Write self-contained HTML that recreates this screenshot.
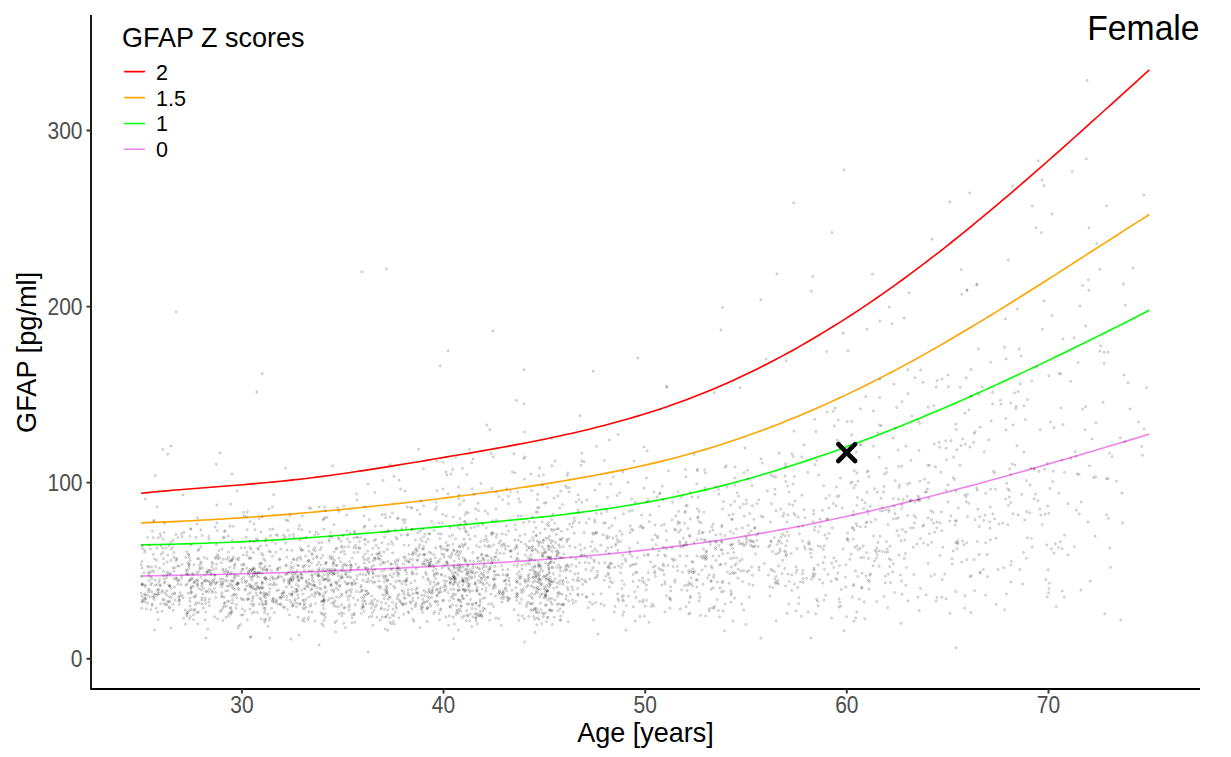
<!DOCTYPE html>
<html><head><meta charset="utf-8"><style>html,body{margin:0;padding:0;background:#fff;width:1231px;height:757px;overflow:hidden}svg{display:block}</style></head>
<body><svg width="1231" height="757" viewBox="0 0 1231 757">
<rect width="1231" height="757" fill="#fff"/>
<g fill="none" stroke-width="1.6" stroke-linejoin="round" stroke-linecap="butt">
<path d="M141.08,493.28 L147.42,492.63 L153.76,492.01 L160.10,491.41 L166.44,490.83 L172.78,490.27 L179.12,489.73 L185.46,489.21 L191.80,488.69 L198.15,488.19 L204.49,487.69 L210.83,487.19 L217.17,486.70 L223.51,486.20 L229.85,485.71 L236.19,485.20 L242.53,484.69 L248.88,484.16 L255.22,483.62 L261.56,483.06 L267.90,482.48 L274.24,481.88 L280.58,481.26 L286.92,480.60 L293.26,479.92 L299.60,479.21 L305.95,478.46 L312.29,477.69 L318.63,476.89 L324.97,476.06 L331.31,475.21 L337.65,474.33 L343.99,473.43 L350.33,472.51 L356.68,471.58 L363.02,470.62 L369.36,469.65 L375.70,468.66 L382.04,467.66 L388.38,466.64 L394.72,465.61 L401.06,464.58 L407.41,463.53 L413.75,462.48 L420.09,461.42 L426.43,460.36 L432.77,459.29 L439.11,458.22 L445.45,457.15 L451.79,456.08 L458.13,455.01 L464.48,453.93 L470.82,452.84 L477.16,451.75 L483.50,450.64 L489.84,449.53 L496.18,448.40 L502.52,447.25 L508.86,446.09 L515.21,444.91 L521.55,443.71 L527.89,442.49 L534.23,441.24 L540.57,439.97 L546.91,438.67 L553.25,437.34 L559.59,435.98 L565.94,434.59 L572.28,433.16 L578.62,431.70 L584.96,430.20 L591.30,428.66 L597.64,427.08 L603.98,425.46 L610.32,423.79 L616.66,422.08 L623.01,420.31 L629.35,418.50 L635.69,416.64 L642.03,414.72 L648.37,412.75 L654.71,410.73 L661.05,408.64 L667.39,406.50 L673.74,404.29 L680.08,402.02 L686.42,399.68 L692.76,397.28 L699.10,394.81 L705.44,392.27 L711.78,389.66 L718.12,386.97 L724.46,384.22 L730.81,381.40 L737.15,378.51 L743.49,375.55 L749.83,372.52 L756.17,369.43 L762.51,366.26 L768.85,363.03 L775.19,359.73 L781.54,356.37 L787.88,352.93 L794.22,349.43 L800.56,345.87 L806.90,342.24 L813.24,338.54 L819.58,334.77 L825.92,330.94 L832.27,327.05 L838.61,323.09 L844.95,319.07 L851.29,314.98 L857.63,310.83 L863.97,306.62 L870.31,302.34 L876.65,298.00 L882.99,293.60 L889.34,289.13 L895.68,284.61 L902.02,280.02 L908.36,275.37 L914.70,270.66 L921.04,265.89 L927.38,261.07 L933.72,256.19 L940.07,251.26 L946.41,246.28 L952.75,241.25 L959.09,236.17 L965.43,231.05 L971.77,225.88 L978.11,220.67 L984.45,215.41 L990.80,210.12 L997.14,204.79 L1003.48,199.42 L1009.82,194.02 L1016.16,188.59 L1022.50,183.13 L1028.84,177.63 L1035.18,172.11 L1041.52,166.56 L1047.87,160.99 L1054.21,155.40 L1060.55,149.78 L1066.89,144.14 L1073.23,138.49 L1079.57,132.82 L1085.91,127.14 L1092.25,121.44 L1098.60,115.73 L1104.94,110.01 L1111.28,104.29 L1117.62,98.56 L1123.96,92.82 L1130.30,87.08 L1136.64,81.34 L1142.98,75.60 L1149.33,69.86" stroke="#FF0000"/>
<path d="M141.08,522.85 L147.42,522.63 L153.76,522.40 L160.10,522.16 L166.44,521.90 L172.78,521.62 L179.12,521.33 L185.46,521.03 L191.80,520.72 L198.15,520.38 L204.49,520.04 L210.83,519.68 L217.17,519.31 L223.51,518.93 L229.85,518.53 L236.19,518.12 L242.53,517.69 L248.88,517.26 L255.22,516.81 L261.56,516.34 L267.90,515.87 L274.24,515.38 L280.58,514.88 L286.92,514.37 L293.26,513.84 L299.60,513.31 L305.95,512.76 L312.29,512.20 L318.63,511.63 L324.97,511.04 L331.31,510.45 L337.65,509.84 L343.99,509.22 L350.33,508.59 L356.68,507.95 L363.02,507.30 L369.36,506.64 L375.70,505.97 L382.04,505.29 L388.38,504.59 L394.72,503.89 L401.06,503.18 L407.41,502.45 L413.75,501.72 L420.09,500.97 L426.43,500.22 L432.77,499.46 L439.11,498.68 L445.45,497.90 L451.79,497.11 L458.13,496.31 L464.48,495.49 L470.82,494.67 L477.16,493.83 L483.50,492.98 L489.84,492.12 L496.18,491.24 L502.52,490.35 L508.86,489.44 L515.21,488.52 L521.55,487.58 L527.89,486.62 L534.23,485.65 L540.57,484.66 L546.91,483.65 L553.25,482.62 L559.59,481.57 L565.94,480.50 L572.28,479.41 L578.62,478.30 L584.96,477.16 L591.30,476.01 L597.64,474.83 L603.98,473.62 L610.32,472.39 L616.66,471.14 L623.01,469.85 L629.35,468.53 L635.69,467.18 L642.03,465.79 L648.37,464.36 L654.71,462.88 L661.05,461.37 L667.39,459.81 L673.74,458.19 L680.08,456.53 L686.42,454.82 L692.76,453.05 L699.10,451.23 L705.44,449.36 L711.78,447.44 L718.12,445.46 L724.46,443.43 L730.81,441.35 L737.15,439.22 L743.49,437.04 L749.83,434.81 L756.17,432.53 L762.51,430.19 L768.85,427.81 L775.19,425.38 L781.54,422.89 L787.88,420.36 L794.22,417.78 L800.56,415.15 L806.90,412.47 L813.24,409.74 L819.58,406.97 L825.92,404.14 L832.27,401.27 L838.61,398.35 L844.95,395.38 L851.29,392.37 L857.63,389.31 L863.97,386.20 L870.31,383.05 L876.65,379.85 L882.99,376.60 L889.34,373.31 L895.68,369.97 L902.02,366.59 L908.36,363.16 L914.70,359.69 L921.04,356.17 L927.38,352.62 L933.72,349.03 L940.07,345.40 L946.41,341.73 L952.75,338.04 L959.09,334.30 L965.43,330.54 L971.77,326.75 L978.11,322.93 L984.45,319.08 L990.80,315.21 L997.14,311.31 L1003.48,307.39 L1009.82,303.45 L1016.16,299.49 L1022.50,295.51 L1028.84,291.52 L1035.18,287.51 L1041.52,283.49 L1047.87,279.46 L1054.21,275.41 L1060.55,271.36 L1066.89,267.30 L1073.23,263.24 L1079.57,259.17 L1085.91,255.09 L1092.25,251.02 L1098.60,246.95 L1104.94,242.88 L1111.28,238.81 L1117.62,234.74 L1123.96,230.68 L1130.30,226.63 L1136.64,222.59 L1142.98,218.56 L1149.33,214.54" stroke="#FFA500"/>
<path d="M141.08,544.89 L147.42,544.78 L153.76,544.66 L160.10,544.52 L166.44,544.38 L172.78,544.22 L179.12,544.05 L185.46,543.87 L191.80,543.67 L198.15,543.47 L204.49,543.25 L210.83,543.01 L217.17,542.77 L223.51,542.51 L229.85,542.24 L236.19,541.95 L242.53,541.66 L248.88,541.34 L255.22,541.02 L261.56,540.68 L267.90,540.33 L274.24,539.96 L280.58,539.58 L286.92,539.19 L293.26,538.78 L299.60,538.36 L305.95,537.92 L312.29,537.48 L318.63,537.02 L324.97,536.55 L331.31,536.06 L337.65,535.57 L343.99,535.07 L350.33,534.56 L356.68,534.04 L363.02,533.52 L369.36,532.98 L375.70,532.44 L382.04,531.90 L388.38,531.35 L394.72,530.80 L401.06,530.24 L407.41,529.68 L413.75,529.11 L420.09,528.55 L426.43,527.98 L432.77,527.41 L439.11,526.84 L445.45,526.28 L451.79,525.71 L458.13,525.14 L464.48,524.57 L470.82,524.00 L477.16,523.42 L483.50,522.84 L489.84,522.25 L496.18,521.65 L502.52,521.04 L508.86,520.42 L515.21,519.79 L521.55,519.15 L527.89,518.49 L534.23,517.82 L540.57,517.13 L546.91,516.43 L553.25,515.71 L559.59,514.96 L565.94,514.20 L572.28,513.41 L578.62,512.61 L584.96,511.77 L591.30,510.92 L597.64,510.03 L603.98,509.12 L610.32,508.18 L616.66,507.21 L623.01,506.21 L629.35,505.17 L635.69,504.11 L642.03,503.01 L648.37,501.87 L654.71,500.69 L661.05,499.48 L667.39,498.23 L673.74,496.94 L680.08,495.60 L686.42,494.23 L692.76,492.81 L699.10,491.35 L705.44,489.85 L711.78,488.31 L718.12,486.73 L724.46,485.11 L730.81,483.45 L737.15,481.75 L743.49,480.01 L749.83,478.23 L756.17,476.42 L762.51,474.57 L768.85,472.68 L775.19,470.76 L781.54,468.80 L787.88,466.81 L794.22,464.78 L800.56,462.72 L806.90,460.62 L813.24,458.49 L819.58,456.33 L825.92,454.14 L832.27,451.91 L838.61,449.65 L844.95,447.36 L851.29,445.04 L857.63,442.70 L863.97,440.32 L870.31,437.91 L876.65,435.47 L882.99,433.01 L889.34,430.52 L895.68,428.00 L902.02,425.45 L908.36,422.88 L914.70,420.28 L921.04,417.66 L927.38,415.01 L933.72,412.34 L940.07,409.64 L946.41,406.93 L952.75,404.18 L959.09,401.42 L965.43,398.63 L971.77,395.82 L978.11,392.99 L984.45,390.14 L990.80,387.27 L997.14,384.38 L1003.48,381.47 L1009.82,378.55 L1016.16,375.60 L1022.50,372.64 L1028.84,369.65 L1035.18,366.66 L1041.52,363.64 L1047.87,360.61 L1054.21,357.56 L1060.55,354.50 L1066.89,351.43 L1073.23,348.34 L1079.57,345.23 L1085.91,342.12 L1092.25,338.99 L1098.60,335.85 L1104.94,332.69 L1111.28,329.53 L1117.62,326.36 L1123.96,323.17 L1130.30,319.97 L1136.64,316.77 L1142.98,313.56 L1149.33,310.33" stroke="#00FF00"/>
<path d="M141.08,575.97 L147.42,575.87 L153.76,575.76 L160.10,575.65 L166.44,575.53 L172.78,575.41 L179.12,575.29 L185.46,575.16 L191.80,575.03 L198.15,574.89 L204.49,574.75 L210.83,574.60 L217.17,574.45 L223.51,574.30 L229.85,574.13 L236.19,573.97 L242.53,573.80 L248.88,573.63 L255.22,573.45 L261.56,573.26 L267.90,573.07 L274.24,572.88 L280.58,572.68 L286.92,572.48 L293.26,572.27 L299.60,572.06 L305.95,571.84 L312.29,571.62 L318.63,571.39 L324.97,571.15 L331.31,570.92 L337.65,570.67 L343.99,570.42 L350.33,570.17 L356.68,569.91 L363.02,569.65 L369.36,569.38 L375.70,569.10 L382.04,568.82 L388.38,568.53 L394.72,568.24 L401.06,567.95 L407.41,567.64 L413.75,567.34 L420.09,567.02 L426.43,566.70 L432.77,566.38 L439.11,566.05 L445.45,565.71 L451.79,565.37 L458.13,565.02 L464.48,564.67 L470.82,564.30 L477.16,563.93 L483.50,563.56 L489.84,563.17 L496.18,562.78 L502.52,562.37 L508.86,561.96 L515.21,561.53 L521.55,561.10 L527.89,560.66 L534.23,560.20 L540.57,559.74 L546.91,559.26 L553.25,558.77 L559.59,558.26 L565.94,557.75 L572.28,557.22 L578.62,556.67 L584.96,556.11 L591.30,555.54 L597.64,554.95 L603.98,554.35 L610.32,553.73 L616.66,553.10 L623.01,552.45 L629.35,551.78 L635.69,551.09 L642.03,550.39 L648.37,549.67 L654.71,548.92 L661.05,548.17 L667.39,547.39 L673.74,546.59 L680.08,545.77 L686.42,544.93 L692.76,544.07 L699.10,543.19 L705.44,542.29 L711.78,541.36 L718.12,540.42 L724.46,539.45 L730.81,538.45 L737.15,537.43 L743.49,536.39 L749.83,535.33 L756.17,534.24 L762.51,533.13 L768.85,531.99 L775.19,530.83 L781.54,529.65 L787.88,528.45 L794.22,527.22 L800.56,525.98 L806.90,524.71 L813.24,523.42 L819.58,522.11 L825.92,520.78 L832.27,519.44 L838.61,518.07 L844.95,516.68 L851.29,515.27 L857.63,513.85 L863.97,512.41 L870.31,510.95 L876.65,509.47 L882.99,507.97 L889.34,506.46 L895.68,504.93 L902.02,503.39 L908.36,501.83 L914.70,500.25 L921.04,498.66 L927.38,497.05 L933.72,495.43 L940.07,493.80 L946.41,492.15 L952.75,490.49 L959.09,488.82 L965.43,487.13 L971.77,485.43 L978.11,483.72 L984.45,481.99 L990.80,480.26 L997.14,478.51 L1003.48,476.75 L1009.82,474.99 L1016.16,473.21 L1022.50,471.42 L1028.84,469.62 L1035.18,467.82 L1041.52,466.00 L1047.87,464.18 L1054.21,462.35 L1060.55,460.51 L1066.89,458.66 L1073.23,456.81 L1079.57,454.95 L1085.91,453.08 L1092.25,451.21 L1098.60,449.33 L1104.94,447.45 L1111.28,445.56 L1117.62,443.66 L1123.96,441.76 L1130.30,439.86 L1136.64,437.95 L1142.98,436.04 L1149.33,434.13" stroke="#EE82EE"/>
</g>
<g fill="#000" fill-opacity="0.06" stroke="#000" stroke-opacity="0.22" stroke-width="0.8"><circle cx="309.2" cy="566.2" r="1.05"/><circle cx="375.4" cy="559.6" r="1.05"/><circle cx="771.0" cy="475.1" r="1.05"/><circle cx="622.8" cy="471.9" r="1.05"/><circle cx="430.5" cy="558.9" r="1.05"/><circle cx="387.3" cy="549.4" r="1.05"/><circle cx="549.6" cy="558.1" r="1.05"/><circle cx="279.2" cy="575.7" r="1.05"/><circle cx="618.5" cy="565.7" r="1.05"/><circle cx="977.3" cy="490.1" r="1.05"/><circle cx="324.7" cy="592.7" r="1.05"/><circle cx="990.3" cy="507.0" r="1.05"/><circle cx="611.9" cy="525.6" r="1.05"/><circle cx="211.9" cy="566.9" r="1.05"/><circle cx="460.5" cy="524.4" r="1.05"/><circle cx="889.9" cy="546.3" r="1.05"/><circle cx="648.4" cy="572.5" r="1.05"/><circle cx="382.6" cy="561.8" r="1.05"/><circle cx="692.7" cy="585.8" r="1.05"/><circle cx="303.9" cy="600.6" r="1.05"/><circle cx="201.3" cy="563.4" r="1.05"/><circle cx="259.3" cy="588.1" r="1.05"/><circle cx="392.7" cy="544.4" r="1.05"/><circle cx="470.3" cy="569.6" r="1.05"/><circle cx="338.2" cy="589.8" r="1.05"/><circle cx="794.4" cy="584.1" r="1.05"/><circle cx="284.0" cy="538.7" r="1.05"/><circle cx="236.8" cy="583.6" r="1.05"/><circle cx="208.8" cy="602.1" r="1.05"/><circle cx="549.7" cy="610.1" r="1.05"/><circle cx="845.7" cy="587.1" r="1.05"/><circle cx="551.0" cy="581.8" r="1.05"/><circle cx="960.2" cy="387.3" r="1.05"/><circle cx="681.6" cy="589.8" r="1.05"/><circle cx="853.5" cy="511.6" r="1.05"/><circle cx="955.8" cy="491.1" r="1.05"/><circle cx="524.6" cy="642.0" r="1.05"/><circle cx="970.0" cy="576.6" r="1.05"/><circle cx="487.4" cy="541.6" r="1.05"/><circle cx="343.6" cy="623.3" r="1.05"/><circle cx="464.6" cy="528.9" r="1.05"/><circle cx="609.3" cy="565.1" r="1.05"/><circle cx="385.9" cy="616.9" r="1.05"/><circle cx="331.3" cy="583.9" r="1.05"/><circle cx="392.5" cy="513.1" r="1.05"/><circle cx="332.6" cy="574.5" r="1.05"/><circle cx="404.1" cy="597.6" r="1.05"/><circle cx="144.6" cy="549.9" r="1.05"/><circle cx="567.3" cy="475.4" r="1.05"/><circle cx="350.0" cy="532.9" r="1.05"/><circle cx="191.3" cy="609.4" r="1.05"/><circle cx="558.8" cy="544.8" r="1.05"/><circle cx="271.5" cy="608.4" r="1.05"/><circle cx="366.3" cy="594.9" r="1.05"/><circle cx="460.1" cy="518.5" r="1.05"/><circle cx="252.1" cy="613.2" r="1.05"/><circle cx="474.7" cy="613.9" r="1.05"/><circle cx="475.7" cy="608.8" r="1.05"/><circle cx="329.9" cy="556.4" r="1.05"/><circle cx="361.2" cy="585.5" r="1.05"/><circle cx="347.5" cy="584.3" r="1.05"/><circle cx="333.8" cy="603.1" r="1.05"/><circle cx="479.4" cy="547.1" r="1.05"/><circle cx="297.9" cy="575.7" r="1.05"/><circle cx="487.9" cy="577.1" r="1.05"/><circle cx="323.2" cy="600.7" r="1.05"/><circle cx="824.0" cy="600.1" r="1.05"/><circle cx="274.3" cy="582.9" r="1.05"/><circle cx="855.7" cy="618.0" r="1.05"/><circle cx="272.9" cy="598.1" r="1.05"/><circle cx="713.1" cy="524.1" r="1.05"/><circle cx="555.6" cy="542.6" r="1.05"/><circle cx="295.8" cy="592.3" r="1.05"/><circle cx="724.5" cy="630.7" r="1.05"/><circle cx="325.5" cy="564.1" r="1.05"/><circle cx="204.2" cy="557.5" r="1.05"/><circle cx="559.5" cy="568.2" r="1.05"/><circle cx="518.2" cy="515.9" r="1.05"/><circle cx="573.0" cy="523.2" r="1.05"/><circle cx="270.0" cy="617.8" r="1.05"/><circle cx="324.7" cy="587.0" r="1.05"/><circle cx="633.1" cy="581.6" r="1.05"/><circle cx="200.8" cy="529.9" r="1.05"/><circle cx="873.6" cy="446.2" r="1.05"/><circle cx="454.6" cy="572.4" r="1.05"/><circle cx="559.8" cy="547.2" r="1.05"/><circle cx="372.7" cy="548.3" r="1.05"/><circle cx="273.4" cy="599.1" r="1.05"/><circle cx="148.1" cy="589.4" r="1.05"/><circle cx="296.4" cy="584.4" r="1.05"/><circle cx="866.5" cy="552.5" r="1.05"/><circle cx="1040.7" cy="515.1" r="1.05"/><circle cx="460.4" cy="567.9" r="1.05"/><circle cx="421.4" cy="609.6" r="1.05"/><circle cx="345.2" cy="607.5" r="1.05"/><circle cx="1025.3" cy="419.5" r="1.05"/><circle cx="184.0" cy="532.4" r="1.05"/><circle cx="443.1" cy="488.9" r="1.05"/><circle cx="265.8" cy="619.2" r="1.05"/><circle cx="318.7" cy="570.1" r="1.05"/><circle cx="749.3" cy="584.2" r="1.05"/><circle cx="291.8" cy="595.3" r="1.05"/><circle cx="528.3" cy="579.5" r="1.05"/><circle cx="412.7" cy="564.9" r="1.05"/><circle cx="496.3" cy="553.1" r="1.05"/><circle cx="387.8" cy="630.3" r="1.05"/><circle cx="350.2" cy="595.7" r="1.05"/><circle cx="349.6" cy="541.9" r="1.05"/><circle cx="204.1" cy="581.2" r="1.05"/><circle cx="478.8" cy="615.7" r="1.05"/><circle cx="885.4" cy="576.2" r="1.05"/><circle cx="987.2" cy="554.6" r="1.05"/><circle cx="161.2" cy="554.3" r="1.05"/><circle cx="230.9" cy="607.8" r="1.05"/><circle cx="709.8" cy="531.8" r="1.05"/><circle cx="904.7" cy="540.3" r="1.05"/><circle cx="265.2" cy="566.4" r="1.05"/><circle cx="386.3" cy="586.0" r="1.05"/><circle cx="420.9" cy="606.4" r="1.05"/><circle cx="397.7" cy="596.2" r="1.05"/><circle cx="503.0" cy="593.5" r="1.05"/><circle cx="147.5" cy="537.4" r="1.05"/><circle cx="451.5" cy="597.5" r="1.05"/><circle cx="877.3" cy="492.1" r="1.05"/><circle cx="205.6" cy="603.4" r="1.05"/><circle cx="480.2" cy="594.7" r="1.05"/><circle cx="478.5" cy="568.3" r="1.05"/><circle cx="752.5" cy="575.3" r="1.05"/><circle cx="660.1" cy="492.8" r="1.05"/><circle cx="343.6" cy="607.8" r="1.05"/><circle cx="615.4" cy="545.5" r="1.05"/><circle cx="398.2" cy="518.1" r="1.05"/><circle cx="734.7" cy="598.1" r="1.05"/><circle cx="622.2" cy="580.7" r="1.05"/><circle cx="1052.2" cy="315.5" r="1.05"/><circle cx="862.0" cy="573.3" r="1.05"/><circle cx="175.0" cy="567.6" r="1.05"/><circle cx="355.9" cy="583.1" r="1.05"/><circle cx="856.0" cy="523.4" r="1.05"/><circle cx="550.7" cy="601.9" r="1.05"/><circle cx="395.8" cy="581.6" r="1.05"/><circle cx="182.0" cy="595.4" r="1.05"/><circle cx="142.0" cy="567.9" r="1.05"/><circle cx="209.6" cy="582.1" r="1.05"/><circle cx="1106.5" cy="478.7" r="1.05"/><circle cx="744.4" cy="516.1" r="1.05"/><circle cx="864.1" cy="601.7" r="1.05"/><circle cx="476.2" cy="603.1" r="1.05"/><circle cx="265.9" cy="604.4" r="1.05"/><circle cx="516.0" cy="597.2" r="1.05"/><circle cx="453.2" cy="617.1" r="1.05"/><circle cx="261.6" cy="569.1" r="1.05"/><circle cx="263.7" cy="595.1" r="1.05"/><circle cx="332.0" cy="537.3" r="1.05"/><circle cx="979.6" cy="516.7" r="1.05"/><circle cx="1079.4" cy="513.8" r="1.05"/><circle cx="655.9" cy="544.6" r="1.05"/><circle cx="679.6" cy="541.7" r="1.05"/><circle cx="691.0" cy="571.2" r="1.05"/><circle cx="503.8" cy="553.5" r="1.05"/><circle cx="272.3" cy="541.5" r="1.05"/><circle cx="877.3" cy="554.7" r="1.05"/><circle cx="881.2" cy="425.7" r="1.05"/><circle cx="663.0" cy="570.4" r="1.05"/><circle cx="962.7" cy="438.9" r="1.05"/><circle cx="1058.7" cy="493.3" r="1.05"/><circle cx="493.5" cy="587.0" r="1.05"/><circle cx="721.7" cy="542.2" r="1.05"/><circle cx="558.7" cy="603.9" r="1.05"/><circle cx="226.0" cy="617.4" r="1.05"/><circle cx="374.9" cy="581.8" r="1.05"/><circle cx="191.0" cy="591.3" r="1.05"/><circle cx="890.5" cy="582.5" r="1.05"/><circle cx="157.2" cy="506.8" r="1.05"/><circle cx="518.4" cy="559.4" r="1.05"/><circle cx="272.4" cy="600.4" r="1.05"/><circle cx="249.7" cy="569.6" r="1.05"/><circle cx="263.7" cy="568.3" r="1.05"/><circle cx="876.3" cy="551.8" r="1.05"/><circle cx="487.0" cy="583.1" r="1.05"/><circle cx="393.3" cy="621.5" r="1.05"/><circle cx="1141.8" cy="446.5" r="1.05"/><circle cx="524.5" cy="479.1" r="1.05"/><circle cx="365.5" cy="539.6" r="1.05"/><circle cx="415.4" cy="540.2" r="1.05"/><circle cx="646.4" cy="585.1" r="1.05"/><circle cx="229.9" cy="607.9" r="1.05"/><circle cx="722.5" cy="509.2" r="1.05"/><circle cx="886.0" cy="509.6" r="1.05"/><circle cx="475.1" cy="582.4" r="1.05"/><circle cx="458.5" cy="586.3" r="1.05"/><circle cx="246.9" cy="555.3" r="1.05"/><circle cx="451.6" cy="555.3" r="1.05"/><circle cx="730.1" cy="574.1" r="1.05"/><circle cx="446.5" cy="581.1" r="1.05"/><circle cx="560.7" cy="616.2" r="1.05"/><circle cx="173.3" cy="610.4" r="1.05"/><circle cx="303.6" cy="565.9" r="1.05"/><circle cx="291.8" cy="594.3" r="1.05"/><circle cx="1061.9" cy="548.7" r="1.05"/><circle cx="173.9" cy="578.7" r="1.05"/><circle cx="300.3" cy="539.7" r="1.05"/><circle cx="164.1" cy="604.1" r="1.05"/><circle cx="578.7" cy="581.0" r="1.05"/><circle cx="595.0" cy="577.9" r="1.05"/><circle cx="167.8" cy="555.1" r="1.05"/><circle cx="457.5" cy="568.6" r="1.05"/><circle cx="267.8" cy="614.0" r="1.05"/><circle cx="453.6" cy="549.8" r="1.05"/><circle cx="417.0" cy="559.8" r="1.05"/><circle cx="304.6" cy="587.8" r="1.05"/><circle cx="828.2" cy="574.3" r="1.05"/><circle cx="642.5" cy="581.0" r="1.05"/><circle cx="472.8" cy="616.9" r="1.05"/><circle cx="436.8" cy="589.0" r="1.05"/><circle cx="221.6" cy="595.5" r="1.05"/><circle cx="551.7" cy="598.7" r="1.05"/><circle cx="494.0" cy="585.2" r="1.05"/><circle cx="918.0" cy="597.0" r="1.05"/><circle cx="1031.6" cy="380.8" r="1.05"/><circle cx="786.5" cy="554.5" r="1.05"/><circle cx="862.0" cy="587.5" r="1.05"/><circle cx="488.0" cy="547.0" r="1.05"/><circle cx="417.7" cy="560.5" r="1.05"/><circle cx="477.2" cy="590.8" r="1.05"/><circle cx="514.0" cy="609.6" r="1.05"/><circle cx="796.9" cy="548.6" r="1.05"/><circle cx="252.7" cy="571.4" r="1.05"/><circle cx="550.6" cy="547.5" r="1.05"/><circle cx="918.9" cy="450.5" r="1.05"/><circle cx="305.6" cy="556.2" r="1.05"/><circle cx="354.1" cy="614.6" r="1.05"/><circle cx="829.0" cy="533.5" r="1.05"/><circle cx="593.5" cy="619.8" r="1.05"/><circle cx="1023.9" cy="405.8" r="1.05"/><circle cx="581.7" cy="554.9" r="1.05"/><circle cx="991.2" cy="420.8" r="1.05"/><circle cx="808.8" cy="541.7" r="1.05"/><circle cx="620.8" cy="567.5" r="1.05"/><circle cx="281.6" cy="596.6" r="1.05"/><circle cx="299.0" cy="635.3" r="1.05"/><circle cx="856.9" cy="545.8" r="1.05"/><circle cx="635.0" cy="502.3" r="1.05"/><circle cx="457.7" cy="584.0" r="1.05"/><circle cx="467.7" cy="566.2" r="1.05"/><circle cx="148.7" cy="574.4" r="1.05"/><circle cx="802.9" cy="570.6" r="1.05"/><circle cx="371.5" cy="581.0" r="1.05"/><circle cx="390.5" cy="569.6" r="1.05"/><circle cx="193.9" cy="596.8" r="1.05"/><circle cx="564.1" cy="554.0" r="1.05"/><circle cx="747.6" cy="479.2" r="1.05"/><circle cx="499.1" cy="543.2" r="1.05"/><circle cx="476.5" cy="567.2" r="1.05"/><circle cx="739.6" cy="561.0" r="1.05"/><circle cx="212.5" cy="564.1" r="1.05"/><circle cx="521.0" cy="589.8" r="1.05"/><circle cx="711.0" cy="581.4" r="1.05"/><circle cx="412.1" cy="529.7" r="1.05"/><circle cx="875.1" cy="550.3" r="1.05"/><circle cx="466.7" cy="610.6" r="1.05"/><circle cx="226.7" cy="559.2" r="1.05"/><circle cx="1050.5" cy="422.1" r="1.05"/><circle cx="466.3" cy="531.8" r="1.05"/><circle cx="715.8" cy="560.5" r="1.05"/><circle cx="198.8" cy="549.3" r="1.05"/><circle cx="785.6" cy="552.3" r="1.05"/><circle cx="253.4" cy="605.8" r="1.05"/><circle cx="233.4" cy="588.4" r="1.05"/><circle cx="345.6" cy="573.7" r="1.05"/><circle cx="452.6" cy="604.7" r="1.05"/><circle cx="480.9" cy="580.9" r="1.05"/><circle cx="454.4" cy="568.5" r="1.05"/><circle cx="166.5" cy="594.9" r="1.05"/><circle cx="549.0" cy="568.5" r="1.05"/><circle cx="702.5" cy="558.4" r="1.05"/><circle cx="1055.3" cy="543.9" r="1.05"/><circle cx="529.6" cy="560.3" r="1.05"/><circle cx="960.0" cy="465.2" r="1.05"/><circle cx="996.2" cy="604.4" r="1.05"/><circle cx="298.2" cy="598.0" r="1.05"/><circle cx="190.0" cy="560.5" r="1.05"/><circle cx="266.5" cy="569.9" r="1.05"/><circle cx="705.6" cy="616.0" r="1.05"/><circle cx="334.1" cy="573.9" r="1.05"/><circle cx="224.0" cy="537.0" r="1.05"/><circle cx="980.1" cy="427.1" r="1.05"/><circle cx="631.6" cy="529.2" r="1.05"/><circle cx="1008.5" cy="505.3" r="1.05"/><circle cx="384.9" cy="576.2" r="1.05"/><circle cx="283.3" cy="607.2" r="1.05"/><circle cx="242.2" cy="582.3" r="1.05"/><circle cx="262.4" cy="582.7" r="1.05"/><circle cx="777.3" cy="582.9" r="1.05"/><circle cx="297.6" cy="565.3" r="1.05"/><circle cx="856.8" cy="612.2" r="1.05"/><circle cx="182.8" cy="494.9" r="1.05"/><circle cx="423.3" cy="554.7" r="1.05"/><circle cx="438.4" cy="583.3" r="1.05"/><circle cx="1048.9" cy="513.3" r="1.05"/><circle cx="906.4" cy="567.5" r="1.05"/><circle cx="425.6" cy="572.4" r="1.05"/><circle cx="452.6" cy="573.6" r="1.05"/><circle cx="669.8" cy="608.1" r="1.05"/><circle cx="579.4" cy="522.4" r="1.05"/><circle cx="901.1" cy="540.9" r="1.05"/><circle cx="636.0" cy="597.5" r="1.05"/><circle cx="502.3" cy="533.8" r="1.05"/><circle cx="910.9" cy="460.5" r="1.05"/><circle cx="386.0" cy="592.5" r="1.05"/><circle cx="413.0" cy="593.8" r="1.05"/><circle cx="401.1" cy="535.2" r="1.05"/><circle cx="483.6" cy="584.7" r="1.05"/><circle cx="166.6" cy="578.0" r="1.05"/><circle cx="465.0" cy="514.6" r="1.05"/><circle cx="375.3" cy="606.8" r="1.05"/><circle cx="321.0" cy="612.9" r="1.05"/><circle cx="324.1" cy="599.8" r="1.05"/><circle cx="771.2" cy="569.4" r="1.05"/><circle cx="426.4" cy="574.4" r="1.05"/><circle cx="1060.7" cy="374.0" r="1.05"/><circle cx="445.8" cy="586.5" r="1.05"/><circle cx="367.0" cy="570.8" r="1.05"/><circle cx="808.3" cy="611.9" r="1.05"/><circle cx="298.7" cy="580.7" r="1.05"/><circle cx="344.7" cy="554.3" r="1.05"/><circle cx="357.5" cy="537.4" r="1.05"/><circle cx="236.7" cy="597.8" r="1.05"/><circle cx="713.1" cy="556.0" r="1.05"/><circle cx="455.9" cy="457.5" r="1.05"/><circle cx="234.1" cy="577.2" r="1.05"/><circle cx="517.7" cy="596.5" r="1.05"/><circle cx="482.9" cy="611.1" r="1.05"/><circle cx="494.8" cy="584.4" r="1.05"/><circle cx="666.6" cy="540.4" r="1.05"/><circle cx="190.1" cy="606.0" r="1.05"/><circle cx="485.3" cy="511.0" r="1.05"/><circle cx="179.1" cy="599.1" r="1.05"/><circle cx="1048.6" cy="592.9" r="1.05"/><circle cx="603.1" cy="534.7" r="1.05"/><circle cx="266.2" cy="579.2" r="1.05"/><circle cx="940.0" cy="522.8" r="1.05"/><circle cx="270.5" cy="535.6" r="1.05"/><circle cx="403.5" cy="591.5" r="1.05"/><circle cx="176.0" cy="561.1" r="1.05"/><circle cx="415.8" cy="589.4" r="1.05"/><circle cx="231.1" cy="580.7" r="1.05"/><circle cx="745.6" cy="544.5" r="1.05"/><circle cx="453.8" cy="550.7" r="1.05"/><circle cx="777.3" cy="544.6" r="1.05"/><circle cx="269.7" cy="566.1" r="1.05"/><circle cx="913.4" cy="527.8" r="1.05"/><circle cx="684.6" cy="523.4" r="1.05"/><circle cx="176.6" cy="580.1" r="1.05"/><circle cx="477.3" cy="587.3" r="1.05"/><circle cx="189.4" cy="564.9" r="1.05"/><circle cx="678.7" cy="532.3" r="1.05"/><circle cx="409.9" cy="601.8" r="1.05"/><circle cx="742.1" cy="559.4" r="1.05"/><circle cx="884.2" cy="596.6" r="1.05"/><circle cx="271.5" cy="576.5" r="1.05"/><circle cx="787.5" cy="486.1" r="1.05"/><circle cx="424.0" cy="564.0" r="1.05"/><circle cx="596.4" cy="513.2" r="1.05"/><circle cx="1043.8" cy="300.8" r="1.05"/><circle cx="630.3" cy="525.8" r="1.05"/><circle cx="304.6" cy="618.2" r="1.05"/><circle cx="141.2" cy="593.1" r="1.05"/><circle cx="223.4" cy="570.9" r="1.05"/><circle cx="359.1" cy="567.0" r="1.05"/><circle cx="191.9" cy="578.0" r="1.05"/><circle cx="190.0" cy="601.4" r="1.05"/><circle cx="985.6" cy="595.2" r="1.05"/><circle cx="253.2" cy="569.0" r="1.05"/><circle cx="388.2" cy="530.4" r="1.05"/><circle cx="1024.7" cy="520.0" r="1.05"/><circle cx="515.8" cy="547.0" r="1.05"/><circle cx="642.6" cy="577.9" r="1.05"/><circle cx="353.9" cy="580.6" r="1.05"/><circle cx="610.5" cy="581.5" r="1.05"/><circle cx="261.6" cy="553.4" r="1.05"/><circle cx="397.2" cy="598.7" r="1.05"/><circle cx="919.9" cy="500.6" r="1.05"/><circle cx="687.4" cy="505.5" r="1.05"/><circle cx="469.0" cy="572.0" r="1.05"/><circle cx="467.1" cy="604.1" r="1.05"/><circle cx="703.0" cy="532.4" r="1.05"/><circle cx="435.5" cy="578.6" r="1.05"/><circle cx="456.4" cy="605.6" r="1.05"/><circle cx="536.6" cy="573.5" r="1.05"/><circle cx="532.7" cy="577.3" r="1.05"/><circle cx="468.2" cy="548.4" r="1.05"/><circle cx="552.4" cy="582.0" r="1.05"/><circle cx="251.9" cy="577.3" r="1.05"/><circle cx="698.8" cy="521.6" r="1.05"/><circle cx="261.3" cy="618.9" r="1.05"/><circle cx="785.2" cy="475.8" r="1.05"/><circle cx="538.8" cy="566.7" r="1.05"/><circle cx="966.8" cy="559.6" r="1.05"/><circle cx="448.6" cy="568.1" r="1.05"/><circle cx="601.3" cy="513.6" r="1.05"/><circle cx="195.3" cy="597.0" r="1.05"/><circle cx="365.6" cy="590.9" r="1.05"/><circle cx="261.0" cy="532.0" r="1.05"/><circle cx="613.4" cy="477.0" r="1.05"/><circle cx="230.6" cy="504.2" r="1.05"/><circle cx="489.9" cy="569.0" r="1.05"/><circle cx="328.0" cy="600.5" r="1.05"/><circle cx="265.2" cy="601.5" r="1.05"/><circle cx="791.3" cy="553.5" r="1.05"/><circle cx="321.4" cy="601.6" r="1.05"/><circle cx="200.0" cy="568.8" r="1.05"/><circle cx="431.5" cy="521.3" r="1.05"/><circle cx="296.9" cy="603.3" r="1.05"/><circle cx="668.5" cy="470.8" r="1.05"/><circle cx="559.9" cy="593.6" r="1.05"/><circle cx="990.4" cy="539.8" r="1.05"/><circle cx="841.1" cy="589.5" r="1.05"/><circle cx="367.6" cy="551.0" r="1.05"/><circle cx="854.1" cy="530.3" r="1.05"/><circle cx="328.2" cy="576.9" r="1.05"/><circle cx="843.9" cy="630.6" r="1.05"/><circle cx="248.3" cy="594.2" r="1.05"/><circle cx="954.6" cy="479.5" r="1.05"/><circle cx="535.0" cy="632.4" r="1.05"/><circle cx="466.9" cy="474.5" r="1.05"/><circle cx="439.1" cy="562.0" r="1.05"/><circle cx="420.4" cy="530.8" r="1.05"/><circle cx="257.3" cy="587.3" r="1.05"/><circle cx="569.7" cy="524.2" r="1.05"/><circle cx="404.4" cy="522.6" r="1.05"/><circle cx="232.5" cy="603.2" r="1.05"/><circle cx="471.6" cy="462.7" r="1.05"/><circle cx="544.1" cy="597.9" r="1.05"/><circle cx="686.7" cy="544.8" r="1.05"/><circle cx="597.5" cy="575.2" r="1.05"/><circle cx="453.5" cy="576.3" r="1.05"/><circle cx="689.8" cy="613.3" r="1.05"/><circle cx="663.6" cy="565.8" r="1.05"/><circle cx="423.5" cy="603.3" r="1.05"/><circle cx="454.3" cy="576.9" r="1.05"/><circle cx="403.4" cy="564.1" r="1.05"/><circle cx="746.3" cy="539.3" r="1.05"/><circle cx="246.8" cy="581.3" r="1.05"/><circle cx="794.1" cy="431.2" r="1.05"/><circle cx="545.3" cy="551.4" r="1.05"/><circle cx="415.7" cy="550.1" r="1.05"/><circle cx="978.4" cy="348.8" r="1.05"/><circle cx="1007.8" cy="488.8" r="1.05"/><circle cx="1030.9" cy="468.1" r="1.05"/><circle cx="215.6" cy="558.3" r="1.05"/><circle cx="484.3" cy="576.9" r="1.05"/><circle cx="942.0" cy="379.1" r="1.05"/><circle cx="147.4" cy="595.0" r="1.05"/><circle cx="363.0" cy="580.3" r="1.05"/><circle cx="467.8" cy="573.8" r="1.05"/><circle cx="346.8" cy="583.7" r="1.05"/><circle cx="538.3" cy="565.4" r="1.05"/><circle cx="517.7" cy="581.7" r="1.05"/><circle cx="831.5" cy="618.1" r="1.05"/><circle cx="318.3" cy="534.2" r="1.05"/><circle cx="719.9" cy="564.8" r="1.05"/><circle cx="486.4" cy="538.9" r="1.05"/><circle cx="1023.5" cy="552.6" r="1.05"/><circle cx="850.5" cy="483.0" r="1.05"/><circle cx="156.1" cy="608.3" r="1.05"/><circle cx="436.7" cy="507.3" r="1.05"/><circle cx="329.8" cy="580.0" r="1.05"/><circle cx="482.7" cy="582.9" r="1.05"/><circle cx="1120.7" cy="619.8" r="1.05"/><circle cx="541.6" cy="623.6" r="1.05"/><circle cx="192.0" cy="592.5" r="1.05"/><circle cx="709.2" cy="575.0" r="1.05"/><circle cx="289.6" cy="593.8" r="1.05"/><circle cx="469.2" cy="586.3" r="1.05"/><circle cx="574.5" cy="520.8" r="1.05"/><circle cx="929.4" cy="533.7" r="1.05"/><circle cx="393.6" cy="586.2" r="1.05"/><circle cx="609.3" cy="586.9" r="1.05"/><circle cx="167.0" cy="605.1" r="1.05"/><circle cx="187.1" cy="571.2" r="1.05"/><circle cx="453.0" cy="585.0" r="1.05"/><circle cx="546.0" cy="579.4" r="1.05"/><circle cx="350.7" cy="567.8" r="1.05"/><circle cx="703.4" cy="548.9" r="1.05"/><circle cx="378.5" cy="548.0" r="1.05"/><circle cx="341.0" cy="552.3" r="1.05"/><circle cx="646.5" cy="600.4" r="1.05"/><circle cx="661.9" cy="584.9" r="1.05"/><circle cx="1048.8" cy="375.7" r="1.05"/><circle cx="239.2" cy="589.7" r="1.05"/><circle cx="212.2" cy="562.3" r="1.05"/><circle cx="815.2" cy="574.0" r="1.05"/><circle cx="345.5" cy="627.6" r="1.05"/><circle cx="919.2" cy="610.6" r="1.05"/><circle cx="538.3" cy="588.9" r="1.05"/><circle cx="551.1" cy="580.6" r="1.05"/><circle cx="536.0" cy="536.0" r="1.05"/><circle cx="867.2" cy="472.1" r="1.05"/><circle cx="1108.0" cy="352.3" r="1.05"/><circle cx="422.7" cy="612.4" r="1.05"/><circle cx="265.3" cy="577.5" r="1.05"/><circle cx="915.6" cy="517.4" r="1.05"/><circle cx="446.8" cy="475.0" r="1.05"/><circle cx="464.8" cy="591.0" r="1.05"/><circle cx="472.1" cy="608.6" r="1.05"/><circle cx="525.4" cy="564.4" r="1.05"/><circle cx="185.8" cy="585.4" r="1.05"/><circle cx="152.1" cy="578.5" r="1.05"/><circle cx="733.4" cy="533.6" r="1.05"/><circle cx="571.0" cy="557.3" r="1.05"/><circle cx="432.7" cy="589.9" r="1.05"/><circle cx="596.7" cy="576.8" r="1.05"/><circle cx="356.5" cy="591.6" r="1.05"/><circle cx="431.1" cy="553.3" r="1.05"/><circle cx="324.1" cy="600.6" r="1.05"/><circle cx="243.2" cy="615.0" r="1.05"/><circle cx="546.8" cy="524.5" r="1.05"/><circle cx="697.3" cy="539.7" r="1.05"/><circle cx="554.0" cy="498.1" r="1.05"/><circle cx="330.0" cy="536.3" r="1.05"/><circle cx="580.9" cy="550.2" r="1.05"/><circle cx="444.7" cy="590.9" r="1.05"/><circle cx="462.4" cy="468.4" r="1.05"/><circle cx="150.5" cy="576.9" r="1.05"/><circle cx="906.0" cy="446.3" r="1.05"/><circle cx="356.8" cy="537.2" r="1.05"/><circle cx="408.8" cy="545.4" r="1.05"/><circle cx="485.0" cy="545.8" r="1.05"/><circle cx="435.4" cy="573.7" r="1.05"/><circle cx="707.5" cy="577.8" r="1.05"/><circle cx="595.5" cy="602.7" r="1.05"/><circle cx="378.5" cy="558.7" r="1.05"/><circle cx="573.0" cy="579.8" r="1.05"/><circle cx="631.5" cy="498.8" r="1.05"/><circle cx="459.7" cy="570.9" r="1.05"/><circle cx="334.0" cy="524.6" r="1.05"/><circle cx="856.8" cy="505.3" r="1.05"/><circle cx="145.1" cy="595.2" r="1.05"/><circle cx="674.9" cy="559.6" r="1.05"/><circle cx="785.7" cy="481.5" r="1.05"/><circle cx="297.1" cy="589.0" r="1.05"/><circle cx="537.6" cy="587.0" r="1.05"/><circle cx="1064.5" cy="472.4" r="1.05"/><circle cx="364.2" cy="559.3" r="1.05"/><circle cx="557.8" cy="496.1" r="1.05"/><circle cx="446.4" cy="549.7" r="1.05"/><circle cx="460.1" cy="528.9" r="1.05"/><circle cx="715.7" cy="549.3" r="1.05"/><circle cx="523.9" cy="458.6" r="1.05"/><circle cx="701.9" cy="570.1" r="1.05"/><circle cx="532.4" cy="550.9" r="1.05"/><circle cx="368.9" cy="574.0" r="1.05"/><circle cx="549.0" cy="546.2" r="1.05"/><circle cx="702.9" cy="556.4" r="1.05"/><circle cx="188.3" cy="593.3" r="1.05"/><circle cx="263.4" cy="604.5" r="1.05"/><circle cx="402.0" cy="583.8" r="1.05"/><circle cx="325.5" cy="571.7" r="1.05"/><circle cx="536.0" cy="511.9" r="1.05"/><circle cx="177.2" cy="559.2" r="1.05"/><circle cx="936.9" cy="522.1" r="1.05"/><circle cx="694.6" cy="571.4" r="1.05"/><circle cx="449.9" cy="606.4" r="1.05"/><circle cx="253.4" cy="552.6" r="1.05"/><circle cx="187.3" cy="574.0" r="1.05"/><circle cx="699.2" cy="511.4" r="1.05"/><circle cx="536.0" cy="527.7" r="1.05"/><circle cx="447.2" cy="545.7" r="1.05"/><circle cx="373.3" cy="573.8" r="1.05"/><circle cx="181.0" cy="584.6" r="1.05"/><circle cx="722.7" cy="581.4" r="1.05"/><circle cx="297.0" cy="590.6" r="1.05"/><circle cx="339.1" cy="558.2" r="1.05"/><circle cx="535.9" cy="575.9" r="1.05"/><circle cx="355.9" cy="564.3" r="1.05"/><circle cx="870.4" cy="506.4" r="1.05"/><circle cx="269.2" cy="584.5" r="1.05"/><circle cx="300.8" cy="574.2" r="1.05"/><circle cx="700.7" cy="556.5" r="1.05"/><circle cx="467.7" cy="616.1" r="1.05"/><circle cx="964.9" cy="413.3" r="1.05"/><circle cx="902.0" cy="594.3" r="1.05"/><circle cx="533.2" cy="582.3" r="1.05"/><circle cx="262.2" cy="588.0" r="1.05"/><circle cx="368.8" cy="558.3" r="1.05"/><circle cx="607.7" cy="567.0" r="1.05"/><circle cx="361.0" cy="587.4" r="1.05"/><circle cx="500.4" cy="593.2" r="1.05"/><circle cx="231.4" cy="572.4" r="1.05"/><circle cx="533.4" cy="577.4" r="1.05"/><circle cx="977.3" cy="541.5" r="1.05"/><circle cx="562.5" cy="603.8" r="1.05"/><circle cx="353.5" cy="597.9" r="1.05"/><circle cx="226.6" cy="576.3" r="1.05"/><circle cx="549.5" cy="609.9" r="1.05"/><circle cx="528.0" cy="563.2" r="1.05"/><circle cx="718.9" cy="545.5" r="1.05"/><circle cx="142.3" cy="545.8" r="1.05"/><circle cx="253.4" cy="596.4" r="1.05"/><circle cx="557.7" cy="596.1" r="1.05"/><circle cx="539.6" cy="571.7" r="1.05"/><circle cx="654.5" cy="573.2" r="1.05"/><circle cx="900.8" cy="623.4" r="1.05"/><circle cx="734.6" cy="478.0" r="1.05"/><circle cx="555.4" cy="558.9" r="1.05"/><circle cx="1109.6" cy="453.3" r="1.05"/><circle cx="390.3" cy="597.5" r="1.05"/><circle cx="319.2" cy="568.5" r="1.05"/><circle cx="339.8" cy="586.2" r="1.05"/><circle cx="567.0" cy="487.7" r="1.05"/><circle cx="229.4" cy="561.2" r="1.05"/><circle cx="442.6" cy="514.4" r="1.05"/><circle cx="395.9" cy="606.5" r="1.05"/><circle cx="229.2" cy="601.4" r="1.05"/><circle cx="811.6" cy="557.0" r="1.05"/><circle cx="818.0" cy="564.8" r="1.05"/><circle cx="327.0" cy="517.5" r="1.05"/><circle cx="206.9" cy="572.3" r="1.05"/><circle cx="566.1" cy="599.0" r="1.05"/><circle cx="291.9" cy="586.9" r="1.05"/><circle cx="543.4" cy="474.7" r="1.05"/><circle cx="430.2" cy="583.7" r="1.05"/><circle cx="853.7" cy="487.9" r="1.05"/><circle cx="371.7" cy="616.2" r="1.05"/><circle cx="505.6" cy="587.8" r="1.05"/><circle cx="201.7" cy="586.2" r="1.05"/><circle cx="410.8" cy="583.1" r="1.05"/><circle cx="914.2" cy="515.5" r="1.05"/><circle cx="248.5" cy="571.5" r="1.05"/><circle cx="715.9" cy="486.7" r="1.05"/><circle cx="464.0" cy="615.9" r="1.05"/><circle cx="535.0" cy="567.2" r="1.05"/><circle cx="901.7" cy="466.1" r="1.05"/><circle cx="911.7" cy="500.4" r="1.05"/><circle cx="457.9" cy="527.3" r="1.05"/><circle cx="1107.9" cy="478.6" r="1.05"/><circle cx="351.5" cy="589.5" r="1.05"/><circle cx="305.9" cy="599.3" r="1.05"/><circle cx="558.4" cy="528.7" r="1.05"/><circle cx="546.2" cy="604.8" r="1.05"/><circle cx="506.2" cy="584.3" r="1.05"/><circle cx="368.3" cy="578.9" r="1.05"/><circle cx="456.8" cy="551.6" r="1.05"/><circle cx="524.8" cy="579.5" r="1.05"/><circle cx="160.6" cy="603.7" r="1.05"/><circle cx="189.0" cy="566.4" r="1.05"/><circle cx="169.5" cy="607.5" r="1.05"/><circle cx="824.6" cy="569.3" r="1.05"/><circle cx="560.7" cy="620.3" r="1.05"/><circle cx="372.9" cy="572.9" r="1.05"/><circle cx="539.6" cy="565.1" r="1.05"/><circle cx="876.7" cy="601.6" r="1.05"/><circle cx="214.6" cy="588.6" r="1.05"/><circle cx="286.2" cy="564.9" r="1.05"/><circle cx="385.1" cy="595.4" r="1.05"/><circle cx="467.2" cy="615.3" r="1.05"/><circle cx="406.0" cy="580.3" r="1.05"/><circle cx="837.2" cy="496.6" r="1.05"/><circle cx="524.2" cy="618.6" r="1.05"/><circle cx="197.5" cy="558.8" r="1.05"/><circle cx="335.6" cy="582.1" r="1.05"/><circle cx="496.3" cy="537.3" r="1.05"/><circle cx="723.4" cy="591.4" r="1.05"/><circle cx="567.4" cy="529.4" r="1.05"/><circle cx="1120.4" cy="437.8" r="1.05"/><circle cx="379.7" cy="552.3" r="1.05"/><circle cx="560.7" cy="566.9" r="1.05"/><circle cx="1010.7" cy="403.1" r="1.05"/><circle cx="462.8" cy="580.1" r="1.05"/><circle cx="260.2" cy="592.7" r="1.05"/><circle cx="311.0" cy="604.5" r="1.05"/><circle cx="439.0" cy="613.5" r="1.05"/><circle cx="233.2" cy="581.3" r="1.05"/><circle cx="475.1" cy="584.4" r="1.05"/><circle cx="1034.1" cy="498.8" r="1.05"/><circle cx="878.1" cy="542.4" r="1.05"/><circle cx="548.7" cy="557.5" r="1.05"/><circle cx="968.8" cy="503.3" r="1.05"/><circle cx="567.3" cy="587.5" r="1.05"/><circle cx="200.6" cy="561.9" r="1.05"/><circle cx="596.6" cy="446.3" r="1.05"/><circle cx="545.4" cy="596.0" r="1.05"/><circle cx="585.9" cy="581.8" r="1.05"/><circle cx="333.0" cy="563.1" r="1.05"/><circle cx="691.3" cy="583.5" r="1.05"/><circle cx="515.8" cy="529.7" r="1.05"/><circle cx="1027.3" cy="537.8" r="1.05"/><circle cx="236.0" cy="608.2" r="1.05"/><circle cx="509.8" cy="598.4" r="1.05"/><circle cx="843.2" cy="457.9" r="1.05"/><circle cx="264.7" cy="622.0" r="1.05"/><circle cx="739.4" cy="543.7" r="1.05"/><circle cx="964.6" cy="608.2" r="1.05"/><circle cx="697.6" cy="518.1" r="1.05"/><circle cx="595.1" cy="549.1" r="1.05"/><circle cx="301.1" cy="559.3" r="1.05"/><circle cx="201.9" cy="583.6" r="1.05"/><circle cx="411.7" cy="529.2" r="1.05"/><circle cx="182.2" cy="564.3" r="1.05"/><circle cx="471.2" cy="527.9" r="1.05"/><circle cx="696.3" cy="580.2" r="1.05"/><circle cx="492.4" cy="520.9" r="1.05"/><circle cx="314.1" cy="585.4" r="1.05"/><circle cx="569.4" cy="487.7" r="1.05"/><circle cx="698.2" cy="497.3" r="1.05"/><circle cx="328.7" cy="573.5" r="1.05"/><circle cx="384.0" cy="551.9" r="1.05"/><circle cx="293.7" cy="559.0" r="1.05"/><circle cx="465.2" cy="560.0" r="1.05"/><circle cx="448.2" cy="592.6" r="1.05"/><circle cx="203.4" cy="607.9" r="1.05"/><circle cx="333.8" cy="605.7" r="1.05"/><circle cx="1095.6" cy="476.7" r="1.05"/><circle cx="192.2" cy="579.2" r="1.05"/><circle cx="359.4" cy="548.0" r="1.05"/><circle cx="422.6" cy="529.1" r="1.05"/><circle cx="813.6" cy="510.4" r="1.05"/><circle cx="224.9" cy="572.3" r="1.05"/><circle cx="953.3" cy="550.9" r="1.05"/><circle cx="677.9" cy="491.6" r="1.05"/><circle cx="907.8" cy="369.6" r="1.05"/><circle cx="799.4" cy="533.9" r="1.05"/><circle cx="545.1" cy="529.0" r="1.05"/><circle cx="180.1" cy="592.6" r="1.05"/><circle cx="915.1" cy="502.2" r="1.05"/><circle cx="543.3" cy="556.8" r="1.05"/><circle cx="266.4" cy="545.5" r="1.05"/><circle cx="998.1" cy="569.5" r="1.05"/><circle cx="262.2" cy="573.1" r="1.05"/><circle cx="285.7" cy="543.2" r="1.05"/><circle cx="552.8" cy="545.9" r="1.05"/><circle cx="697.4" cy="508.8" r="1.05"/><circle cx="238.6" cy="625.9" r="1.05"/><circle cx="432.7" cy="593.0" r="1.05"/><circle cx="463.3" cy="580.4" r="1.05"/><circle cx="467.0" cy="589.7" r="1.05"/><circle cx="477.2" cy="623.8" r="1.05"/><circle cx="464.6" cy="521.6" r="1.05"/><circle cx="153.8" cy="571.8" r="1.05"/><circle cx="965.0" cy="595.6" r="1.05"/><circle cx="540.9" cy="579.8" r="1.05"/><circle cx="658.8" cy="551.0" r="1.05"/><circle cx="606.6" cy="511.4" r="1.05"/><circle cx="1005.7" cy="418.5" r="1.05"/><circle cx="529.3" cy="595.5" r="1.05"/><circle cx="402.0" cy="590.5" r="1.05"/><circle cx="715.9" cy="534.9" r="1.05"/><circle cx="275.6" cy="543.6" r="1.05"/><circle cx="547.9" cy="579.1" r="1.05"/><circle cx="698.6" cy="574.3" r="1.05"/><circle cx="537.3" cy="541.1" r="1.05"/><circle cx="827.5" cy="518.9" r="1.05"/><circle cx="247.1" cy="529.6" r="1.05"/><circle cx="792.8" cy="505.2" r="1.05"/><circle cx="978.7" cy="394.6" r="1.05"/><circle cx="838.9" cy="607.1" r="1.05"/><circle cx="422.7" cy="606.8" r="1.05"/><circle cx="254.2" cy="611.9" r="1.05"/><circle cx="548.8" cy="587.1" r="1.05"/><circle cx="333.3" cy="565.3" r="1.05"/><circle cx="653.1" cy="567.0" r="1.05"/><circle cx="374.6" cy="557.8" r="1.05"/><circle cx="674.9" cy="582.3" r="1.05"/><circle cx="429.9" cy="534.1" r="1.05"/><circle cx="475.3" cy="536.2" r="1.05"/><circle cx="926.2" cy="594.8" r="1.05"/><circle cx="435.6" cy="601.2" r="1.05"/><circle cx="179.9" cy="595.8" r="1.05"/><circle cx="1016.3" cy="406.3" r="1.05"/><circle cx="263.1" cy="554.9" r="1.05"/><circle cx="357.0" cy="500.0" r="1.05"/><circle cx="730.9" cy="602.2" r="1.05"/><circle cx="141.3" cy="576.5" r="1.05"/><circle cx="722.2" cy="550.1" r="1.05"/><circle cx="485.3" cy="579.9" r="1.05"/><circle cx="614.6" cy="567.2" r="1.05"/><circle cx="389.9" cy="622.4" r="1.05"/><circle cx="365.4" cy="567.7" r="1.05"/><circle cx="1002.6" cy="523.0" r="1.05"/><circle cx="901.5" cy="581.0" r="1.05"/><circle cx="578.0" cy="494.9" r="1.05"/><circle cx="399.1" cy="594.4" r="1.05"/><circle cx="214.9" cy="575.4" r="1.05"/><circle cx="190.0" cy="598.2" r="1.05"/><circle cx="343.6" cy="613.5" r="1.05"/><circle cx="693.9" cy="572.7" r="1.05"/><circle cx="332.2" cy="569.0" r="1.05"/><circle cx="332.1" cy="602.9" r="1.05"/><circle cx="511.3" cy="551.1" r="1.05"/><circle cx="1063.0" cy="339.0" r="1.05"/><circle cx="1012.9" cy="513.7" r="1.05"/><circle cx="537.6" cy="592.6" r="1.05"/><circle cx="586.3" cy="522.7" r="1.05"/><circle cx="387.9" cy="609.9" r="1.05"/><circle cx="251.2" cy="604.1" r="1.05"/><circle cx="567.8" cy="473.0" r="1.05"/><circle cx="254.6" cy="568.8" r="1.05"/><circle cx="895.2" cy="480.7" r="1.05"/><circle cx="250.2" cy="587.2" r="1.05"/><circle cx="636.0" cy="563.8" r="1.05"/><circle cx="287.1" cy="549.9" r="1.05"/><circle cx="597.4" cy="571.5" r="1.05"/><circle cx="825.7" cy="498.4" r="1.05"/><circle cx="160.0" cy="533.8" r="1.05"/><circle cx="397.6" cy="518.9" r="1.05"/><circle cx="237.6" cy="584.7" r="1.05"/><circle cx="340.6" cy="561.6" r="1.05"/><circle cx="1036.5" cy="366.7" r="1.05"/><circle cx="410.7" cy="507.5" r="1.05"/><circle cx="639.9" cy="527.1" r="1.05"/><circle cx="341.4" cy="577.4" r="1.05"/><circle cx="324.1" cy="602.2" r="1.05"/><circle cx="431.7" cy="597.5" r="1.05"/><circle cx="557.8" cy="610.7" r="1.05"/><circle cx="545.9" cy="597.2" r="1.05"/><circle cx="437.0" cy="595.1" r="1.05"/><circle cx="275.8" cy="552.3" r="1.05"/><circle cx="816.6" cy="599.3" r="1.05"/><circle cx="531.9" cy="547.4" r="1.05"/><circle cx="547.6" cy="617.6" r="1.05"/><circle cx="297.5" cy="591.2" r="1.05"/><circle cx="994.4" cy="472.8" r="1.05"/><circle cx="768.7" cy="546.9" r="1.05"/><circle cx="709.8" cy="541.5" r="1.05"/><circle cx="292.7" cy="571.9" r="1.05"/><circle cx="593.5" cy="534.4" r="1.05"/><circle cx="321.2" cy="588.9" r="1.05"/><circle cx="512.5" cy="471.8" r="1.05"/><circle cx="896.7" cy="407.5" r="1.05"/><circle cx="515.9" cy="560.1" r="1.05"/><circle cx="189.9" cy="536.2" r="1.05"/><circle cx="705.8" cy="551.6" r="1.05"/><circle cx="1045.2" cy="514.1" r="1.05"/><circle cx="750.6" cy="545.3" r="1.05"/><circle cx="608.7" cy="537.0" r="1.05"/><circle cx="197.0" cy="612.4" r="1.05"/><circle cx="352.1" cy="583.5" r="1.05"/><circle cx="177.7" cy="565.7" r="1.05"/><circle cx="443.0" cy="600.5" r="1.05"/><circle cx="575.2" cy="547.5" r="1.05"/><circle cx="800.6" cy="581.9" r="1.05"/><circle cx="422.2" cy="564.2" r="1.05"/><circle cx="416.6" cy="574.0" r="1.05"/><circle cx="286.2" cy="566.0" r="1.05"/><circle cx="178.7" cy="597.0" r="1.05"/><circle cx="640.0" cy="616.5" r="1.05"/><circle cx="458.4" cy="630.1" r="1.05"/><circle cx="652.5" cy="604.0" r="1.05"/><circle cx="437.1" cy="595.8" r="1.05"/><circle cx="839.1" cy="598.8" r="1.05"/><circle cx="478.1" cy="503.2" r="1.05"/><circle cx="519.8" cy="535.6" r="1.05"/><circle cx="794.4" cy="476.5" r="1.05"/><circle cx="362.6" cy="603.7" r="1.05"/><circle cx="690.2" cy="492.2" r="1.05"/><circle cx="341.8" cy="595.6" r="1.05"/><circle cx="726.3" cy="465.7" r="1.05"/><circle cx="556.6" cy="567.4" r="1.05"/><circle cx="1004.7" cy="609.7" r="1.05"/><circle cx="474.4" cy="573.3" r="1.05"/><circle cx="684.6" cy="585.4" r="1.05"/><circle cx="670.6" cy="600.1" r="1.05"/><circle cx="521.2" cy="577.3" r="1.05"/><circle cx="311.8" cy="585.0" r="1.05"/><circle cx="776.3" cy="576.6" r="1.05"/><circle cx="286.8" cy="596.4" r="1.05"/><circle cx="494.2" cy="571.1" r="1.05"/><circle cx="584.7" cy="548.2" r="1.05"/><circle cx="206.6" cy="591.1" r="1.05"/><circle cx="536.2" cy="576.1" r="1.05"/><circle cx="225.5" cy="580.1" r="1.05"/><circle cx="928.1" cy="563.5" r="1.05"/><circle cx="306.9" cy="584.5" r="1.05"/><circle cx="539.4" cy="565.5" r="1.05"/><circle cx="971.1" cy="396.1" r="1.05"/><circle cx="462.0" cy="544.5" r="1.05"/><circle cx="149.1" cy="567.0" r="1.05"/><circle cx="423.5" cy="536.8" r="1.05"/><circle cx="547.6" cy="591.2" r="1.05"/><circle cx="521.2" cy="515.9" r="1.05"/><circle cx="1018.1" cy="514.7" r="1.05"/><circle cx="210.8" cy="584.6" r="1.05"/><circle cx="225.8" cy="590.8" r="1.05"/><circle cx="422.6" cy="549.0" r="1.05"/><circle cx="458.0" cy="590.9" r="1.05"/><circle cx="795.1" cy="501.0" r="1.05"/><circle cx="269.9" cy="588.6" r="1.05"/><circle cx="157.8" cy="594.2" r="1.05"/><circle cx="652.3" cy="539.7" r="1.05"/><circle cx="462.3" cy="596.6" r="1.05"/><circle cx="171.1" cy="542.2" r="1.05"/><circle cx="956.8" cy="548.7" r="1.05"/><circle cx="174.5" cy="593.6" r="1.05"/><circle cx="476.3" cy="519.2" r="1.05"/><circle cx="408.2" cy="611.8" r="1.05"/><circle cx="1001.0" cy="404.3" r="1.05"/><circle cx="451.2" cy="571.1" r="1.05"/><circle cx="296.8" cy="576.9" r="1.05"/><circle cx="853.4" cy="515.2" r="1.05"/><circle cx="507.2" cy="597.2" r="1.05"/><circle cx="259.0" cy="518.5" r="1.05"/><circle cx="241.6" cy="564.9" r="1.05"/><circle cx="550.5" cy="540.4" r="1.05"/><circle cx="185.8" cy="557.4" r="1.05"/><circle cx="397.3" cy="539.2" r="1.05"/><circle cx="629.5" cy="548.1" r="1.05"/><circle cx="670.6" cy="590.9" r="1.05"/><circle cx="600.9" cy="603.9" r="1.05"/><circle cx="244.8" cy="611.0" r="1.05"/><circle cx="155.1" cy="594.0" r="1.05"/><circle cx="589.1" cy="518.7" r="1.05"/><circle cx="421.9" cy="608.4" r="1.05"/><circle cx="528.0" cy="581.3" r="1.05"/><circle cx="235.3" cy="564.1" r="1.05"/><circle cx="245.4" cy="590.2" r="1.05"/><circle cx="263.0" cy="588.1" r="1.05"/><circle cx="666.4" cy="595.7" r="1.05"/><circle cx="293.3" cy="576.0" r="1.05"/><circle cx="297.8" cy="595.1" r="1.05"/><circle cx="795.9" cy="572.7" r="1.05"/><circle cx="417.3" cy="587.8" r="1.05"/><circle cx="786.8" cy="522.0" r="1.05"/><circle cx="492.2" cy="532.9" r="1.05"/><circle cx="540.4" cy="603.3" r="1.05"/><circle cx="405.5" cy="560.4" r="1.05"/><circle cx="472.5" cy="603.8" r="1.05"/><circle cx="439.5" cy="619.8" r="1.05"/><circle cx="523.4" cy="591.4" r="1.05"/><circle cx="898.3" cy="517.7" r="1.05"/><circle cx="560.7" cy="570.8" r="1.05"/><circle cx="542.3" cy="555.8" r="1.05"/><circle cx="568.2" cy="621.7" r="1.05"/><circle cx="153.3" cy="537.6" r="1.05"/><circle cx="311.6" cy="553.4" r="1.05"/><circle cx="446.9" cy="550.8" r="1.05"/><circle cx="1049.5" cy="583.3" r="1.05"/><circle cx="702.1" cy="533.0" r="1.05"/><circle cx="927.6" cy="544.9" r="1.05"/><circle cx="531.2" cy="585.8" r="1.05"/><circle cx="865.6" cy="526.8" r="1.05"/><circle cx="470.3" cy="614.2" r="1.05"/><circle cx="919.7" cy="423.4" r="1.05"/><circle cx="1099.8" cy="351.2" r="1.05"/><circle cx="609.2" cy="528.1" r="1.05"/><circle cx="478.4" cy="510.6" r="1.05"/><circle cx="664.9" cy="612.0" r="1.05"/><circle cx="994.6" cy="518.9" r="1.05"/><circle cx="469.6" cy="583.8" r="1.05"/><circle cx="639.6" cy="601.5" r="1.05"/><circle cx="176.0" cy="558.5" r="1.05"/><circle cx="366.0" cy="603.8" r="1.05"/><circle cx="732.3" cy="519.4" r="1.05"/><circle cx="357.1" cy="575.7" r="1.05"/><circle cx="551.0" cy="562.4" r="1.05"/><circle cx="489.7" cy="568.3" r="1.05"/><circle cx="1128.1" cy="382.7" r="1.05"/><circle cx="868.6" cy="558.4" r="1.05"/><circle cx="205.9" cy="591.7" r="1.05"/><circle cx="732.5" cy="548.5" r="1.05"/><circle cx="223.4" cy="581.9" r="1.05"/><circle cx="709.3" cy="610.9" r="1.05"/><circle cx="940.7" cy="472.3" r="1.05"/><circle cx="363.2" cy="556.8" r="1.05"/><circle cx="530.4" cy="559.1" r="1.05"/><circle cx="254.0" cy="523.9" r="1.05"/><circle cx="413.9" cy="621.2" r="1.05"/><circle cx="485.9" cy="536.0" r="1.05"/><circle cx="456.3" cy="614.2" r="1.05"/><circle cx="280.8" cy="604.6" r="1.05"/><circle cx="1064.4" cy="597.0" r="1.05"/><circle cx="154.6" cy="558.9" r="1.05"/><circle cx="271.5" cy="584.5" r="1.05"/><circle cx="362.3" cy="590.1" r="1.05"/><circle cx="325.0" cy="579.0" r="1.05"/><circle cx="185.5" cy="624.3" r="1.05"/><circle cx="439.0" cy="592.7" r="1.05"/><circle cx="318.4" cy="574.9" r="1.05"/><circle cx="387.4" cy="593.9" r="1.05"/><circle cx="220.5" cy="584.9" r="1.05"/><circle cx="859.3" cy="599.1" r="1.05"/><circle cx="756.8" cy="540.3" r="1.05"/><circle cx="151.8" cy="591.9" r="1.05"/><circle cx="164.4" cy="579.0" r="1.05"/><circle cx="610.7" cy="484.3" r="1.05"/><circle cx="341.2" cy="578.3" r="1.05"/><circle cx="404.1" cy="594.1" r="1.05"/><circle cx="480.8" cy="561.2" r="1.05"/><circle cx="983.3" cy="569.6" r="1.05"/><circle cx="230.0" cy="526.3" r="1.05"/><circle cx="406.9" cy="578.2" r="1.05"/><circle cx="727.7" cy="553.2" r="1.05"/><circle cx="545.6" cy="552.6" r="1.05"/><circle cx="411.8" cy="608.9" r="1.05"/><circle cx="498.9" cy="575.0" r="1.05"/><circle cx="167.1" cy="590.7" r="1.05"/><circle cx="399.1" cy="480.2" r="1.05"/><circle cx="644.1" cy="488.1" r="1.05"/><circle cx="153.7" cy="521.5" r="1.05"/><circle cx="482.3" cy="574.2" r="1.05"/><circle cx="269.6" cy="579.5" r="1.05"/><circle cx="280.7" cy="549.1" r="1.05"/><circle cx="364.1" cy="597.6" r="1.05"/><circle cx="300.2" cy="603.7" r="1.05"/><circle cx="224.4" cy="531.4" r="1.05"/><circle cx="351.4" cy="566.4" r="1.05"/><circle cx="730.3" cy="531.4" r="1.05"/><circle cx="543.3" cy="616.8" r="1.05"/><circle cx="740.9" cy="571.0" r="1.05"/><circle cx="823.2" cy="562.6" r="1.05"/><circle cx="670.6" cy="586.8" r="1.05"/><circle cx="292.3" cy="573.9" r="1.05"/><circle cx="424.0" cy="602.0" r="1.05"/><circle cx="361.7" cy="608.4" r="1.05"/><circle cx="559.0" cy="553.0" r="1.05"/><circle cx="568.7" cy="600.7" r="1.05"/><circle cx="316.9" cy="564.8" r="1.05"/><circle cx="341.4" cy="570.4" r="1.05"/><circle cx="597.9" cy="633.9" r="1.05"/><circle cx="838.3" cy="419.7" r="1.05"/><circle cx="149.1" cy="580.5" r="1.05"/><circle cx="928.4" cy="407.0" r="1.05"/><circle cx="339.0" cy="511.4" r="1.05"/><circle cx="381.0" cy="609.0" r="1.05"/><circle cx="581.2" cy="465.4" r="1.05"/><circle cx="934.2" cy="444.1" r="1.05"/><circle cx="189.7" cy="580.2" r="1.05"/><circle cx="471.7" cy="626.5" r="1.05"/><circle cx="488.3" cy="560.5" r="1.05"/><circle cx="550.9" cy="543.0" r="1.05"/><circle cx="669.6" cy="597.8" r="1.05"/><circle cx="566.8" cy="541.7" r="1.05"/><circle cx="151.5" cy="566.7" r="1.05"/><circle cx="893.8" cy="384.3" r="1.05"/><circle cx="322.3" cy="601.3" r="1.05"/><circle cx="454.3" cy="624.2" r="1.05"/><circle cx="831.6" cy="563.1" r="1.05"/><circle cx="400.2" cy="601.7" r="1.05"/><circle cx="458.5" cy="564.4" r="1.05"/><circle cx="553.3" cy="573.6" r="1.05"/><circle cx="400.3" cy="569.7" r="1.05"/><circle cx="346.9" cy="530.8" r="1.05"/><circle cx="506.8" cy="488.8" r="1.05"/><circle cx="273.3" cy="579.3" r="1.05"/><circle cx="433.7" cy="613.6" r="1.05"/><circle cx="298.6" cy="580.6" r="1.05"/><circle cx="232.4" cy="587.2" r="1.05"/><circle cx="1035.5" cy="494.2" r="1.05"/><circle cx="804.5" cy="546.6" r="1.05"/><circle cx="1009.3" cy="497.0" r="1.05"/><circle cx="448.6" cy="625.2" r="1.05"/><circle cx="333.8" cy="562.7" r="1.05"/><circle cx="909.8" cy="483.2" r="1.05"/><circle cx="330.0" cy="570.2" r="1.05"/><circle cx="454.8" cy="579.0" r="1.05"/><circle cx="561.5" cy="531.4" r="1.05"/><circle cx="297.9" cy="617.3" r="1.05"/><circle cx="481.1" cy="577.9" r="1.05"/><circle cx="763.0" cy="517.0" r="1.05"/><circle cx="550.2" cy="585.1" r="1.05"/><circle cx="387.8" cy="581.1" r="1.05"/><circle cx="246.8" cy="552.0" r="1.05"/><circle cx="462.8" cy="581.1" r="1.05"/><circle cx="470.5" cy="599.4" r="1.05"/><circle cx="346.2" cy="592.9" r="1.05"/><circle cx="429.0" cy="565.8" r="1.05"/><circle cx="422.0" cy="604.1" r="1.05"/><circle cx="222.2" cy="583.9" r="1.05"/><circle cx="917.1" cy="544.0" r="1.05"/><circle cx="769.8" cy="545.4" r="1.05"/><circle cx="552.8" cy="541.0" r="1.05"/><circle cx="330.4" cy="558.3" r="1.05"/><circle cx="530.2" cy="570.3" r="1.05"/><circle cx="412.2" cy="571.5" r="1.05"/><circle cx="297.7" cy="558.1" r="1.05"/><circle cx="348.4" cy="599.5" r="1.05"/><circle cx="541.0" cy="566.4" r="1.05"/><circle cx="362.7" cy="607.0" r="1.05"/><circle cx="578.3" cy="512.6" r="1.05"/><circle cx="852.0" cy="527.5" r="1.05"/><circle cx="699.1" cy="600.7" r="1.05"/><circle cx="887.7" cy="552.0" r="1.05"/><circle cx="884.5" cy="473.9" r="1.05"/><circle cx="715.6" cy="542.2" r="1.05"/><circle cx="481.6" cy="615.4" r="1.05"/><circle cx="302.4" cy="516.1" r="1.05"/><circle cx="181.4" cy="578.6" r="1.05"/><circle cx="425.4" cy="564.8" r="1.05"/><circle cx="227.8" cy="590.6" r="1.05"/><circle cx="227.4" cy="601.2" r="1.05"/><circle cx="361.4" cy="613.4" r="1.05"/><circle cx="393.8" cy="573.6" r="1.05"/><circle cx="1049.9" cy="488.5" r="1.05"/><circle cx="245.1" cy="588.9" r="1.05"/><circle cx="562.3" cy="538.4" r="1.05"/><circle cx="163.5" cy="575.9" r="1.05"/><circle cx="831.2" cy="581.3" r="1.05"/><circle cx="221.8" cy="592.7" r="1.05"/><circle cx="428.8" cy="533.6" r="1.05"/><circle cx="485.1" cy="609.1" r="1.05"/><circle cx="477.0" cy="589.6" r="1.05"/><circle cx="770.5" cy="521.9" r="1.05"/><circle cx="289.4" cy="614.9" r="1.05"/><circle cx="1023.8" cy="452.3" r="1.05"/><circle cx="588.9" cy="563.1" r="1.05"/><circle cx="159.1" cy="593.6" r="1.05"/><circle cx="1009.3" cy="490.4" r="1.05"/><circle cx="857.1" cy="525.8" r="1.05"/><circle cx="291.0" cy="639.2" r="1.05"/><circle cx="1060.9" cy="408.1" r="1.05"/><circle cx="450.3" cy="583.1" r="1.05"/><circle cx="1052.8" cy="481.5" r="1.05"/><circle cx="502.5" cy="544.5" r="1.05"/><circle cx="441.5" cy="575.2" r="1.05"/><circle cx="415.4" cy="606.4" r="1.05"/><circle cx="703.9" cy="512.3" r="1.05"/><circle cx="736.5" cy="563.5" r="1.05"/><circle cx="798.4" cy="527.1" r="1.05"/><circle cx="738.0" cy="578.2" r="1.05"/><circle cx="249.8" cy="585.6" r="1.05"/><circle cx="179.3" cy="604.5" r="1.05"/><circle cx="364.0" cy="515.8" r="1.05"/><circle cx="385.7" cy="603.2" r="1.05"/><circle cx="428.1" cy="539.1" r="1.05"/><circle cx="537.3" cy="617.8" r="1.05"/><circle cx="343.6" cy="571.2" r="1.05"/><circle cx="1047.6" cy="505.9" r="1.05"/><circle cx="420.5" cy="538.7" r="1.05"/><circle cx="300.9" cy="573.5" r="1.05"/><circle cx="436.7" cy="461.0" r="1.05"/><circle cx="526.4" cy="586.7" r="1.05"/><circle cx="279.9" cy="559.3" r="1.05"/><circle cx="462.6" cy="598.9" r="1.05"/><circle cx="974.2" cy="559.5" r="1.05"/><circle cx="238.3" cy="583.1" r="1.05"/><circle cx="775.1" cy="489.3" r="1.05"/><circle cx="321.1" cy="558.3" r="1.05"/><circle cx="384.4" cy="581.9" r="1.05"/><circle cx="895.5" cy="428.0" r="1.05"/><circle cx="468.9" cy="603.8" r="1.05"/><circle cx="952.0" cy="558.8" r="1.05"/><circle cx="151.0" cy="584.8" r="1.05"/><circle cx="528.7" cy="616.4" r="1.05"/><circle cx="196.0" cy="537.4" r="1.05"/><circle cx="494.8" cy="575.4" r="1.05"/><circle cx="720.9" cy="564.3" r="1.05"/><circle cx="246.7" cy="568.1" r="1.05"/><circle cx="304.5" cy="609.2" r="1.05"/><circle cx="826.8" cy="538.4" r="1.05"/><circle cx="714.2" cy="608.2" r="1.05"/><circle cx="538.0" cy="573.6" r="1.05"/><circle cx="545.6" cy="563.0" r="1.05"/><circle cx="286.2" cy="520.1" r="1.05"/><circle cx="502.8" cy="569.8" r="1.05"/><circle cx="907.7" cy="393.6" r="1.05"/><circle cx="456.4" cy="572.9" r="1.05"/><circle cx="193.5" cy="614.8" r="1.05"/><circle cx="975.3" cy="431.7" r="1.05"/><circle cx="750.8" cy="541.5" r="1.05"/><circle cx="195.8" cy="595.0" r="1.05"/><circle cx="449.4" cy="536.5" r="1.05"/><circle cx="253.7" cy="603.9" r="1.05"/><circle cx="886.4" cy="541.6" r="1.05"/><circle cx="596.6" cy="532.4" r="1.05"/><circle cx="956.4" cy="429.6" r="1.05"/><circle cx="472.4" cy="590.7" r="1.05"/><circle cx="1091.9" cy="438.8" r="1.05"/><circle cx="197.2" cy="579.6" r="1.05"/><circle cx="313.3" cy="558.8" r="1.05"/><circle cx="784.7" cy="550.9" r="1.05"/><circle cx="546.4" cy="621.7" r="1.05"/><circle cx="941.9" cy="530.7" r="1.05"/><circle cx="417.4" cy="510.1" r="1.05"/><circle cx="142.6" cy="601.2" r="1.05"/><circle cx="471.7" cy="578.3" r="1.05"/><circle cx="243.2" cy="554.9" r="1.05"/><circle cx="257.6" cy="586.1" r="1.05"/><circle cx="299.7" cy="604.1" r="1.05"/><circle cx="290.7" cy="580.2" r="1.05"/><circle cx="451.0" cy="579.0" r="1.05"/><circle cx="534.9" cy="594.2" r="1.05"/><circle cx="808.4" cy="543.7" r="1.05"/><circle cx="161.9" cy="611.3" r="1.05"/><circle cx="186.7" cy="614.1" r="1.05"/><circle cx="396.0" cy="603.8" r="1.05"/><circle cx="450.6" cy="578.7" r="1.05"/><circle cx="213.7" cy="581.3" r="1.05"/><circle cx="735.4" cy="572.7" r="1.05"/><circle cx="329.4" cy="539.6" r="1.05"/><circle cx="1082.6" cy="409.1" r="1.05"/><circle cx="594.6" cy="561.7" r="1.05"/><circle cx="191.0" cy="545.1" r="1.05"/><circle cx="920.6" cy="369.9" r="1.05"/><circle cx="464.5" cy="545.0" r="1.05"/><circle cx="778.6" cy="565.9" r="1.05"/><circle cx="678.6" cy="511.4" r="1.05"/><circle cx="354.5" cy="532.5" r="1.05"/><circle cx="486.5" cy="555.1" r="1.05"/><circle cx="177.8" cy="584.4" r="1.05"/><circle cx="170.3" cy="574.1" r="1.05"/><circle cx="390.8" cy="564.0" r="1.05"/><circle cx="936.8" cy="597.4" r="1.05"/><circle cx="694.2" cy="454.5" r="1.05"/><circle cx="730.4" cy="544.9" r="1.05"/><circle cx="451.1" cy="474.1" r="1.05"/><circle cx="1006.7" cy="483.3" r="1.05"/><circle cx="535.9" cy="591.7" r="1.05"/><circle cx="552.6" cy="530.4" r="1.05"/><circle cx="901.6" cy="508.6" r="1.05"/><circle cx="314.5" cy="547.7" r="1.05"/><circle cx="305.1" cy="589.2" r="1.05"/><circle cx="525.6" cy="582.3" r="1.05"/><circle cx="523.3" cy="588.9" r="1.05"/><circle cx="572.1" cy="586.8" r="1.05"/><circle cx="216.0" cy="568.5" r="1.05"/><circle cx="349.0" cy="606.8" r="1.05"/><circle cx="331.7" cy="572.0" r="1.05"/><circle cx="483.0" cy="524.6" r="1.05"/><circle cx="545.5" cy="595.6" r="1.05"/><circle cx="455.8" cy="579.1" r="1.05"/><circle cx="891.2" cy="560.0" r="1.05"/><circle cx="445.0" cy="584.2" r="1.05"/><circle cx="517.8" cy="563.9" r="1.05"/><circle cx="231.1" cy="559.9" r="1.05"/><circle cx="491.6" cy="534.9" r="1.05"/><circle cx="996.0" cy="538.2" r="1.05"/><circle cx="898.7" cy="466.5" r="1.05"/><circle cx="150.1" cy="596.7" r="1.05"/><circle cx="1068.0" cy="554.9" r="1.05"/><circle cx="531.5" cy="596.9" r="1.05"/><circle cx="795.8" cy="610.9" r="1.05"/><circle cx="312.5" cy="577.9" r="1.05"/><circle cx="189.4" cy="618.9" r="1.05"/><circle cx="894.2" cy="506.0" r="1.05"/><circle cx="335.0" cy="600.8" r="1.05"/><circle cx="334.9" cy="622.7" r="1.05"/><circle cx="423.6" cy="562.3" r="1.05"/><circle cx="304.4" cy="603.6" r="1.05"/><circle cx="324.3" cy="579.9" r="1.05"/><circle cx="552.6" cy="567.8" r="1.05"/><circle cx="946.1" cy="490.4" r="1.05"/><circle cx="516.9" cy="558.1" r="1.05"/><circle cx="260.1" cy="573.0" r="1.05"/><circle cx="145.5" cy="585.1" r="1.05"/><circle cx="845.9" cy="564.7" r="1.05"/><circle cx="849.8" cy="559.4" r="1.05"/><circle cx="869.8" cy="575.2" r="1.05"/><circle cx="270.5" cy="551.9" r="1.05"/><circle cx="160.3" cy="585.9" r="1.05"/><circle cx="476.4" cy="545.5" r="1.05"/><circle cx="464.9" cy="560.0" r="1.05"/><circle cx="672.1" cy="558.7" r="1.05"/><circle cx="858.0" cy="481.3" r="1.05"/><circle cx="485.9" cy="588.2" r="1.05"/><circle cx="744.2" cy="472.6" r="1.05"/><circle cx="145.0" cy="586.4" r="1.05"/><circle cx="298.1" cy="576.7" r="1.05"/><circle cx="323.5" cy="608.5" r="1.05"/><circle cx="429.4" cy="552.0" r="1.05"/><circle cx="269.9" cy="529.5" r="1.05"/><circle cx="819.7" cy="579.6" r="1.05"/><circle cx="258.4" cy="549.3" r="1.05"/><circle cx="257.1" cy="595.4" r="1.05"/><circle cx="408.8" cy="612.8" r="1.05"/><circle cx="475.8" cy="603.3" r="1.05"/><circle cx="851.7" cy="421.4" r="1.05"/><circle cx="546.2" cy="575.4" r="1.05"/><circle cx="355.4" cy="604.7" r="1.05"/><circle cx="253.7" cy="567.8" r="1.05"/><circle cx="538.3" cy="552.3" r="1.05"/><circle cx="736.5" cy="557.9" r="1.05"/><circle cx="460.5" cy="551.6" r="1.05"/><circle cx="308.3" cy="586.5" r="1.05"/><circle cx="364.8" cy="526.1" r="1.05"/><circle cx="464.1" cy="539.1" r="1.05"/><circle cx="871.0" cy="522.3" r="1.05"/><circle cx="924.5" cy="479.1" r="1.05"/><circle cx="219.0" cy="550.5" r="1.05"/><circle cx="194.0" cy="582.7" r="1.05"/><circle cx="352.3" cy="557.7" r="1.05"/><circle cx="142.1" cy="584.1" r="1.05"/><circle cx="508.9" cy="578.3" r="1.05"/><circle cx="1006.5" cy="593.9" r="1.05"/><circle cx="731.4" cy="593.3" r="1.05"/><circle cx="371.8" cy="600.8" r="1.05"/><circle cx="155.2" cy="580.1" r="1.05"/><circle cx="696.8" cy="587.1" r="1.05"/><circle cx="860.4" cy="548.3" r="1.05"/><circle cx="853.5" cy="585.6" r="1.05"/><circle cx="692.9" cy="568.8" r="1.05"/><circle cx="528.1" cy="576.0" r="1.05"/><circle cx="423.5" cy="548.9" r="1.05"/><circle cx="384.5" cy="609.4" r="1.05"/><circle cx="761.0" cy="516.2" r="1.05"/><circle cx="550.4" cy="557.8" r="1.05"/><circle cx="936.8" cy="527.8" r="1.05"/><circle cx="731.1" cy="594.8" r="1.05"/><circle cx="315.4" cy="603.6" r="1.05"/><circle cx="229.0" cy="586.3" r="1.05"/><circle cx="147.4" cy="566.3" r="1.05"/><circle cx="197.9" cy="584.5" r="1.05"/><circle cx="409.8" cy="595.4" r="1.05"/><circle cx="948.2" cy="484.8" r="1.05"/><circle cx="381.4" cy="602.5" r="1.05"/><circle cx="163.4" cy="558.7" r="1.05"/><circle cx="464.7" cy="589.2" r="1.05"/><circle cx="515.1" cy="524.7" r="1.05"/><circle cx="578.2" cy="595.3" r="1.05"/><circle cx="214.6" cy="578.9" r="1.05"/><circle cx="505.5" cy="549.2" r="1.05"/><circle cx="354.6" cy="531.3" r="1.05"/><circle cx="322.1" cy="577.2" r="1.05"/><circle cx="160.9" cy="536.5" r="1.05"/><circle cx="479.9" cy="605.2" r="1.05"/><circle cx="174.5" cy="587.0" r="1.05"/><circle cx="205.4" cy="581.3" r="1.05"/><circle cx="548.9" cy="563.4" r="1.05"/><circle cx="566.8" cy="569.9" r="1.05"/><circle cx="934.6" cy="532.1" r="1.05"/><circle cx="486.4" cy="527.7" r="1.05"/><circle cx="804.2" cy="509.6" r="1.05"/><circle cx="273.6" cy="494.7" r="1.05"/><circle cx="520.5" cy="575.4" r="1.05"/><circle cx="951.1" cy="440.7" r="1.05"/><circle cx="188.7" cy="563.8" r="1.05"/><circle cx="760.7" cy="638.2" r="1.05"/><circle cx="259.9" cy="566.9" r="1.05"/><circle cx="172.7" cy="547.3" r="1.05"/><circle cx="517.7" cy="492.0" r="1.05"/><circle cx="870.5" cy="573.8" r="1.05"/><circle cx="387.6" cy="580.0" r="1.05"/><circle cx="309.8" cy="531.8" r="1.05"/><circle cx="372.3" cy="602.9" r="1.05"/><circle cx="309.1" cy="596.9" r="1.05"/><circle cx="504.5" cy="544.0" r="1.05"/><circle cx="219.5" cy="558.0" r="1.05"/><circle cx="272.9" cy="529.1" r="1.05"/><circle cx="747.5" cy="470.3" r="1.05"/><circle cx="304.4" cy="570.4" r="1.05"/><circle cx="617.7" cy="593.7" r="1.05"/><circle cx="463.0" cy="589.0" r="1.05"/><circle cx="222.7" cy="579.1" r="1.05"/><circle cx="410.1" cy="559.1" r="1.05"/><circle cx="302.0" cy="575.1" r="1.05"/><circle cx="738.5" cy="496.2" r="1.05"/><circle cx="905.4" cy="553.6" r="1.05"/><circle cx="636.8" cy="572.6" r="1.05"/><circle cx="488.6" cy="604.0" r="1.05"/><circle cx="284.0" cy="581.3" r="1.05"/><circle cx="200.8" cy="546.8" r="1.05"/><circle cx="298.5" cy="529.0" r="1.05"/><circle cx="481.9" cy="554.2" r="1.05"/><circle cx="704.7" cy="555.4" r="1.05"/><circle cx="212.0" cy="590.9" r="1.05"/><circle cx="977.8" cy="509.3" r="1.05"/><circle cx="490.0" cy="613.1" r="1.05"/><circle cx="782.6" cy="560.3" r="1.05"/><circle cx="650.1" cy="515.1" r="1.05"/><circle cx="207.8" cy="570.0" r="1.05"/><circle cx="807.8" cy="472.4" r="1.05"/><circle cx="391.4" cy="541.8" r="1.05"/><circle cx="524.9" cy="534.4" r="1.05"/><circle cx="562.9" cy="557.5" r="1.05"/><circle cx="396.9" cy="565.4" r="1.05"/><circle cx="328.9" cy="541.4" r="1.05"/><circle cx="444.1" cy="580.9" r="1.05"/><circle cx="690.2" cy="597.5" r="1.05"/><circle cx="594.6" cy="519.7" r="1.05"/><circle cx="483.8" cy="566.3" r="1.05"/><circle cx="793.3" cy="456.5" r="1.05"/><circle cx="283.7" cy="593.1" r="1.05"/><circle cx="894.6" cy="592.5" r="1.05"/><circle cx="434.2" cy="576.0" r="1.05"/><circle cx="156.8" cy="595.1" r="1.05"/><circle cx="516.7" cy="595.0" r="1.05"/><circle cx="473.9" cy="494.4" r="1.05"/><circle cx="342.7" cy="565.7" r="1.05"/><circle cx="516.7" cy="600.4" r="1.05"/><circle cx="651.3" cy="606.5" r="1.05"/><circle cx="966.3" cy="501.7" r="1.05"/><circle cx="167.2" cy="562.0" r="1.05"/><circle cx="542.4" cy="553.1" r="1.05"/><circle cx="1019.3" cy="348.9" r="1.05"/><circle cx="397.7" cy="561.2" r="1.05"/><circle cx="929.5" cy="465.2" r="1.05"/><circle cx="390.0" cy="617.6" r="1.05"/><circle cx="697.2" cy="470.6" r="1.05"/><circle cx="444.0" cy="586.5" r="1.05"/><circle cx="574.2" cy="517.9" r="1.05"/><circle cx="615.1" cy="606.4" r="1.05"/><circle cx="247.6" cy="599.2" r="1.05"/><circle cx="276.4" cy="534.7" r="1.05"/><circle cx="502.1" cy="602.1" r="1.05"/><circle cx="258.8" cy="572.5" r="1.05"/><circle cx="811.8" cy="549.6" r="1.05"/><circle cx="584.2" cy="461.7" r="1.05"/><circle cx="200.3" cy="567.5" r="1.05"/><circle cx="860.4" cy="408.8" r="1.05"/><circle cx="774.3" cy="537.6" r="1.05"/><circle cx="852.4" cy="597.1" r="1.05"/><circle cx="145.4" cy="498.9" r="1.05"/><circle cx="212.3" cy="592.5" r="1.05"/><circle cx="253.3" cy="576.0" r="1.05"/><circle cx="205.1" cy="579.7" r="1.05"/><circle cx="588.3" cy="607.6" r="1.05"/><circle cx="1015.7" cy="408.6" r="1.05"/><circle cx="685.7" cy="565.8" r="1.05"/><circle cx="186.9" cy="616.0" r="1.05"/><circle cx="905.8" cy="585.3" r="1.05"/><circle cx="394.5" cy="624.2" r="1.05"/><circle cx="469.9" cy="592.1" r="1.05"/><circle cx="673.3" cy="560.6" r="1.05"/><circle cx="545.6" cy="594.4" r="1.05"/><circle cx="867.2" cy="521.8" r="1.05"/><circle cx="286.5" cy="586.9" r="1.05"/><circle cx="308.8" cy="560.6" r="1.05"/><circle cx="241.6" cy="579.2" r="1.05"/><circle cx="328.4" cy="581.3" r="1.05"/><circle cx="503.5" cy="592.7" r="1.05"/><circle cx="224.3" cy="606.2" r="1.05"/><circle cx="879.3" cy="566.4" r="1.05"/><circle cx="787.9" cy="515.1" r="1.05"/><circle cx="731.4" cy="567.1" r="1.05"/><circle cx="1005.5" cy="318.8" r="1.05"/><circle cx="533.4" cy="531.7" r="1.05"/><circle cx="642.7" cy="602.1" r="1.05"/><circle cx="349.5" cy="561.5" r="1.05"/><circle cx="936.4" cy="387.0" r="1.05"/><circle cx="836.1" cy="561.1" r="1.05"/><circle cx="581.8" cy="502.4" r="1.05"/><circle cx="283.8" cy="596.3" r="1.05"/><circle cx="542.4" cy="485.2" r="1.05"/><circle cx="409.0" cy="554.3" r="1.05"/><circle cx="289.6" cy="584.4" r="1.05"/><circle cx="476.8" cy="613.5" r="1.05"/><circle cx="565.8" cy="568.7" r="1.05"/><circle cx="874.5" cy="560.8" r="1.05"/><circle cx="425.0" cy="560.2" r="1.05"/><circle cx="286.8" cy="599.7" r="1.05"/><circle cx="367.0" cy="559.6" r="1.05"/><circle cx="538.9" cy="582.4" r="1.05"/><circle cx="567.0" cy="539.8" r="1.05"/><circle cx="388.5" cy="544.3" r="1.05"/><circle cx="827.0" cy="519.3" r="1.05"/><circle cx="451.8" cy="553.2" r="1.05"/><circle cx="532.4" cy="516.8" r="1.05"/><circle cx="778.1" cy="580.3" r="1.05"/><circle cx="886.7" cy="472.5" r="1.05"/><circle cx="473.7" cy="561.5" r="1.05"/><circle cx="164.4" cy="523.4" r="1.05"/><circle cx="719.1" cy="556.1" r="1.05"/><circle cx="260.5" cy="546.2" r="1.05"/><circle cx="542.5" cy="612.9" r="1.05"/><circle cx="901.9" cy="401.6" r="1.05"/><circle cx="554.4" cy="548.0" r="1.05"/><circle cx="857.5" cy="497.4" r="1.05"/><circle cx="452.4" cy="535.3" r="1.05"/><circle cx="222.9" cy="607.7" r="1.05"/><circle cx="454.0" cy="578.4" r="1.05"/><circle cx="814.9" cy="527.1" r="1.05"/><circle cx="330.9" cy="585.2" r="1.05"/><circle cx="1008.0" cy="524.8" r="1.05"/><circle cx="250.0" cy="547.5" r="1.05"/><circle cx="648.1" cy="555.4" r="1.05"/><circle cx="772.5" cy="551.5" r="1.05"/><circle cx="318.4" cy="576.0" r="1.05"/><circle cx="704.6" cy="469.6" r="1.05"/><circle cx="385.4" cy="532.2" r="1.05"/><circle cx="334.5" cy="560.3" r="1.05"/><circle cx="371.3" cy="608.0" r="1.05"/><circle cx="495.7" cy="586.7" r="1.05"/><circle cx="889.7" cy="566.5" r="1.05"/><circle cx="388.0" cy="599.3" r="1.05"/><circle cx="1006.2" cy="358.9" r="1.05"/><circle cx="743.4" cy="570.7" r="1.05"/><circle cx="537.4" cy="499.6" r="1.05"/><circle cx="630.1" cy="554.1" r="1.05"/><circle cx="1021.8" cy="494.4" r="1.05"/><circle cx="235.8" cy="585.0" r="1.05"/><circle cx="483.3" cy="608.2" r="1.05"/><circle cx="380.4" cy="586.4" r="1.05"/><circle cx="955.6" cy="424.1" r="1.05"/><circle cx="500.5" cy="541.0" r="1.05"/><circle cx="392.3" cy="569.3" r="1.05"/><circle cx="218.2" cy="559.1" r="1.05"/><circle cx="882.3" cy="507.5" r="1.05"/><circle cx="234.3" cy="567.9" r="1.05"/><circle cx="802.7" cy="526.1" r="1.05"/><circle cx="614.3" cy="612.0" r="1.05"/><circle cx="815.7" cy="613.7" r="1.05"/><circle cx="544.1" cy="589.2" r="1.05"/><circle cx="704.0" cy="539.9" r="1.05"/><circle cx="542.1" cy="521.8" r="1.05"/><circle cx="472.6" cy="571.3" r="1.05"/><circle cx="756.6" cy="535.2" r="1.05"/><circle cx="379.3" cy="553.6" r="1.05"/><circle cx="272.5" cy="601.5" r="1.05"/><circle cx="227.2" cy="581.1" r="1.05"/><circle cx="209.8" cy="570.6" r="1.05"/><circle cx="654.7" cy="571.4" r="1.05"/><circle cx="339.5" cy="597.4" r="1.05"/><circle cx="927.7" cy="465.4" r="1.05"/><circle cx="254.2" cy="541.7" r="1.05"/><circle cx="494.8" cy="566.5" r="1.05"/><circle cx="776.3" cy="620.9" r="1.05"/><circle cx="664.9" cy="584.1" r="1.05"/><circle cx="157.7" cy="591.5" r="1.05"/><circle cx="721.9" cy="525.4" r="1.05"/><circle cx="999.0" cy="524.2" r="1.05"/><circle cx="312.3" cy="589.0" r="1.05"/><circle cx="815.1" cy="464.7" r="1.05"/><circle cx="537.5" cy="507.7" r="1.05"/><circle cx="312.3" cy="575.6" r="1.05"/><circle cx="1053.9" cy="553.2" r="1.05"/><circle cx="934.5" cy="574.5" r="1.05"/><circle cx="771.5" cy="503.7" r="1.05"/><circle cx="142.5" cy="599.9" r="1.05"/><circle cx="610.5" cy="562.9" r="1.05"/><circle cx="462.1" cy="578.1" r="1.05"/><circle cx="337.7" cy="573.2" r="1.05"/><circle cx="842.2" cy="507.7" r="1.05"/><circle cx="266.2" cy="603.6" r="1.05"/><circle cx="232.3" cy="596.1" r="1.05"/><circle cx="551.3" cy="560.3" r="1.05"/><circle cx="571.8" cy="564.7" r="1.05"/><circle cx="749.4" cy="597.2" r="1.05"/><circle cx="356.6" cy="494.0" r="1.05"/><circle cx="604.3" cy="605.4" r="1.05"/><circle cx="691.8" cy="497.1" r="1.05"/><circle cx="1022.7" cy="584.0" r="1.05"/><circle cx="1104.2" cy="352.2" r="1.05"/><circle cx="718.4" cy="610.5" r="1.05"/><circle cx="355.5" cy="545.2" r="1.05"/><circle cx="460.0" cy="567.2" r="1.05"/><circle cx="334.3" cy="551.6" r="1.05"/><circle cx="421.7" cy="595.2" r="1.05"/><circle cx="256.8" cy="573.4" r="1.05"/><circle cx="652.9" cy="548.4" r="1.05"/><circle cx="256.8" cy="576.3" r="1.05"/><circle cx="748.8" cy="570.6" r="1.05"/><circle cx="446.3" cy="515.9" r="1.05"/><circle cx="462.2" cy="617.5" r="1.05"/><circle cx="1010.8" cy="581.9" r="1.05"/><circle cx="653.7" cy="605.9" r="1.05"/><circle cx="175.9" cy="534.5" r="1.05"/><circle cx="812.8" cy="576.3" r="1.05"/><circle cx="546.9" cy="590.9" r="1.05"/><circle cx="768.5" cy="575.1" r="1.05"/><circle cx="504.1" cy="581.0" r="1.05"/><circle cx="529.0" cy="577.9" r="1.05"/><circle cx="738.3" cy="569.3" r="1.05"/><circle cx="551.9" cy="610.2" r="1.05"/><circle cx="242.7" cy="569.3" r="1.05"/><circle cx="754.9" cy="545.9" r="1.05"/><circle cx="382.1" cy="514.6" r="1.05"/><circle cx="293.4" cy="567.4" r="1.05"/><circle cx="534.7" cy="571.6" r="1.05"/><circle cx="364.1" cy="611.1" r="1.05"/><circle cx="788.7" cy="535.5" r="1.05"/><circle cx="749.8" cy="513.6" r="1.05"/><circle cx="209.6" cy="570.6" r="1.05"/><circle cx="675.8" cy="516.0" r="1.05"/><circle cx="381.0" cy="555.9" r="1.05"/><circle cx="169.3" cy="545.6" r="1.05"/><circle cx="411.9" cy="573.5" r="1.05"/><circle cx="440.2" cy="610.2" r="1.05"/><circle cx="265.7" cy="577.8" r="1.05"/><circle cx="717.5" cy="582.0" r="1.05"/><circle cx="205.6" cy="612.1" r="1.05"/><circle cx="522.3" cy="615.9" r="1.05"/><circle cx="863.5" cy="508.5" r="1.05"/><circle cx="549.3" cy="573.3" r="1.05"/><circle cx="597.2" cy="551.4" r="1.05"/><circle cx="696.8" cy="483.7" r="1.05"/><circle cx="368.6" cy="593.2" r="1.05"/><circle cx="447.7" cy="563.4" r="1.05"/><circle cx="540.9" cy="585.2" r="1.05"/><circle cx="412.7" cy="598.2" r="1.05"/><circle cx="372.7" cy="625.4" r="1.05"/><circle cx="1064.6" cy="535.1" r="1.05"/><circle cx="142.3" cy="548.3" r="1.05"/><circle cx="346.4" cy="591.3" r="1.05"/><circle cx="255.1" cy="572.0" r="1.05"/><circle cx="449.2" cy="569.4" r="1.05"/><circle cx="569.0" cy="492.0" r="1.05"/><circle cx="966.7" cy="542.8" r="1.05"/><circle cx="208.6" cy="591.9" r="1.05"/><circle cx="1074.3" cy="337.7" r="1.05"/><circle cx="820.0" cy="519.1" r="1.05"/><circle cx="888.8" cy="511.6" r="1.05"/><circle cx="464.7" cy="521.8" r="1.05"/><circle cx="216.5" cy="564.0" r="1.05"/><circle cx="680.8" cy="547.2" r="1.05"/><circle cx="1095.9" cy="422.7" r="1.05"/><circle cx="250.1" cy="609.3" r="1.05"/><circle cx="477.4" cy="558.5" r="1.05"/><circle cx="465.7" cy="561.7" r="1.05"/><circle cx="243.9" cy="515.9" r="1.05"/><circle cx="251.6" cy="569.9" r="1.05"/><circle cx="459.5" cy="589.9" r="1.05"/><circle cx="384.8" cy="562.5" r="1.05"/><circle cx="519.5" cy="603.2" r="1.05"/><circle cx="539.8" cy="579.1" r="1.05"/><circle cx="689.7" cy="535.6" r="1.05"/><circle cx="558.7" cy="592.5" r="1.05"/><circle cx="469.6" cy="620.7" r="1.05"/><circle cx="532.5" cy="598.6" r="1.05"/><circle cx="621.8" cy="588.6" r="1.05"/><circle cx="332.3" cy="559.1" r="1.05"/><circle cx="692.6" cy="572.3" r="1.05"/><circle cx="622.3" cy="564.1" r="1.05"/><circle cx="593.1" cy="594.2" r="1.05"/><circle cx="338.6" cy="576.2" r="1.05"/><circle cx="367.7" cy="593.6" r="1.05"/><circle cx="612.8" cy="538.1" r="1.05"/><circle cx="181.6" cy="576.1" r="1.05"/><circle cx="385.7" cy="517.7" r="1.05"/><circle cx="424.5" cy="554.3" r="1.05"/><circle cx="234.6" cy="589.6" r="1.05"/><circle cx="570.2" cy="594.0" r="1.05"/><circle cx="1076.2" cy="456.5" r="1.05"/><circle cx="945.9" cy="448.2" r="1.05"/><circle cx="190.8" cy="528.9" r="1.05"/><circle cx="515.8" cy="587.8" r="1.05"/><circle cx="393.0" cy="609.1" r="1.05"/><circle cx="1062.3" cy="591.0" r="1.05"/><circle cx="586.9" cy="597.3" r="1.05"/><circle cx="778.3" cy="553.2" r="1.05"/><circle cx="162.5" cy="590.6" r="1.05"/><circle cx="534.7" cy="580.7" r="1.05"/><circle cx="313.8" cy="581.8" r="1.05"/><circle cx="429.5" cy="565.4" r="1.05"/><circle cx="479.4" cy="616.0" r="1.05"/><circle cx="611.4" cy="563.7" r="1.05"/><circle cx="430.4" cy="581.5" r="1.05"/><circle cx="809.7" cy="549.0" r="1.05"/><circle cx="408.3" cy="589.7" r="1.05"/><circle cx="323.8" cy="620.6" r="1.05"/><circle cx="482.8" cy="557.8" r="1.05"/><circle cx="885.4" cy="552.2" r="1.05"/><circle cx="1037.9" cy="500.6" r="1.05"/><circle cx="227.3" cy="575.4" r="1.05"/><circle cx="262.1" cy="581.8" r="1.05"/><circle cx="196.9" cy="573.0" r="1.05"/><circle cx="250.3" cy="571.1" r="1.05"/><circle cx="892.6" cy="572.0" r="1.05"/><circle cx="670.0" cy="598.6" r="1.05"/><circle cx="757.1" cy="503.5" r="1.05"/><circle cx="729.1" cy="583.3" r="1.05"/><circle cx="382.9" cy="480.5" r="1.05"/><circle cx="437.8" cy="604.8" r="1.05"/><circle cx="398.1" cy="573.7" r="1.05"/><circle cx="507.0" cy="575.7" r="1.05"/><circle cx="201.0" cy="577.4" r="1.05"/><circle cx="508.2" cy="599.6" r="1.05"/><circle cx="460.5" cy="565.1" r="1.05"/><circle cx="539.6" cy="467.9" r="1.05"/><circle cx="942.8" cy="547.3" r="1.05"/><circle cx="970.8" cy="612.5" r="1.05"/><circle cx="443.7" cy="554.4" r="1.05"/><circle cx="211.1" cy="573.1" r="1.05"/><circle cx="1040.3" cy="429.6" r="1.05"/><circle cx="261.9" cy="601.5" r="1.05"/><circle cx="927.3" cy="489.0" r="1.05"/><circle cx="228.4" cy="557.4" r="1.05"/><circle cx="463.1" cy="589.8" r="1.05"/><circle cx="357.1" cy="579.1" r="1.05"/><circle cx="336.2" cy="565.4" r="1.05"/><circle cx="501.5" cy="545.7" r="1.05"/><circle cx="509.0" cy="581.0" r="1.05"/><circle cx="752.5" cy="541.1" r="1.05"/><circle cx="515.0" cy="472.8" r="1.05"/><circle cx="617.9" cy="598.8" r="1.05"/><circle cx="524.8" cy="456.9" r="1.05"/><circle cx="824.8" cy="557.2" r="1.05"/><circle cx="992.6" cy="403.9" r="1.05"/><circle cx="287.4" cy="609.5" r="1.05"/><circle cx="955.2" cy="524.9" r="1.05"/><circle cx="904.4" cy="558.6" r="1.05"/><circle cx="548.3" cy="538.5" r="1.05"/><circle cx="517.3" cy="566.4" r="1.05"/><circle cx="470.1" cy="561.0" r="1.05"/><circle cx="686.2" cy="542.0" r="1.05"/><circle cx="548.4" cy="564.6" r="1.05"/><circle cx="536.5" cy="535.1" r="1.05"/><circle cx="907.6" cy="515.5" r="1.05"/><circle cx="902.5" cy="529.5" r="1.05"/><circle cx="1122.5" cy="522.9" r="1.05"/><circle cx="449.6" cy="600.7" r="1.05"/><circle cx="664.9" cy="581.5" r="1.05"/><circle cx="204.9" cy="575.3" r="1.05"/><circle cx="1104.1" cy="363.5" r="1.05"/><circle cx="495.2" cy="578.9" r="1.05"/><circle cx="405.1" cy="491.0" r="1.05"/><circle cx="646.6" cy="502.0" r="1.05"/><circle cx="453.9" cy="576.0" r="1.05"/><circle cx="534.7" cy="560.3" r="1.05"/><circle cx="506.6" cy="575.2" r="1.05"/><circle cx="700.5" cy="615.4" r="1.05"/><circle cx="462.8" cy="546.8" r="1.05"/><circle cx="179.0" cy="580.1" r="1.05"/><circle cx="941.7" cy="597.4" r="1.05"/><circle cx="868.3" cy="470.8" r="1.05"/><circle cx="430.8" cy="593.2" r="1.05"/><circle cx="606.0" cy="576.2" r="1.05"/><circle cx="622.7" cy="615.3" r="1.05"/><circle cx="591.3" cy="570.5" r="1.05"/><circle cx="701.3" cy="539.3" r="1.05"/><circle cx="233.7" cy="594.4" r="1.05"/><circle cx="344.9" cy="581.9" r="1.05"/><circle cx="560.2" cy="620.2" r="1.05"/><circle cx="822.4" cy="510.4" r="1.05"/><circle cx="655.3" cy="565.9" r="1.05"/><circle cx="273.7" cy="585.0" r="1.05"/><circle cx="318.8" cy="562.3" r="1.05"/><circle cx="603.7" cy="522.8" r="1.05"/><circle cx="818.3" cy="546.0" r="1.05"/><circle cx="532.5" cy="537.7" r="1.05"/><circle cx="459.0" cy="495.0" r="1.05"/><circle cx="263.5" cy="607.8" r="1.05"/><circle cx="215.8" cy="583.2" r="1.05"/><circle cx="369.3" cy="617.2" r="1.05"/><circle cx="666.4" cy="548.8" r="1.05"/><circle cx="266.1" cy="539.0" r="1.05"/><circle cx="455.4" cy="581.9" r="1.05"/><circle cx="1019.8" cy="569.5" r="1.05"/><circle cx="797.0" cy="570.1" r="1.05"/><circle cx="902.9" cy="499.5" r="1.05"/><circle cx="545.4" cy="612.9" r="1.05"/><circle cx="741.6" cy="603.9" r="1.05"/><circle cx="494.6" cy="560.2" r="1.05"/><circle cx="434.7" cy="611.7" r="1.05"/><circle cx="733.8" cy="552.5" r="1.05"/><circle cx="531.0" cy="603.6" r="1.05"/><circle cx="382.3" cy="616.9" r="1.05"/><circle cx="568.6" cy="539.0" r="1.05"/><circle cx="1018.1" cy="391.5" r="1.05"/><circle cx="196.4" cy="602.8" r="1.05"/><circle cx="423.4" cy="468.7" r="1.05"/><circle cx="552.1" cy="567.1" r="1.05"/><circle cx="928.6" cy="482.7" r="1.05"/><circle cx="437.0" cy="572.8" r="1.05"/><circle cx="284.4" cy="607.3" r="1.05"/><circle cx="269.1" cy="551.2" r="1.05"/><circle cx="471.5" cy="571.8" r="1.05"/><circle cx="395.2" cy="563.1" r="1.05"/><circle cx="178.3" cy="581.5" r="1.05"/><circle cx="326.4" cy="591.5" r="1.05"/><circle cx="446.5" cy="562.0" r="1.05"/><circle cx="450.0" cy="583.3" r="1.05"/><circle cx="307.9" cy="561.5" r="1.05"/><circle cx="427.9" cy="607.6" r="1.05"/><circle cx="531.8" cy="559.0" r="1.05"/><circle cx="545.6" cy="591.7" r="1.05"/><circle cx="828.9" cy="508.2" r="1.05"/><circle cx="461.4" cy="606.3" r="1.05"/><circle cx="288.7" cy="581.5" r="1.05"/><circle cx="396.1" cy="537.4" r="1.05"/><circle cx="1011.3" cy="561.5" r="1.05"/><circle cx="549.8" cy="598.3" r="1.05"/><circle cx="816.7" cy="460.4" r="1.05"/><circle cx="880.5" cy="510.9" r="1.05"/><circle cx="532.8" cy="546.2" r="1.05"/><circle cx="616.0" cy="543.7" r="1.05"/><circle cx="440.9" cy="609.0" r="1.05"/><circle cx="398.9" cy="617.8" r="1.05"/><circle cx="476.1" cy="620.6" r="1.05"/><circle cx="430.7" cy="560.6" r="1.05"/><circle cx="532.4" cy="610.4" r="1.05"/><circle cx="1080.9" cy="590.0" r="1.05"/><circle cx="774.5" cy="571.5" r="1.05"/><circle cx="905.6" cy="531.9" r="1.05"/><circle cx="334.6" cy="573.6" r="1.05"/><circle cx="380.3" cy="620.0" r="1.05"/><circle cx="1021.1" cy="356.2" r="1.05"/><circle cx="426.2" cy="602.1" r="1.05"/><circle cx="532.6" cy="567.6" r="1.05"/><circle cx="169.7" cy="586.5" r="1.05"/><circle cx="900.5" cy="575.0" r="1.05"/><circle cx="750.9" cy="531.0" r="1.05"/><circle cx="758.1" cy="532.8" r="1.05"/><circle cx="232.6" cy="548.1" r="1.05"/><circle cx="247.3" cy="511.7" r="1.05"/><circle cx="445.9" cy="471.9" r="1.05"/><circle cx="879.3" cy="457.4" r="1.05"/><circle cx="193.9" cy="564.8" r="1.05"/><circle cx="190.7" cy="592.9" r="1.05"/><circle cx="714.5" cy="606.3" r="1.05"/><circle cx="755.2" cy="527.7" r="1.05"/><circle cx="499.5" cy="590.7" r="1.05"/><circle cx="480.0" cy="582.8" r="1.05"/><circle cx="266.8" cy="594.2" r="1.05"/><circle cx="277.6" cy="570.2" r="1.05"/><circle cx="250.2" cy="592.7" r="1.05"/><circle cx="854.4" cy="470.8" r="1.05"/><circle cx="544.5" cy="586.7" r="1.05"/><circle cx="556.6" cy="555.8" r="1.05"/><circle cx="1080.1" cy="306.1" r="1.05"/><circle cx="381.5" cy="607.6" r="1.05"/><circle cx="486.3" cy="566.6" r="1.05"/><circle cx="795.9" cy="566.7" r="1.05"/><circle cx="568.9" cy="566.6" r="1.05"/><circle cx="351.1" cy="592.4" r="1.05"/><circle cx="281.6" cy="576.8" r="1.05"/><circle cx="408.6" cy="562.0" r="1.05"/><circle cx="378.1" cy="557.4" r="1.05"/><circle cx="230.6" cy="614.1" r="1.05"/><circle cx="377.9" cy="554.3" r="1.05"/><circle cx="323.0" cy="579.6" r="1.05"/><circle cx="814.0" cy="568.4" r="1.05"/><circle cx="262.1" cy="583.6" r="1.05"/><circle cx="498.8" cy="496.7" r="1.05"/><circle cx="730.6" cy="558.6" r="1.05"/><circle cx="363.3" cy="600.6" r="1.05"/><circle cx="279.4" cy="559.4" r="1.05"/><circle cx="559.6" cy="575.6" r="1.05"/><circle cx="441.5" cy="549.3" r="1.05"/><circle cx="484.2" cy="563.7" r="1.05"/><circle cx="208.8" cy="536.4" r="1.05"/><circle cx="1108.4" cy="518.4" r="1.05"/><circle cx="301.6" cy="590.1" r="1.05"/><circle cx="734.7" cy="485.1" r="1.05"/><circle cx="372.0" cy="571.1" r="1.05"/><circle cx="1125.5" cy="305.2" r="1.05"/><circle cx="395.5" cy="560.6" r="1.05"/><circle cx="476.6" cy="572.6" r="1.05"/><circle cx="476.7" cy="615.0" r="1.05"/><circle cx="394.0" cy="476.4" r="1.05"/><circle cx="342.8" cy="535.6" r="1.05"/><circle cx="268.0" cy="626.4" r="1.05"/><circle cx="789.1" cy="491.8" r="1.05"/><circle cx="341.6" cy="594.0" r="1.05"/><circle cx="435.3" cy="601.9" r="1.05"/><circle cx="429.5" cy="591.3" r="1.05"/><circle cx="594.9" cy="532.9" r="1.05"/><circle cx="257.0" cy="583.0" r="1.05"/><circle cx="821.0" cy="546.7" r="1.05"/><circle cx="246.8" cy="586.1" r="1.05"/><circle cx="589.7" cy="579.1" r="1.05"/><circle cx="874.5" cy="488.7" r="1.05"/><circle cx="351.9" cy="623.0" r="1.05"/><circle cx="348.9" cy="610.0" r="1.05"/><circle cx="780.1" cy="551.3" r="1.05"/><circle cx="618.7" cy="600.8" r="1.05"/><circle cx="258.7" cy="577.3" r="1.05"/><circle cx="276.8" cy="590.6" r="1.05"/><circle cx="953.3" cy="477.7" r="1.05"/><circle cx="853.4" cy="539.2" r="1.05"/><circle cx="517.3" cy="547.5" r="1.05"/><circle cx="758.2" cy="546.6" r="1.05"/><circle cx="435.7" cy="547.9" r="1.05"/><circle cx="148.7" cy="591.9" r="1.05"/><circle cx="352.2" cy="617.8" r="1.05"/><circle cx="308.7" cy="579.2" r="1.05"/><circle cx="771.0" cy="542.0" r="1.05"/><circle cx="255.9" cy="592.9" r="1.05"/><circle cx="438.5" cy="533.8" r="1.05"/><circle cx="1054.1" cy="427.6" r="1.05"/><circle cx="346.6" cy="515.0" r="1.05"/><circle cx="578.2" cy="577.8" r="1.05"/><circle cx="633.2" cy="574.4" r="1.05"/><circle cx="935.3" cy="466.8" r="1.05"/><circle cx="1017.5" cy="308.9" r="1.05"/><circle cx="963.9" cy="544.7" r="1.05"/><circle cx="542.2" cy="546.7" r="1.05"/><circle cx="1030.0" cy="485.0" r="1.05"/><circle cx="190.8" cy="588.5" r="1.05"/><circle cx="162.7" cy="552.5" r="1.05"/><circle cx="686.0" cy="505.6" r="1.05"/><circle cx="556.3" cy="534.4" r="1.05"/><circle cx="432.0" cy="591.0" r="1.05"/><circle cx="625.3" cy="559.2" r="1.05"/><circle cx="817.6" cy="601.2" r="1.05"/><circle cx="1103.0" cy="402.3" r="1.05"/><circle cx="623.5" cy="601.0" r="1.05"/><circle cx="667.9" cy="565.4" r="1.05"/><circle cx="594.8" cy="522.2" r="1.05"/><circle cx="465.3" cy="578.2" r="1.05"/><circle cx="467.8" cy="565.1" r="1.05"/><circle cx="303.0" cy="594.2" r="1.05"/><circle cx="402.9" cy="604.6" r="1.05"/><circle cx="153.8" cy="594.6" r="1.05"/><circle cx="958.4" cy="508.2" r="1.05"/><circle cx="567.5" cy="582.2" r="1.05"/><circle cx="710.5" cy="544.4" r="1.05"/><circle cx="341.7" cy="546.1" r="1.05"/><circle cx="427.2" cy="621.5" r="1.05"/><circle cx="1100.8" cy="345.9" r="1.05"/><circle cx="326.1" cy="563.0" r="1.05"/><circle cx="421.0" cy="500.8" r="1.05"/><circle cx="332.6" cy="556.7" r="1.05"/><circle cx="246.3" cy="537.3" r="1.05"/><circle cx="269.2" cy="592.3" r="1.05"/><circle cx="276.1" cy="602.8" r="1.05"/><circle cx="306.2" cy="580.9" r="1.05"/><circle cx="150.4" cy="572.4" r="1.05"/><circle cx="169.5" cy="585.8" r="1.05"/><circle cx="622.1" cy="534.2" r="1.05"/><circle cx="685.0" cy="512.5" r="1.05"/><circle cx="488.7" cy="570.2" r="1.05"/><circle cx="478.2" cy="580.5" r="1.05"/><circle cx="802.0" cy="495.2" r="1.05"/><circle cx="590.6" cy="546.6" r="1.05"/><circle cx="730.6" cy="504.8" r="1.05"/><circle cx="535.5" cy="587.7" r="1.05"/><circle cx="1014.5" cy="392.8" r="1.05"/><circle cx="531.5" cy="490.6" r="1.05"/><circle cx="835.1" cy="408.3" r="1.05"/><circle cx="573.2" cy="603.4" r="1.05"/><circle cx="1005.6" cy="499.0" r="1.05"/><circle cx="560.7" cy="491.0" r="1.05"/><circle cx="288.0" cy="573.3" r="1.05"/><circle cx="559.8" cy="539.1" r="1.05"/><circle cx="319.4" cy="575.6" r="1.05"/><circle cx="827.3" cy="411.8" r="1.05"/><circle cx="1129.9" cy="408.9" r="1.05"/><circle cx="802.5" cy="541.0" r="1.05"/><circle cx="484.2" cy="560.3" r="1.05"/><circle cx="458.7" cy="498.7" r="1.05"/><circle cx="855.4" cy="485.2" r="1.05"/><circle cx="231.9" cy="611.7" r="1.05"/><circle cx="644.4" cy="616.2" r="1.05"/><circle cx="301.3" cy="550.3" r="1.05"/><circle cx="229.1" cy="613.2" r="1.05"/><circle cx="893.5" cy="498.6" r="1.05"/><circle cx="234.7" cy="594.7" r="1.05"/><circle cx="373.6" cy="565.4" r="1.05"/><circle cx="469.4" cy="590.1" r="1.05"/><circle cx="323.3" cy="625.8" r="1.05"/><circle cx="814.7" cy="419.3" r="1.05"/><circle cx="1089.5" cy="465.8" r="1.05"/><circle cx="168.6" cy="584.9" r="1.05"/><circle cx="452.9" cy="544.2" r="1.05"/><circle cx="578.1" cy="510.0" r="1.05"/><circle cx="471.5" cy="577.0" r="1.05"/><circle cx="454.3" cy="567.0" r="1.05"/><circle cx="459.5" cy="554.3" r="1.05"/><circle cx="727.4" cy="572.3" r="1.05"/><circle cx="303.1" cy="550.0" r="1.05"/><circle cx="1017.0" cy="445.6" r="1.05"/><circle cx="775.6" cy="554.1" r="1.05"/><circle cx="255.4" cy="589.4" r="1.05"/><circle cx="153.2" cy="554.4" r="1.05"/><circle cx="386.5" cy="579.7" r="1.05"/><circle cx="305.4" cy="565.3" r="1.05"/><circle cx="228.0" cy="571.8" r="1.05"/><circle cx="706.5" cy="558.6" r="1.05"/><circle cx="206.0" cy="638.0" r="1.05"/><circle cx="383.1" cy="563.3" r="1.05"/><circle cx="353.7" cy="547.6" r="1.05"/><circle cx="746.7" cy="571.6" r="1.05"/><circle cx="957.2" cy="543.1" r="1.05"/><circle cx="491.4" cy="533.0" r="1.05"/><circle cx="430.1" cy="603.9" r="1.05"/><circle cx="381.4" cy="525.7" r="1.05"/><circle cx="504.9" cy="546.3" r="1.05"/><circle cx="369.3" cy="519.6" r="1.05"/><circle cx="665.6" cy="556.3" r="1.05"/><circle cx="175.9" cy="577.8" r="1.05"/><circle cx="881.0" cy="498.3" r="1.05"/><circle cx="798.9" cy="597.5" r="1.05"/><circle cx="329.7" cy="598.4" r="1.05"/><circle cx="149.2" cy="545.0" r="1.05"/><circle cx="691.1" cy="577.8" r="1.05"/><circle cx="290.2" cy="600.6" r="1.05"/><circle cx="459.1" cy="558.9" r="1.05"/><circle cx="390.1" cy="517.2" r="1.05"/><circle cx="522.0" cy="569.0" r="1.05"/><circle cx="910.6" cy="527.7" r="1.05"/><circle cx="413.0" cy="573.9" r="1.05"/><circle cx="711.7" cy="526.8" r="1.05"/><circle cx="540.8" cy="609.6" r="1.05"/><circle cx="222.7" cy="569.1" r="1.05"/><circle cx="657.6" cy="536.3" r="1.05"/><circle cx="785.3" cy="466.5" r="1.05"/><circle cx="466.2" cy="524.4" r="1.05"/><circle cx="440.6" cy="546.7" r="1.05"/><circle cx="644.5" cy="555.3" r="1.05"/><circle cx="326.0" cy="579.1" r="1.05"/><circle cx="910.2" cy="500.3" r="1.05"/><circle cx="751.5" cy="567.0" r="1.05"/><circle cx="333.8" cy="589.9" r="1.05"/><circle cx="990.6" cy="489.3" r="1.05"/><circle cx="699.9" cy="597.3" r="1.05"/><circle cx="162.9" cy="548.2" r="1.05"/><circle cx="836.0" cy="505.9" r="1.05"/><circle cx="495.9" cy="509.2" r="1.05"/><circle cx="147.6" cy="603.2" r="1.05"/><circle cx="261.5" cy="586.8" r="1.05"/><circle cx="314.7" cy="592.7" r="1.05"/><circle cx="606.6" cy="535.9" r="1.05"/><circle cx="229.7" cy="567.3" r="1.05"/><circle cx="309.0" cy="551.2" r="1.05"/><circle cx="215.5" cy="557.3" r="1.05"/><circle cx="503.4" cy="598.5" r="1.05"/><circle cx="277.5" cy="569.1" r="1.05"/><circle cx="315.2" cy="573.6" r="1.05"/><circle cx="895.0" cy="513.6" r="1.05"/><circle cx="789.3" cy="504.3" r="1.05"/><circle cx="325.2" cy="617.5" r="1.05"/><circle cx="962.6" cy="540.9" r="1.05"/><circle cx="400.2" cy="581.2" r="1.05"/><circle cx="252.6" cy="598.3" r="1.05"/><circle cx="622.3" cy="596.5" r="1.05"/><circle cx="554.6" cy="523.2" r="1.05"/><circle cx="508.6" cy="531.1" r="1.05"/><circle cx="384.2" cy="598.6" r="1.05"/><circle cx="552.3" cy="624.5" r="1.05"/><circle cx="300.2" cy="557.1" r="1.05"/><circle cx="660.8" cy="569.5" r="1.05"/><circle cx="623.5" cy="595.5" r="1.05"/><circle cx="403.7" cy="557.1" r="1.05"/><circle cx="142.0" cy="584.7" r="1.05"/><circle cx="393.8" cy="615.7" r="1.05"/><circle cx="272.9" cy="577.8" r="1.05"/><circle cx="563.0" cy="612.1" r="1.05"/><circle cx="326.2" cy="562.2" r="1.05"/><circle cx="265.3" cy="608.2" r="1.05"/><circle cx="456.7" cy="611.6" r="1.05"/><circle cx="529.6" cy="541.2" r="1.05"/><circle cx="188.3" cy="554.3" r="1.05"/><circle cx="975.1" cy="519.6" r="1.05"/><circle cx="292.4" cy="606.3" r="1.05"/><circle cx="424.8" cy="554.7" r="1.05"/><circle cx="363.0" cy="574.5" r="1.05"/><circle cx="1010.5" cy="474.5" r="1.05"/><circle cx="858.3" cy="549.4" r="1.05"/><circle cx="264.5" cy="613.0" r="1.05"/><circle cx="887.3" cy="549.1" r="1.05"/><circle cx="546.0" cy="502.6" r="1.05"/><circle cx="382.7" cy="594.8" r="1.05"/><circle cx="1010.8" cy="502.5" r="1.05"/><circle cx="706.5" cy="556.5" r="1.05"/><circle cx="292.0" cy="550.4" r="1.05"/><circle cx="1075.1" cy="451.8" r="1.05"/><circle cx="584.7" cy="580.5" r="1.05"/><circle cx="604.4" cy="460.5" r="1.05"/><circle cx="472.8" cy="567.8" r="1.05"/><circle cx="433.1" cy="565.3" r="1.05"/><circle cx="146.2" cy="598.6" r="1.05"/><circle cx="725.3" cy="603.9" r="1.05"/><circle cx="552.3" cy="551.5" r="1.05"/><circle cx="677.7" cy="570.7" r="1.05"/><circle cx="429.0" cy="565.1" r="1.05"/><circle cx="732.9" cy="620.9" r="1.05"/><circle cx="250.1" cy="521.6" r="1.05"/><circle cx="1142.4" cy="455.3" r="1.05"/><circle cx="746.6" cy="503.6" r="1.05"/><circle cx="416.0" cy="603.1" r="1.05"/><circle cx="585.2" cy="562.4" r="1.05"/><circle cx="250.6" cy="577.5" r="1.05"/><circle cx="551.5" cy="519.6" r="1.05"/><circle cx="939.6" cy="447.3" r="1.05"/><circle cx="719.5" cy="616.9" r="1.05"/><circle cx="721.5" cy="541.5" r="1.05"/><circle cx="732.5" cy="543.8" r="1.05"/><circle cx="256.3" cy="589.1" r="1.05"/><circle cx="349.7" cy="572.0" r="1.05"/><circle cx="675.5" cy="530.1" r="1.05"/><circle cx="228.4" cy="552.3" r="1.05"/><circle cx="372.8" cy="605.0" r="1.05"/><circle cx="170.0" cy="601.6" r="1.05"/><circle cx="283.8" cy="579.4" r="1.05"/><circle cx="630.1" cy="532.6" r="1.05"/><circle cx="811.5" cy="579.2" r="1.05"/><circle cx="1079.0" cy="474.5" r="1.05"/><circle cx="885.3" cy="582.9" r="1.05"/><circle cx="721.0" cy="549.6" r="1.05"/><circle cx="847.3" cy="539.5" r="1.05"/><circle cx="867.0" cy="492.4" r="1.05"/><circle cx="579.3" cy="499.6" r="1.05"/><circle cx="498.4" cy="593.7" r="1.05"/><circle cx="637.8" cy="542.7" r="1.05"/><circle cx="686.1" cy="606.6" r="1.05"/><circle cx="193.0" cy="574.1" r="1.05"/><circle cx="480.1" cy="611.4" r="1.05"/><circle cx="527.8" cy="585.4" r="1.05"/><circle cx="453.6" cy="638.6" r="1.05"/><circle cx="242.4" cy="569.2" r="1.05"/><circle cx="582.2" cy="594.3" r="1.05"/><circle cx="323.5" cy="568.9" r="1.05"/><circle cx="405.2" cy="519.6" r="1.05"/><circle cx="479.0" cy="593.7" r="1.05"/><circle cx="286.7" cy="574.1" r="1.05"/><circle cx="548.0" cy="591.1" r="1.05"/><circle cx="468.1" cy="586.4" r="1.05"/><circle cx="743.8" cy="545.6" r="1.05"/><circle cx="767.4" cy="490.9" r="1.05"/><circle cx="685.6" cy="544.3" r="1.05"/><circle cx="480.9" cy="572.9" r="1.05"/><circle cx="529.0" cy="574.4" r="1.05"/><circle cx="360.5" cy="537.6" r="1.05"/><circle cx="380.0" cy="559.4" r="1.05"/><circle cx="212.9" cy="569.7" r="1.05"/><circle cx="907.8" cy="600.8" r="1.05"/><circle cx="403.8" cy="581.3" r="1.05"/><circle cx="437.8" cy="601.5" r="1.05"/><circle cx="472.2" cy="488.7" r="1.05"/><circle cx="965.4" cy="444.2" r="1.05"/><circle cx="628.0" cy="482.5" r="1.05"/><circle cx="802.4" cy="573.7" r="1.05"/><circle cx="274.3" cy="612.6" r="1.05"/><circle cx="280.3" cy="598.3" r="1.05"/><circle cx="231.3" cy="561.5" r="1.05"/><circle cx="1087.9" cy="522.1" r="1.05"/><circle cx="584.1" cy="532.6" r="1.05"/><circle cx="466.3" cy="512.3" r="1.05"/><circle cx="505.9" cy="579.8" r="1.05"/><circle cx="629.4" cy="511.3" r="1.05"/><circle cx="801.4" cy="616.4" r="1.05"/><circle cx="575.6" cy="601.5" r="1.05"/><circle cx="732.6" cy="572.4" r="1.05"/><circle cx="158.4" cy="589.9" r="1.05"/><circle cx="264.8" cy="610.5" r="1.05"/><circle cx="1039.7" cy="509.1" r="1.05"/><circle cx="860.0" cy="444.5" r="1.05"/><circle cx="455.5" cy="538.8" r="1.05"/><circle cx="435.3" cy="557.8" r="1.05"/><circle cx="252.1" cy="600.7" r="1.05"/><circle cx="225.3" cy="531.0" r="1.05"/><circle cx="459.7" cy="546.7" r="1.05"/><circle cx="224.8" cy="602.9" r="1.05"/><circle cx="775.6" cy="477.2" r="1.05"/><circle cx="550.2" cy="577.5" r="1.05"/><circle cx="412.8" cy="554.4" r="1.05"/><circle cx="883.5" cy="491.9" r="1.05"/><circle cx="293.6" cy="559.7" r="1.05"/><circle cx="233.4" cy="526.3" r="1.05"/><circle cx="899.5" cy="484.8" r="1.05"/><circle cx="248.6" cy="575.4" r="1.05"/><circle cx="197.9" cy="581.0" r="1.05"/><circle cx="592.1" cy="541.6" r="1.05"/><circle cx="620.0" cy="531.2" r="1.05"/><circle cx="335.8" cy="606.5" r="1.05"/><circle cx="457.5" cy="566.5" r="1.05"/><circle cx="793.2" cy="483.7" r="1.05"/><circle cx="596.7" cy="506.4" r="1.05"/><circle cx="948.2" cy="502.0" r="1.05"/><circle cx="263.6" cy="558.8" r="1.05"/><circle cx="414.9" cy="580.9" r="1.05"/><circle cx="557.1" cy="587.1" r="1.05"/><circle cx="953.6" cy="457.2" r="1.05"/><circle cx="272.4" cy="506.9" r="1.05"/><circle cx="282.7" cy="593.1" r="1.05"/><circle cx="142.2" cy="602.1" r="1.05"/><circle cx="649.1" cy="622.3" r="1.05"/><circle cx="746.4" cy="500.2" r="1.05"/><circle cx="152.3" cy="604.0" r="1.05"/><circle cx="152.9" cy="597.3" r="1.05"/><circle cx="713.1" cy="587.7" r="1.05"/><circle cx="516.6" cy="593.2" r="1.05"/><circle cx="336.3" cy="548.7" r="1.05"/><circle cx="540.4" cy="589.5" r="1.05"/><circle cx="398.2" cy="567.9" r="1.05"/><circle cx="713.5" cy="577.3" r="1.05"/><circle cx="898.6" cy="535.6" r="1.05"/><circle cx="141.9" cy="561.5" r="1.05"/><circle cx="698.0" cy="516.8" r="1.05"/><circle cx="730.8" cy="590.7" r="1.05"/><circle cx="341.7" cy="575.5" r="1.05"/><circle cx="646.3" cy="589.8" r="1.05"/><circle cx="423.5" cy="546.4" r="1.05"/><circle cx="359.9" cy="592.0" r="1.05"/><circle cx="541.0" cy="594.5" r="1.05"/><circle cx="723.5" cy="501.5" r="1.05"/><circle cx="923.5" cy="543.1" r="1.05"/><circle cx="902.2" cy="505.0" r="1.05"/><circle cx="238.7" cy="557.8" r="1.05"/><circle cx="655.4" cy="576.6" r="1.05"/><circle cx="535.7" cy="577.6" r="1.05"/><circle cx="729.0" cy="515.2" r="1.05"/><circle cx="221.5" cy="562.7" r="1.05"/><circle cx="649.3" cy="521.6" r="1.05"/><circle cx="301.1" cy="577.4" r="1.05"/><circle cx="434.0" cy="574.2" r="1.05"/><circle cx="190.6" cy="529.0" r="1.05"/><circle cx="985.6" cy="542.8" r="1.05"/><circle cx="545.5" cy="588.5" r="1.05"/><circle cx="599.5" cy="484.1" r="1.05"/><circle cx="453.6" cy="593.8" r="1.05"/><circle cx="388.8" cy="605.9" r="1.05"/><circle cx="311.4" cy="562.8" r="1.05"/><circle cx="321.9" cy="542.4" r="1.05"/><circle cx="437.0" cy="490.6" r="1.05"/><circle cx="240.6" cy="624.7" r="1.05"/><circle cx="950.8" cy="516.0" r="1.05"/><circle cx="158.2" cy="589.3" r="1.05"/><circle cx="1085.1" cy="429.7" r="1.05"/><circle cx="791.7" cy="574.9" r="1.05"/><circle cx="784.9" cy="535.7" r="1.05"/><circle cx="754.6" cy="528.1" r="1.05"/><circle cx="694.2" cy="542.5" r="1.05"/><circle cx="940.3" cy="555.5" r="1.05"/><circle cx="248.3" cy="572.7" r="1.05"/><circle cx="687.3" cy="585.3" r="1.05"/><circle cx="179.7" cy="600.3" r="1.05"/><circle cx="406.0" cy="581.6" r="1.05"/><circle cx="685.5" cy="511.3" r="1.05"/><circle cx="539.1" cy="619.4" r="1.05"/><circle cx="494.5" cy="571.6" r="1.05"/><circle cx="181.4" cy="533.6" r="1.05"/><circle cx="682.8" cy="546.2" r="1.05"/><circle cx="293.0" cy="591.8" r="1.05"/><circle cx="498.3" cy="560.0" r="1.05"/><circle cx="479.2" cy="575.9" r="1.05"/><circle cx="624.5" cy="584.5" r="1.05"/><circle cx="419.7" cy="544.8" r="1.05"/><circle cx="578.1" cy="573.4" r="1.05"/><circle cx="221.9" cy="596.9" r="1.05"/><circle cx="217.4" cy="554.7" r="1.05"/><circle cx="247.8" cy="599.5" r="1.05"/><circle cx="658.7" cy="568.5" r="1.05"/><circle cx="287.8" cy="530.4" r="1.05"/><circle cx="285.4" cy="574.5" r="1.05"/><circle cx="576.4" cy="501.9" r="1.05"/><circle cx="385.6" cy="616.9" r="1.05"/><circle cx="560.0" cy="608.8" r="1.05"/><circle cx="260.0" cy="598.3" r="1.05"/><circle cx="229.8" cy="584.0" r="1.05"/><circle cx="498.9" cy="618.6" r="1.05"/><circle cx="322.4" cy="571.4" r="1.05"/><circle cx="265.9" cy="593.2" r="1.05"/><circle cx="172.3" cy="594.2" r="1.05"/><circle cx="985.7" cy="493.4" r="1.05"/><circle cx="538.8" cy="576.3" r="1.05"/><circle cx="622.6" cy="599.8" r="1.05"/><circle cx="922.8" cy="526.3" r="1.05"/><circle cx="1010.7" cy="565.2" r="1.05"/><circle cx="619.6" cy="492.7" r="1.05"/><circle cx="1076.4" cy="510.2" r="1.05"/><circle cx="493.7" cy="579.2" r="1.05"/><circle cx="441.1" cy="592.0" r="1.05"/><circle cx="265.5" cy="579.4" r="1.05"/><circle cx="444.0" cy="565.5" r="1.05"/><circle cx="549.2" cy="571.9" r="1.05"/><circle cx="392.5" cy="602.4" r="1.05"/><circle cx="982.2" cy="387.0" r="1.05"/><circle cx="220.8" cy="582.0" r="1.05"/><circle cx="936.3" cy="600.8" r="1.05"/><circle cx="536.8" cy="624.8" r="1.05"/><circle cx="403.9" cy="604.1" r="1.05"/><circle cx="310.2" cy="606.2" r="1.05"/><circle cx="228.4" cy="616.0" r="1.05"/><circle cx="224.4" cy="603.2" r="1.05"/><circle cx="170.1" cy="573.5" r="1.05"/><circle cx="330.6" cy="532.4" r="1.05"/><circle cx="867.4" cy="510.4" r="1.05"/><circle cx="227.7" cy="571.9" r="1.05"/><circle cx="160.9" cy="545.9" r="1.05"/><circle cx="491.3" cy="453.4" r="1.05"/><circle cx="388.4" cy="531.9" r="1.05"/><circle cx="412.4" cy="553.8" r="1.05"/><circle cx="170.1" cy="585.9" r="1.05"/><circle cx="459.7" cy="600.4" r="1.05"/><circle cx="426.9" cy="559.8" r="1.05"/><circle cx="1085.6" cy="325.9" r="1.05"/><circle cx="1012.2" cy="463.9" r="1.05"/><circle cx="439.9" cy="589.4" r="1.05"/><circle cx="946.4" cy="459.6" r="1.05"/><circle cx="542.9" cy="571.1" r="1.05"/><circle cx="265.6" cy="594.9" r="1.05"/><circle cx="1047.3" cy="596.9" r="1.05"/><circle cx="433.8" cy="554.8" r="1.05"/><circle cx="485.9" cy="591.1" r="1.05"/><circle cx="657.1" cy="496.8" r="1.05"/><circle cx="311.7" cy="594.9" r="1.05"/><circle cx="479.6" cy="569.1" r="1.05"/><circle cx="319.2" cy="593.1" r="1.05"/><circle cx="324.6" cy="507.0" r="1.05"/><circle cx="402.7" cy="519.7" r="1.05"/><circle cx="931.1" cy="510.9" r="1.05"/><circle cx="594.9" cy="490.2" r="1.05"/><circle cx="430.8" cy="606.2" r="1.05"/><circle cx="392.7" cy="552.9" r="1.05"/><circle cx="445.5" cy="589.4" r="1.05"/><circle cx="249.4" cy="584.2" r="1.05"/><circle cx="877.0" cy="547.9" r="1.05"/><circle cx="415.6" cy="553.5" r="1.05"/><circle cx="482.1" cy="616.7" r="1.05"/><circle cx="215.6" cy="592.5" r="1.05"/><circle cx="923.0" cy="382.3" r="1.05"/><circle cx="501.3" cy="625.5" r="1.05"/><circle cx="1116.5" cy="481.3" r="1.05"/><circle cx="221.5" cy="610.1" r="1.05"/><circle cx="335.6" cy="631.9" r="1.05"/><circle cx="557.7" cy="550.8" r="1.05"/><circle cx="440.8" cy="587.5" r="1.05"/><circle cx="779.3" cy="453.2" r="1.05"/><circle cx="547.7" cy="617.3" r="1.05"/><circle cx="862.1" cy="500.0" r="1.05"/><circle cx="158.3" cy="619.5" r="1.05"/><circle cx="973.6" cy="442.4" r="1.05"/><circle cx="249.8" cy="558.6" r="1.05"/><circle cx="398.3" cy="568.3" r="1.05"/><circle cx="519.9" cy="502.1" r="1.05"/><circle cx="886.4" cy="468.4" r="1.05"/><circle cx="364.2" cy="595.0" r="1.05"/><circle cx="162.9" cy="599.3" r="1.05"/><circle cx="222.8" cy="584.1" r="1.05"/><circle cx="290.1" cy="582.3" r="1.05"/><circle cx="614.9" cy="518.0" r="1.05"/><circle cx="631.9" cy="564.8" r="1.05"/><circle cx="1005.9" cy="430.1" r="1.05"/><circle cx="1146.6" cy="387.6" r="1.05"/><circle cx="316.2" cy="532.1" r="1.05"/><circle cx="432.8" cy="587.2" r="1.05"/><circle cx="304.0" cy="604.9" r="1.05"/><circle cx="392.3" cy="576.9" r="1.05"/><circle cx="292.5" cy="579.2" r="1.05"/><circle cx="1138.6" cy="422.1" r="1.05"/><circle cx="150.4" cy="548.9" r="1.05"/><circle cx="843.2" cy="548.7" r="1.05"/><circle cx="657.8" cy="555.2" r="1.05"/><circle cx="534.7" cy="565.8" r="1.05"/><circle cx="306.2" cy="537.2" r="1.05"/><circle cx="378.2" cy="586.6" r="1.05"/><circle cx="990.7" cy="362.3" r="1.05"/><circle cx="231.7" cy="584.9" r="1.05"/><circle cx="459.7" cy="504.6" r="1.05"/><circle cx="988.6" cy="439.9" r="1.05"/><circle cx="165.1" cy="582.0" r="1.05"/><circle cx="513.9" cy="453.7" r="1.05"/><circle cx="686.1" cy="476.7" r="1.05"/><circle cx="336.9" cy="583.9" r="1.05"/><circle cx="444.0" cy="548.7" r="1.05"/><circle cx="957.8" cy="540.6" r="1.05"/><circle cx="557.2" cy="604.4" r="1.05"/><circle cx="839.4" cy="441.9" r="1.05"/><circle cx="648.3" cy="554.1" r="1.05"/><circle cx="309.2" cy="507.8" r="1.05"/><circle cx="254.6" cy="572.6" r="1.05"/><circle cx="556.3" cy="551.4" r="1.05"/><circle cx="379.0" cy="576.2" r="1.05"/><circle cx="192.4" cy="574.0" r="1.05"/><circle cx="183.0" cy="597.7" r="1.05"/><circle cx="785.8" cy="545.7" r="1.05"/><circle cx="680.2" cy="608.8" r="1.05"/><circle cx="839.7" cy="602.3" r="1.05"/><circle cx="150.8" cy="609.6" r="1.05"/><circle cx="550.2" cy="584.3" r="1.05"/><circle cx="251.7" cy="580.2" r="1.05"/><circle cx="888.1" cy="524.5" r="1.05"/><circle cx="562.5" cy="504.6" r="1.05"/><circle cx="864.8" cy="618.7" r="1.05"/><circle cx="325.1" cy="517.5" r="1.05"/><circle cx="992.7" cy="392.4" r="1.05"/><circle cx="386.6" cy="589.5" r="1.05"/><circle cx="748.8" cy="533.4" r="1.05"/><circle cx="495.8" cy="618.2" r="1.05"/><circle cx="474.9" cy="576.6" r="1.05"/><circle cx="364.4" cy="506.8" r="1.05"/><circle cx="1109.8" cy="548.3" r="1.05"/><circle cx="879.0" cy="550.8" r="1.05"/><circle cx="1125.1" cy="441.8" r="1.05"/><circle cx="207.2" cy="558.6" r="1.05"/><circle cx="554.0" cy="562.6" r="1.05"/><circle cx="489.4" cy="585.2" r="1.05"/><circle cx="358.0" cy="552.2" r="1.05"/><circle cx="559.6" cy="583.6" r="1.05"/><circle cx="705.5" cy="472.9" r="1.05"/><circle cx="587.1" cy="557.5" r="1.05"/><circle cx="408.2" cy="595.2" r="1.05"/><circle cx="542.0" cy="584.1" r="1.05"/><circle cx="144.6" cy="598.1" r="1.05"/><circle cx="331.1" cy="585.5" r="1.05"/><circle cx="580.2" cy="544.7" r="1.05"/><circle cx="590.0" cy="602.1" r="1.05"/><circle cx="234.4" cy="574.7" r="1.05"/><circle cx="398.9" cy="573.5" r="1.05"/><circle cx="1032.3" cy="547.0" r="1.05"/><circle cx="301.9" cy="529.8" r="1.05"/><circle cx="259.4" cy="564.1" r="1.05"/><circle cx="494.5" cy="556.9" r="1.05"/><circle cx="411.8" cy="589.5" r="1.05"/><circle cx="506.7" cy="590.8" r="1.05"/><circle cx="190.3" cy="579.6" r="1.05"/><circle cx="626.3" cy="605.5" r="1.05"/><circle cx="440.3" cy="559.3" r="1.05"/><circle cx="209.5" cy="605.7" r="1.05"/><circle cx="507.8" cy="569.4" r="1.05"/><circle cx="546.1" cy="538.0" r="1.05"/><circle cx="373.6" cy="583.0" r="1.05"/><circle cx="315.6" cy="594.1" r="1.05"/><circle cx="889.2" cy="558.8" r="1.05"/><circle cx="575.9" cy="558.7" r="1.05"/><circle cx="369.7" cy="603.7" r="1.05"/><circle cx="752.4" cy="546.4" r="1.05"/><circle cx="441.2" cy="533.9" r="1.05"/><circle cx="476.0" cy="618.3" r="1.05"/><circle cx="248.6" cy="598.7" r="1.05"/><circle cx="365.6" cy="567.7" r="1.05"/><circle cx="411.1" cy="603.3" r="1.05"/><circle cx="803.3" cy="582.3" r="1.05"/><circle cx="306.0" cy="607.1" r="1.05"/><circle cx="506.0" cy="534.6" r="1.05"/><circle cx="321.9" cy="623.7" r="1.05"/><circle cx="704.9" cy="557.8" r="1.05"/><circle cx="251.2" cy="586.1" r="1.05"/><circle cx="484.2" cy="571.5" r="1.05"/><circle cx="332.7" cy="598.1" r="1.05"/><circle cx="664.6" cy="554.9" r="1.05"/><circle cx="882.3" cy="551.4" r="1.05"/><circle cx="1060.3" cy="541.8" r="1.05"/><circle cx="144.7" cy="552.2" r="1.05"/><circle cx="699.0" cy="593.5" r="1.05"/><circle cx="688.7" cy="582.4" r="1.05"/><circle cx="795.4" cy="515.2" r="1.05"/><circle cx="697.6" cy="469.4" r="1.05"/><circle cx="252.5" cy="586.5" r="1.05"/><circle cx="961.0" cy="445.5" r="1.05"/><circle cx="333.2" cy="573.2" r="1.05"/><circle cx="785.7" cy="463.8" r="1.05"/><circle cx="236.6" cy="594.6" r="1.05"/><circle cx="201.7" cy="600.0" r="1.05"/><circle cx="350.7" cy="569.9" r="1.05"/><circle cx="214.8" cy="574.8" r="1.05"/><circle cx="376.3" cy="576.1" r="1.05"/><circle cx="257.7" cy="539.8" r="1.05"/><circle cx="868.8" cy="476.7" r="1.05"/><circle cx="747.0" cy="542.0" r="1.05"/><circle cx="869.4" cy="581.5" r="1.05"/><circle cx="543.9" cy="540.5" r="1.05"/><circle cx="315.4" cy="550.6" r="1.05"/><circle cx="171.2" cy="597.5" r="1.05"/><circle cx="210.3" cy="584.2" r="1.05"/><circle cx="341.6" cy="604.7" r="1.05"/><circle cx="345.7" cy="574.6" r="1.05"/><circle cx="354.8" cy="583.9" r="1.05"/><circle cx="818.1" cy="605.8" r="1.05"/><circle cx="680.0" cy="555.8" r="1.05"/><circle cx="538.6" cy="579.4" r="1.05"/><circle cx="453.9" cy="583.5" r="1.05"/><circle cx="318.9" cy="542.9" r="1.05"/><circle cx="548.2" cy="548.7" r="1.05"/><circle cx="336.4" cy="548.3" r="1.05"/><circle cx="785.9" cy="555.7" r="1.05"/><circle cx="937.0" cy="380.6" r="1.05"/><circle cx="521.6" cy="592.5" r="1.05"/><circle cx="171.0" cy="560.5" r="1.05"/><circle cx="633.4" cy="606.9" r="1.05"/><circle cx="374.7" cy="569.7" r="1.05"/><circle cx="952.3" cy="564.3" r="1.05"/><circle cx="198.4" cy="612.3" r="1.05"/><circle cx="661.6" cy="525.5" r="1.05"/><circle cx="716.5" cy="541.7" r="1.05"/><circle cx="173.0" cy="568.0" r="1.05"/><circle cx="818.4" cy="531.7" r="1.05"/><circle cx="311.8" cy="570.9" r="1.05"/><circle cx="753.6" cy="546.8" r="1.05"/><circle cx="809.7" cy="543.8" r="1.05"/><circle cx="529.8" cy="564.3" r="1.05"/><circle cx="961.7" cy="562.2" r="1.05"/><circle cx="257.4" cy="612.5" r="1.05"/><circle cx="503.8" cy="596.6" r="1.05"/><circle cx="415.9" cy="592.8" r="1.05"/><circle cx="155.8" cy="566.6" r="1.05"/><circle cx="216.5" cy="544.8" r="1.05"/><circle cx="395.4" cy="529.9" r="1.05"/><circle cx="847.3" cy="538.6" r="1.05"/><circle cx="840.5" cy="478.2" r="1.05"/><circle cx="374.8" cy="492.6" r="1.05"/><circle cx="678.1" cy="521.7" r="1.05"/><circle cx="544.5" cy="503.2" r="1.05"/><circle cx="813.9" cy="576.4" r="1.05"/><circle cx="737.2" cy="492.8" r="1.05"/><circle cx="376.2" cy="545.4" r="1.05"/><circle cx="868.3" cy="580.3" r="1.05"/><circle cx="632.3" cy="556.4" r="1.05"/><circle cx="232.0" cy="560.3" r="1.05"/><circle cx="204.9" cy="600.4" r="1.05"/><circle cx="186.6" cy="551.8" r="1.05"/><circle cx="773.5" cy="476.2" r="1.05"/><circle cx="491.0" cy="557.8" r="1.05"/><circle cx="212.1" cy="582.8" r="1.05"/><circle cx="585.7" cy="569.5" r="1.05"/><circle cx="600.7" cy="545.2" r="1.05"/><circle cx="879.5" cy="425.1" r="1.05"/><circle cx="563.5" cy="604.4" r="1.05"/><circle cx="1144.1" cy="429.0" r="1.05"/><circle cx="528.4" cy="557.5" r="1.05"/><circle cx="467.1" cy="595.4" r="1.05"/><circle cx="791.6" cy="590.5" r="1.05"/><circle cx="336.5" cy="582.9" r="1.05"/><circle cx="323.9" cy="614.9" r="1.05"/><circle cx="680.0" cy="543.6" r="1.05"/><circle cx="824.4" cy="545.9" r="1.05"/><circle cx="628.5" cy="596.1" r="1.05"/><circle cx="301.7" cy="578.2" r="1.05"/><circle cx="531.8" cy="593.6" r="1.05"/><circle cx="205.3" cy="597.8" r="1.05"/><circle cx="851.6" cy="434.9" r="1.05"/><circle cx="1031.4" cy="538.5" r="1.05"/><circle cx="154.6" cy="630.1" r="1.05"/><circle cx="429.8" cy="563.5" r="1.05"/><circle cx="857.7" cy="576.5" r="1.05"/><circle cx="837.7" cy="573.0" r="1.05"/><circle cx="412.1" cy="508.0" r="1.05"/><circle cx="319.4" cy="580.5" r="1.05"/><circle cx="540.3" cy="533.1" r="1.05"/><circle cx="426.8" cy="609.1" r="1.05"/><circle cx="152.0" cy="605.4" r="1.05"/><circle cx="502.3" cy="595.0" r="1.05"/><circle cx="415.8" cy="548.7" r="1.05"/><circle cx="417.4" cy="593.4" r="1.05"/><circle cx="269.3" cy="620.4" r="1.05"/><circle cx="549.6" cy="536.3" r="1.05"/><circle cx="333.6" cy="592.0" r="1.05"/><circle cx="1112.1" cy="456.6" r="1.05"/><circle cx="574.3" cy="533.3" r="1.05"/><circle cx="781.6" cy="543.3" r="1.05"/><circle cx="288.0" cy="520.8" r="1.05"/><circle cx="869.0" cy="589.2" r="1.05"/><circle cx="786.9" cy="531.7" r="1.05"/><circle cx="548.4" cy="556.7" r="1.05"/><circle cx="846.4" cy="616.7" r="1.05"/><circle cx="443.3" cy="600.4" r="1.05"/><circle cx="323.5" cy="597.0" r="1.05"/><circle cx="372.9" cy="560.8" r="1.05"/><circle cx="759.0" cy="567.1" r="1.05"/><circle cx="553.6" cy="581.6" r="1.05"/><circle cx="503.1" cy="591.2" r="1.05"/><circle cx="833.5" cy="503.5" r="1.05"/><circle cx="215.6" cy="583.5" r="1.05"/><circle cx="160.3" cy="584.9" r="1.05"/><circle cx="544.0" cy="576.2" r="1.05"/><circle cx="643.3" cy="528.0" r="1.05"/><circle cx="839.4" cy="565.6" r="1.05"/><circle cx="471.7" cy="573.2" r="1.05"/><circle cx="598.9" cy="563.0" r="1.05"/><circle cx="409.5" cy="562.2" r="1.05"/><circle cx="245.0" cy="547.7" r="1.05"/><circle cx="813.6" cy="513.9" r="1.05"/><circle cx="971.3" cy="575.8" r="1.05"/><circle cx="241.0" cy="547.7" r="1.05"/><circle cx="559.6" cy="507.9" r="1.05"/><circle cx="586.8" cy="499.9" r="1.05"/><circle cx="641.6" cy="515.1" r="1.05"/><circle cx="460.5" cy="611.1" r="1.05"/><circle cx="384.1" cy="578.3" r="1.05"/><circle cx="426.0" cy="542.1" r="1.05"/><circle cx="348.4" cy="546.8" r="1.05"/><circle cx="540.9" cy="568.9" r="1.05"/><circle cx="235.9" cy="575.5" r="1.05"/><circle cx="480.0" cy="599.9" r="1.05"/><circle cx="532.3" cy="550.1" r="1.05"/><circle cx="887.7" cy="607.6" r="1.05"/><circle cx="517.3" cy="574.2" r="1.05"/><circle cx="384.5" cy="537.0" r="1.05"/><circle cx="555.0" cy="600.0" r="1.05"/><circle cx="182.0" cy="536.6" r="1.05"/><circle cx="368.0" cy="484.1" r="1.05"/><circle cx="508.1" cy="546.1" r="1.05"/><circle cx="559.9" cy="580.8" r="1.05"/><circle cx="295.6" cy="589.2" r="1.05"/><circle cx="772.9" cy="587.6" r="1.05"/><circle cx="359.6" cy="548.2" r="1.05"/><circle cx="1074.4" cy="546.6" r="1.05"/><circle cx="993.4" cy="471.3" r="1.05"/><circle cx="412.9" cy="600.8" r="1.05"/><circle cx="163.8" cy="563.8" r="1.05"/><circle cx="552.1" cy="604.1" r="1.05"/><circle cx="860.4" cy="526.8" r="1.05"/><circle cx="505.0" cy="589.0" r="1.05"/><circle cx="877.8" cy="432.9" r="1.05"/><circle cx="459.5" cy="581.9" r="1.05"/><circle cx="519.2" cy="571.6" r="1.05"/><circle cx="438.9" cy="523.1" r="1.05"/><circle cx="202.0" cy="604.1" r="1.05"/><circle cx="293.1" cy="605.6" r="1.05"/><circle cx="865.9" cy="522.8" r="1.05"/><circle cx="484.8" cy="597.8" r="1.05"/><circle cx="629.8" cy="551.6" r="1.05"/><circle cx="271.5" cy="570.4" r="1.05"/><circle cx="171.3" cy="588.5" r="1.05"/><circle cx="251.2" cy="636.7" r="1.05"/><circle cx="158.2" cy="537.8" r="1.05"/><circle cx="312.4" cy="580.3" r="1.05"/><circle cx="534.8" cy="619.3" r="1.05"/><circle cx="427.7" cy="600.9" r="1.05"/><circle cx="302.5" cy="578.2" r="1.05"/><circle cx="761.0" cy="458.8" r="1.05"/><circle cx="345.6" cy="565.0" r="1.05"/><circle cx="919.9" cy="481.2" r="1.05"/><circle cx="252.5" cy="569.3" r="1.05"/><circle cx="295.2" cy="599.3" r="1.05"/><circle cx="291.9" cy="594.3" r="1.05"/><circle cx="278.2" cy="577.9" r="1.05"/><circle cx="242.4" cy="608.8" r="1.05"/><circle cx="1053.3" cy="471.2" r="1.05"/><circle cx="232.8" cy="559.0" r="1.05"/><circle cx="950.1" cy="613.4" r="1.05"/><circle cx="366.2" cy="581.8" r="1.05"/><circle cx="221.9" cy="586.8" r="1.05"/><circle cx="405.9" cy="570.6" r="1.05"/><circle cx="480.9" cy="483.4" r="1.05"/><circle cx="592.5" cy="604.2" r="1.05"/><circle cx="514.8" cy="540.1" r="1.05"/><circle cx="635.6" cy="572.3" r="1.05"/><circle cx="280.3" cy="567.4" r="1.05"/><circle cx="457.8" cy="575.1" r="1.05"/><circle cx="731.9" cy="519.2" r="1.05"/><circle cx="275.9" cy="599.7" r="1.05"/><circle cx="265.5" cy="597.6" r="1.05"/><circle cx="608.6" cy="567.3" r="1.05"/><circle cx="533.5" cy="540.4" r="1.05"/><circle cx="303.2" cy="607.8" r="1.05"/><circle cx="390.5" cy="584.2" r="1.05"/><circle cx="281.8" cy="594.0" r="1.05"/><circle cx="266.6" cy="570.5" r="1.05"/><circle cx="557.1" cy="529.0" r="1.05"/><circle cx="187.7" cy="612.4" r="1.05"/><circle cx="377.5" cy="601.0" r="1.05"/><circle cx="823.3" cy="549.4" r="1.05"/><circle cx="789.3" cy="581.6" r="1.05"/><circle cx="299.4" cy="525.6" r="1.05"/><circle cx="337.7" cy="507.7" r="1.05"/><circle cx="343.6" cy="551.1" r="1.05"/><circle cx="441.8" cy="554.0" r="1.05"/><circle cx="293.5" cy="604.3" r="1.05"/><circle cx="422.8" cy="599.3" r="1.05"/><circle cx="298.8" cy="565.6" r="1.05"/><circle cx="537.7" cy="494.4" r="1.05"/><circle cx="437.7" cy="583.6" r="1.05"/><circle cx="371.6" cy="566.9" r="1.05"/><circle cx="217.0" cy="522.8" r="1.05"/><circle cx="197.6" cy="517.8" r="1.05"/><circle cx="720.0" cy="587.8" r="1.05"/><circle cx="326.5" cy="569.5" r="1.05"/><circle cx="233.2" cy="557.4" r="1.05"/><circle cx="403.7" cy="614.3" r="1.05"/><circle cx="540.4" cy="583.0" r="1.05"/><circle cx="1046.9" cy="463.2" r="1.05"/><circle cx="317.1" cy="591.9" r="1.05"/><circle cx="1062.9" cy="424.6" r="1.05"/><circle cx="435.5" cy="585.1" r="1.05"/><circle cx="214.7" cy="616.8" r="1.05"/><circle cx="980.0" cy="572.1" r="1.05"/><circle cx="197.8" cy="623.9" r="1.05"/><circle cx="193.8" cy="610.5" r="1.05"/><circle cx="261.1" cy="563.5" r="1.05"/><circle cx="1009.6" cy="469.0" r="1.05"/><circle cx="202.5" cy="568.1" r="1.05"/><circle cx="277.4" cy="535.5" r="1.05"/><circle cx="415.5" cy="604.8" r="1.05"/><circle cx="931.6" cy="542.3" r="1.05"/><circle cx="967.4" cy="494.2" r="1.05"/><circle cx="430.8" cy="565.7" r="1.05"/><circle cx="705.4" cy="559.4" r="1.05"/><circle cx="925.2" cy="492.2" r="1.05"/><circle cx="601.2" cy="593.8" r="1.05"/><circle cx="787.1" cy="613.4" r="1.05"/><circle cx="387.9" cy="561.4" r="1.05"/><circle cx="174.6" cy="593.3" r="1.05"/><circle cx="463.5" cy="557.9" r="1.05"/><circle cx="853.7" cy="584.5" r="1.05"/><circle cx="273.8" cy="601.9" r="1.05"/><circle cx="236.6" cy="559.0" r="1.05"/><circle cx="463.2" cy="567.0" r="1.05"/><circle cx="365.5" cy="544.4" r="1.05"/><circle cx="144.7" cy="599.0" r="1.05"/><circle cx="771.1" cy="540.8" r="1.05"/><circle cx="678.2" cy="523.7" r="1.05"/><circle cx="1027.6" cy="399.6" r="1.05"/><circle cx="157.2" cy="584.7" r="1.05"/><circle cx="230.5" cy="574.1" r="1.05"/><circle cx="452.8" cy="577.0" r="1.05"/><circle cx="691.8" cy="561.7" r="1.05"/><circle cx="338.9" cy="580.7" r="1.05"/><circle cx="226.1" cy="569.4" r="1.05"/><circle cx="231.3" cy="610.7" r="1.05"/><circle cx="423.0" cy="577.2" r="1.05"/><circle cx="401.5" cy="602.8" r="1.05"/><circle cx="933.0" cy="512.4" r="1.05"/><circle cx="463.9" cy="582.2" r="1.05"/><circle cx="466.8" cy="568.8" r="1.05"/><circle cx="983.6" cy="520.4" r="1.05"/><circle cx="518.8" cy="577.1" r="1.05"/><circle cx="187.2" cy="612.9" r="1.05"/><circle cx="163.2" cy="539.3" r="1.05"/><circle cx="457.4" cy="610.1" r="1.05"/><circle cx="314.9" cy="621.0" r="1.05"/><circle cx="584.6" cy="555.1" r="1.05"/><circle cx="527.0" cy="550.2" r="1.05"/><circle cx="348.8" cy="583.1" r="1.05"/><circle cx="165.1" cy="592.8" r="1.05"/><circle cx="363.5" cy="607.1" r="1.05"/><circle cx="533.6" cy="616.6" r="1.05"/><circle cx="237.1" cy="490.9" r="1.05"/><circle cx="190.4" cy="616.7" r="1.05"/><circle cx="572.5" cy="600.1" r="1.05"/><circle cx="1081.2" cy="501.9" r="1.05"/><circle cx="913.3" cy="547.3" r="1.05"/><circle cx="742.3" cy="527.8" r="1.05"/><circle cx="165.8" cy="603.8" r="1.05"/><circle cx="689.0" cy="572.6" r="1.05"/><circle cx="341.7" cy="615.9" r="1.05"/><circle cx="918.4" cy="421.1" r="1.05"/><circle cx="387.1" cy="587.6" r="1.05"/><circle cx="418.2" cy="597.8" r="1.05"/><circle cx="650.5" cy="562.0" r="1.05"/><circle cx="189.3" cy="557.5" r="1.05"/><circle cx="446.8" cy="564.2" r="1.05"/><circle cx="260.8" cy="599.1" r="1.05"/><circle cx="579.4" cy="562.7" r="1.05"/><circle cx="334.7" cy="570.2" r="1.05"/><circle cx="430.9" cy="562.3" r="1.05"/><circle cx="854.8" cy="547.3" r="1.05"/><circle cx="516.7" cy="545.3" r="1.05"/><circle cx="797.8" cy="587.4" r="1.05"/><circle cx="731.6" cy="545.3" r="1.05"/><circle cx="324.0" cy="599.6" r="1.05"/><circle cx="706.8" cy="551.4" r="1.05"/><circle cx="957.8" cy="543.4" r="1.05"/><circle cx="732.9" cy="514.3" r="1.05"/><circle cx="682.4" cy="572.3" r="1.05"/><circle cx="265.5" cy="541.2" r="1.05"/><circle cx="501.1" cy="598.1" r="1.05"/><circle cx="198.2" cy="550.5" r="1.05"/><circle cx="495.4" cy="596.1" r="1.05"/><circle cx="207.6" cy="629.2" r="1.05"/><circle cx="836.0" cy="578.5" r="1.05"/><circle cx="470.0" cy="539.1" r="1.05"/><circle cx="442.2" cy="567.9" r="1.05"/><circle cx="699.3" cy="530.8" r="1.05"/><circle cx="537.2" cy="581.8" r="1.05"/><circle cx="342.7" cy="568.2" r="1.05"/><circle cx="586.2" cy="596.6" r="1.05"/><circle cx="491.8" cy="488.5" r="1.05"/><circle cx="423.5" cy="505.9" r="1.05"/><circle cx="793.8" cy="513.4" r="1.05"/><circle cx="582.7" cy="584.6" r="1.05"/><circle cx="476.3" cy="591.1" r="1.05"/><circle cx="1085.5" cy="406.5" r="1.05"/><circle cx="557.5" cy="552.9" r="1.05"/><circle cx="562.1" cy="594.2" r="1.05"/><circle cx="465.4" cy="543.7" r="1.05"/><circle cx="422.2" cy="541.2" r="1.05"/><circle cx="457.9" cy="551.5" r="1.05"/><circle cx="344.3" cy="564.3" r="1.05"/><circle cx="898.4" cy="499.1" r="1.05"/><circle cx="212.4" cy="580.6" r="1.05"/><circle cx="992.8" cy="513.9" r="1.05"/><circle cx="648.5" cy="579.6" r="1.05"/><circle cx="283.4" cy="535.0" r="1.05"/><circle cx="231.2" cy="612.8" r="1.05"/><circle cx="381.6" cy="571.2" r="1.05"/><circle cx="439.9" cy="538.5" r="1.05"/><circle cx="519.9" cy="578.8" r="1.05"/><circle cx="508.5" cy="503.7" r="1.05"/><circle cx="1004.5" cy="347.2" r="1.05"/><circle cx="632.3" cy="510.4" r="1.05"/><circle cx="325.3" cy="613.5" r="1.05"/><circle cx="529.1" cy="521.6" r="1.05"/><circle cx="245.2" cy="580.8" r="1.05"/><circle cx="291.4" cy="562.7" r="1.05"/><circle cx="576.2" cy="566.4" r="1.05"/><circle cx="279.5" cy="597.2" r="1.05"/><circle cx="518.3" cy="615.3" r="1.05"/><circle cx="418.1" cy="556.1" r="1.05"/><circle cx="288.6" cy="583.0" r="1.05"/><circle cx="146.5" cy="608.7" r="1.05"/><circle cx="372.9" cy="577.4" r="1.05"/><circle cx="458.5" cy="600.1" r="1.05"/><circle cx="424.6" cy="595.5" r="1.05"/><circle cx="551.0" cy="557.0" r="1.05"/><circle cx="1070.7" cy="381.3" r="1.05"/><circle cx="840.8" cy="606.2" r="1.05"/><circle cx="437.5" cy="574.3" r="1.05"/><circle cx="680.0" cy="522.6" r="1.05"/><circle cx="296.5" cy="606.7" r="1.05"/><circle cx="879.9" cy="536.3" r="1.05"/><circle cx="267.3" cy="569.2" r="1.05"/><circle cx="374.3" cy="540.5" r="1.05"/><circle cx="785.6" cy="586.1" r="1.05"/><circle cx="1045.8" cy="579.6" r="1.05"/><circle cx="142.0" cy="596.2" r="1.05"/><circle cx="990.0" cy="528.4" r="1.05"/><circle cx="194.3" cy="582.1" r="1.05"/><circle cx="715.5" cy="547.4" r="1.05"/><circle cx="412.9" cy="619.4" r="1.05"/><circle cx="312.4" cy="554.7" r="1.05"/><circle cx="536.6" cy="612.7" r="1.05"/><circle cx="683.4" cy="538.1" r="1.05"/><circle cx="405.4" cy="557.4" r="1.05"/><circle cx="320.7" cy="565.0" r="1.05"/><circle cx="240.9" cy="571.8" r="1.05"/><circle cx="736.3" cy="528.9" r="1.05"/><circle cx="788.0" cy="574.0" r="1.05"/><circle cx="462.2" cy="595.4" r="1.05"/><circle cx="493.3" cy="456.9" r="1.05"/><circle cx="547.5" cy="487.3" r="1.05"/><circle cx="202.2" cy="535.4" r="1.05"/><circle cx="356.3" cy="547.8" r="1.05"/><circle cx="551.4" cy="610.9" r="1.05"/><circle cx="400.6" cy="489.1" r="1.05"/><circle cx="227.0" cy="586.2" r="1.05"/><circle cx="151.6" cy="583.0" r="1.05"/><circle cx="484.2" cy="540.4" r="1.05"/><circle cx="465.3" cy="591.3" r="1.05"/><circle cx="323.9" cy="529.2" r="1.05"/><circle cx="170.7" cy="628.0" r="1.05"/><circle cx="654.1" cy="491.7" r="1.05"/><circle cx="680.6" cy="530.0" r="1.05"/><circle cx="168.3" cy="601.3" r="1.05"/><circle cx="313.4" cy="550.1" r="1.05"/><circle cx="249.8" cy="541.1" r="1.05"/><circle cx="446.2" cy="542.5" r="1.05"/><circle cx="548.9" cy="525.8" r="1.05"/><circle cx="574.9" cy="574.0" r="1.05"/><circle cx="726.7" cy="487.3" r="1.05"/><circle cx="523.5" cy="522.6" r="1.05"/><circle cx="607.4" cy="497.3" r="1.05"/><circle cx="493.6" cy="544.8" r="1.05"/><circle cx="798.6" cy="603.6" r="1.05"/><circle cx="514.7" cy="549.1" r="1.05"/><circle cx="545.5" cy="605.4" r="1.05"/><circle cx="388.9" cy="596.7" r="1.05"/><circle cx="931.5" cy="519.7" r="1.05"/><circle cx="976.7" cy="488.0" r="1.05"/><circle cx="608.6" cy="574.6" r="1.05"/><circle cx="605.9" cy="551.2" r="1.05"/><circle cx="443.9" cy="556.9" r="1.05"/><circle cx="311.6" cy="575.0" r="1.05"/><circle cx="382.9" cy="575.7" r="1.05"/><circle cx="478.5" cy="561.4" r="1.05"/><circle cx="969.8" cy="447.0" r="1.05"/><circle cx="291.3" cy="602.7" r="1.05"/><circle cx="354.3" cy="613.5" r="1.05"/><circle cx="969.1" cy="409.8" r="1.05"/><circle cx="467.3" cy="570.9" r="1.05"/><circle cx="745.7" cy="624.5" r="1.05"/><circle cx="672.5" cy="502.2" r="1.05"/><circle cx="408.0" cy="534.5" r="1.05"/><circle cx="222.9" cy="620.5" r="1.05"/><circle cx="194.8" cy="609.5" r="1.05"/><circle cx="784.8" cy="568.6" r="1.05"/><circle cx="942.2" cy="579.5" r="1.05"/><circle cx="347.9" cy="596.4" r="1.05"/><circle cx="663.2" cy="564.2" r="1.05"/><circle cx="496.7" cy="534.5" r="1.05"/><circle cx="626.0" cy="630.3" r="1.05"/><circle cx="441.4" cy="574.2" r="1.05"/><circle cx="718.8" cy="494.1" r="1.05"/><circle cx="1104.7" cy="613.7" r="1.05"/><circle cx="491.9" cy="563.2" r="1.05"/><circle cx="780.1" cy="549.0" r="1.05"/><circle cx="323.1" cy="595.2" r="1.05"/><circle cx="521.2" cy="542.0" r="1.05"/><circle cx="948.4" cy="386.7" r="1.05"/><circle cx="341.4" cy="541.1" r="1.05"/><circle cx="216.8" cy="505.0" r="1.05"/><circle cx="361.7" cy="597.5" r="1.05"/><circle cx="391.6" cy="623.8" r="1.05"/><circle cx="733.6" cy="573.6" r="1.05"/><circle cx="277.8" cy="577.2" r="1.05"/><circle cx="338.6" cy="537.7" r="1.05"/><circle cx="753.9" cy="519.4" r="1.05"/><circle cx="438.9" cy="592.5" r="1.05"/><circle cx="1123.4" cy="283.8" r="1.05"/><circle cx="163.6" cy="571.4" r="1.05"/><circle cx="238.4" cy="576.0" r="1.05"/><circle cx="298.6" cy="586.0" r="1.05"/><circle cx="798.2" cy="517.2" r="1.05"/><circle cx="529.4" cy="547.9" r="1.05"/><circle cx="853.3" cy="528.3" r="1.05"/><circle cx="385.3" cy="628.9" r="1.05"/><circle cx="806.5" cy="578.3" r="1.05"/><circle cx="173.8" cy="571.2" r="1.05"/><circle cx="508.3" cy="496.4" r="1.05"/><circle cx="933.7" cy="405.6" r="1.05"/><circle cx="338.8" cy="539.1" r="1.05"/><circle cx="246.4" cy="516.6" r="1.05"/><circle cx="376.7" cy="553.8" r="1.05"/><circle cx="1042.4" cy="329.4" r="1.05"/><circle cx="1020.2" cy="383.8" r="1.05"/><circle cx="609.5" cy="553.3" r="1.05"/><circle cx="1046.8" cy="545.0" r="1.05"/><circle cx="351.9" cy="615.1" r="1.05"/><circle cx="657.5" cy="537.8" r="1.05"/><circle cx="526.7" cy="604.2" r="1.05"/><circle cx="306.2" cy="581.9" r="1.05"/><circle cx="249.0" cy="557.7" r="1.05"/><circle cx="577.7" cy="588.5" r="1.05"/><circle cx="468.5" cy="534.9" r="1.05"/><circle cx="458.6" cy="570.2" r="1.05"/><circle cx="405.3" cy="598.6" r="1.05"/><circle cx="296.9" cy="560.3" r="1.05"/><circle cx="974.3" cy="433.4" r="1.05"/><circle cx="549.0" cy="582.9" r="1.05"/><circle cx="234.3" cy="565.4" r="1.05"/><circle cx="480.4" cy="602.3" r="1.05"/><circle cx="368.4" cy="572.3" r="1.05"/><circle cx="428.7" cy="562.9" r="1.05"/><circle cx="778.4" cy="583.9" r="1.05"/><circle cx="1039.0" cy="471.4" r="1.05"/><circle cx="502.6" cy="499.7" r="1.05"/><circle cx="268.4" cy="595.0" r="1.05"/><circle cx="721.5" cy="591.8" r="1.05"/><circle cx="157.6" cy="612.1" r="1.05"/><circle cx="572.8" cy="589.7" r="1.05"/><circle cx="460.8" cy="601.9" r="1.05"/><circle cx="387.6" cy="614.6" r="1.05"/><circle cx="177.1" cy="578.3" r="1.05"/><circle cx="347.2" cy="565.6" r="1.05"/><circle cx="199.0" cy="602.8" r="1.05"/><circle cx="749.7" cy="540.1" r="1.05"/><circle cx="375.6" cy="539.5" r="1.05"/><circle cx="899.1" cy="487.4" r="1.05"/><circle cx="705.6" cy="540.4" r="1.05"/><circle cx="743.4" cy="504.3" r="1.05"/><circle cx="1106.6" cy="514.8" r="1.05"/><circle cx="1078.2" cy="362.6" r="1.05"/><circle cx="581.7" cy="453.2" r="1.05"/><circle cx="493.3" cy="588.7" r="1.05"/><circle cx="475.7" cy="617.6" r="1.05"/><circle cx="553.8" cy="588.2" r="1.05"/><circle cx="463.9" cy="598.5" r="1.05"/><circle cx="328.7" cy="569.1" r="1.05"/><circle cx="453.4" cy="516.9" r="1.05"/><circle cx="852.2" cy="482.1" r="1.05"/><circle cx="269.0" cy="509.0" r="1.05"/><circle cx="179.1" cy="566.2" r="1.05"/><circle cx="1070.8" cy="458.5" r="1.05"/><circle cx="688.7" cy="614.0" r="1.05"/><circle cx="563.1" cy="546.5" r="1.05"/><circle cx="386.9" cy="590.9" r="1.05"/><circle cx="395.0" cy="588.1" r="1.05"/><circle cx="406.7" cy="580.4" r="1.05"/><circle cx="153.8" cy="520.2" r="1.05"/><circle cx="623.4" cy="513.9" r="1.05"/><circle cx="323.9" cy="574.8" r="1.05"/><circle cx="861.6" cy="588.0" r="1.05"/><circle cx="1026.5" cy="511.6" r="1.05"/><circle cx="534.0" cy="574.2" r="1.05"/><circle cx="359.4" cy="541.5" r="1.05"/><circle cx="632.9" cy="530.4" r="1.05"/><circle cx="265.2" cy="560.8" r="1.05"/><circle cx="742.6" cy="581.6" r="1.05"/><circle cx="718.4" cy="489.5" r="1.05"/><circle cx="185.4" cy="610.1" r="1.05"/><circle cx="482.7" cy="598.4" r="1.05"/><circle cx="883.1" cy="510.7" r="1.05"/><circle cx="474.7" cy="527.1" r="1.05"/><circle cx="483.2" cy="559.1" r="1.05"/><circle cx="416.3" cy="568.8" r="1.05"/><circle cx="879.7" cy="379.2" r="1.05"/><circle cx="711.1" cy="589.4" r="1.05"/><circle cx="518.7" cy="620.4" r="1.05"/><circle cx="312.1" cy="612.0" r="1.05"/><circle cx="551.2" cy="529.4" r="1.05"/><circle cx="364.5" cy="539.6" r="1.05"/><circle cx="253.6" cy="589.0" r="1.05"/><circle cx="220.4" cy="611.5" r="1.05"/><circle cx="893.4" cy="563.9" r="1.05"/><circle cx="517.8" cy="553.6" r="1.05"/><circle cx="465.8" cy="531.3" r="1.05"/><circle cx="863.5" cy="557.4" r="1.05"/><circle cx="873.0" cy="565.9" r="1.05"/><circle cx="634.6" cy="591.7" r="1.05"/><circle cx="169.1" cy="596.6" r="1.05"/><circle cx="664.4" cy="524.4" r="1.05"/><circle cx="1061.8" cy="460.3" r="1.05"/><circle cx="391.5" cy="564.1" r="1.05"/><circle cx="234.7" cy="578.4" r="1.05"/><circle cx="918.0" cy="499.9" r="1.05"/><circle cx="396.8" cy="608.5" r="1.05"/><circle cx="508.1" cy="600.9" r="1.05"/><circle cx="206.8" cy="572.1" r="1.05"/><circle cx="748.3" cy="525.4" r="1.05"/><circle cx="434.1" cy="530.4" r="1.05"/><circle cx="445.3" cy="576.1" r="1.05"/><circle cx="374.5" cy="599.2" r="1.05"/><circle cx="933.5" cy="523.2" r="1.05"/><circle cx="805.3" cy="549.1" r="1.05"/><circle cx="374.7" cy="558.4" r="1.05"/><circle cx="398.5" cy="580.5" r="1.05"/><circle cx="687.8" cy="528.6" r="1.05"/><circle cx="829.6" cy="495.5" r="1.05"/><circle cx="243.7" cy="563.8" r="1.05"/><circle cx="141.2" cy="564.6" r="1.05"/><circle cx="539.8" cy="596.9" r="1.05"/><circle cx="837.3" cy="440.1" r="1.05"/><circle cx="382.0" cy="542.7" r="1.05"/><circle cx="448.1" cy="493.8" r="1.05"/><circle cx="497.0" cy="550.1" r="1.05"/><circle cx="920.6" cy="538.6" r="1.05"/><circle cx="542.9" cy="540.1" r="1.05"/><circle cx="317.6" cy="575.8" r="1.05"/><circle cx="298.4" cy="579.0" r="1.05"/><circle cx="310.9" cy="508.4" r="1.05"/><circle cx="568.2" cy="589.8" r="1.05"/><circle cx="662.4" cy="486.2" r="1.05"/><circle cx="688.7" cy="570.6" r="1.05"/><circle cx="536.5" cy="611.6" r="1.05"/><circle cx="321.3" cy="547.5" r="1.05"/><circle cx="1014.7" cy="465.0" r="1.05"/><circle cx="337.0" cy="565.4" r="1.05"/><circle cx="369.2" cy="562.1" r="1.05"/><circle cx="735.0" cy="466.9" r="1.05"/><circle cx="199.3" cy="564.9" r="1.05"/><circle cx="487.6" cy="572.5" r="1.05"/><circle cx="501.7" cy="565.6" r="1.05"/><circle cx="1013.0" cy="424.9" r="1.05"/><circle cx="209.5" cy="589.2" r="1.05"/><circle cx="539.7" cy="542.1" r="1.05"/><circle cx="1049.0" cy="588.6" r="1.05"/><circle cx="397.2" cy="571.6" r="1.05"/><circle cx="663.4" cy="547.1" r="1.05"/><circle cx="1059.1" cy="373.4" r="1.05"/><circle cx="703.0" cy="584.3" r="1.05"/><circle cx="275.7" cy="578.9" r="1.05"/><circle cx="322.7" cy="555.5" r="1.05"/><circle cx="152.4" cy="570.5" r="1.05"/><circle cx="898.3" cy="449.9" r="1.05"/><circle cx="454.4" cy="581.7" r="1.05"/><circle cx="208.3" cy="581.0" r="1.05"/><circle cx="779.4" cy="540.4" r="1.05"/><circle cx="478.2" cy="557.5" r="1.05"/><circle cx="280.5" cy="604.1" r="1.05"/><circle cx="637.9" cy="586.8" r="1.05"/><circle cx="496.9" cy="574.8" r="1.05"/><circle cx="612.4" cy="582.7" r="1.05"/><circle cx="406.1" cy="527.9" r="1.05"/><circle cx="450.5" cy="581.8" r="1.05"/><circle cx="543.8" cy="549.2" r="1.05"/><circle cx="361.6" cy="591.1" r="1.05"/><circle cx="607.7" cy="548.1" r="1.05"/><circle cx="572.0" cy="526.7" r="1.05"/><circle cx="253.5" cy="575.3" r="1.05"/><circle cx="542.5" cy="542.8" r="1.05"/><circle cx="142.4" cy="584.1" r="1.05"/><circle cx="955.7" cy="542.4" r="1.05"/><circle cx="753.6" cy="541.9" r="1.05"/><circle cx="551.8" cy="465.7" r="1.05"/><circle cx="955.4" cy="520.7" r="1.05"/><circle cx="264.1" cy="578.0" r="1.05"/><circle cx="717.3" cy="599.5" r="1.05"/><circle cx="384.7" cy="590.0" r="1.05"/><circle cx="500.0" cy="553.3" r="1.05"/><circle cx="897.0" cy="530.7" r="1.05"/><circle cx="293.5" cy="534.4" r="1.05"/><circle cx="354.0" cy="537.8" r="1.05"/><circle cx="406.1" cy="584.6" r="1.05"/><circle cx="604.8" cy="562.6" r="1.05"/><circle cx="480.7" cy="541.5" r="1.05"/><circle cx="618.3" cy="541.7" r="1.05"/><circle cx="427.9" cy="580.0" r="1.05"/><circle cx="1090.2" cy="581.0" r="1.05"/><circle cx="217.3" cy="530.6" r="1.05"/><circle cx="490.5" cy="566.5" r="1.05"/><circle cx="188.5" cy="574.5" r="1.05"/><circle cx="482.0" cy="589.1" r="1.05"/><circle cx="565.5" cy="486.0" r="1.05"/><circle cx="350.7" cy="577.6" r="1.05"/><circle cx="335.1" cy="569.5" r="1.05"/><circle cx="193.5" cy="619.7" r="1.05"/><circle cx="711.3" cy="566.3" r="1.05"/><circle cx="567.2" cy="564.8" r="1.05"/><circle cx="398.4" cy="559.4" r="1.05"/><circle cx="199.0" cy="558.6" r="1.05"/><circle cx="928.0" cy="518.0" r="1.05"/><circle cx="478.4" cy="526.0" r="1.05"/><circle cx="824.8" cy="535.1" r="1.05"/><circle cx="722.7" cy="553.8" r="1.05"/><circle cx="781.2" cy="537.1" r="1.05"/><circle cx="338.9" cy="613.7" r="1.05"/><circle cx="635.2" cy="620.9" r="1.05"/><circle cx="480.1" cy="613.9" r="1.05"/><circle cx="562.8" cy="584.4" r="1.05"/><circle cx="538.8" cy="543.0" r="1.05"/><circle cx="387.1" cy="592.6" r="1.05"/><circle cx="648.3" cy="499.6" r="1.05"/><circle cx="205.2" cy="619.8" r="1.05"/><circle cx="590.8" cy="557.8" r="1.05"/><circle cx="413.4" cy="552.0" r="1.05"/><circle cx="443.1" cy="462.3" r="1.05"/><circle cx="518.8" cy="498.9" r="1.05"/><circle cx="264.4" cy="596.5" r="1.05"/><circle cx="188.9" cy="554.9" r="1.05"/><circle cx="436.4" cy="563.5" r="1.05"/><circle cx="528.3" cy="602.2" r="1.05"/><circle cx="557.2" cy="582.7" r="1.05"/><circle cx="850.4" cy="448.8" r="1.05"/><circle cx="203.6" cy="588.3" r="1.05"/><circle cx="295.0" cy="601.2" r="1.05"/><circle cx="319.4" cy="593.8" r="1.05"/><circle cx="931.2" cy="576.3" r="1.05"/><circle cx="341.6" cy="613.0" r="1.05"/><circle cx="525.3" cy="555.2" r="1.05"/><circle cx="481.5" cy="554.9" r="1.05"/><circle cx="425.3" cy="534.3" r="1.05"/><circle cx="534.6" cy="610.2" r="1.05"/><circle cx="822.8" cy="583.1" r="1.05"/><circle cx="351.0" cy="564.7" r="1.05"/><circle cx="327.4" cy="574.6" r="1.05"/><circle cx="755.4" cy="553.8" r="1.05"/><circle cx="363.1" cy="605.9" r="1.05"/><circle cx="467.4" cy="582.4" r="1.05"/><circle cx="374.1" cy="610.3" r="1.05"/><circle cx="435.3" cy="509.6" r="1.05"/><circle cx="836.4" cy="486.9" r="1.05"/><circle cx="687.2" cy="590.5" r="1.05"/><circle cx="401.8" cy="528.7" r="1.05"/><circle cx="259.3" cy="604.1" r="1.05"/><circle cx="984.3" cy="451.6" r="1.05"/><circle cx="243.6" cy="577.5" r="1.05"/><circle cx="609.7" cy="577.9" r="1.05"/><circle cx="804.3" cy="444.8" r="1.05"/><circle cx="392.4" cy="615.0" r="1.05"/><circle cx="549.2" cy="579.7" r="1.05"/><circle cx="989.6" cy="521.8" r="1.05"/><circle cx="743.6" cy="610.1" r="1.05"/><circle cx="395.2" cy="612.5" r="1.05"/><circle cx="1026.5" cy="480.6" r="1.05"/><circle cx="384.5" cy="569.9" r="1.05"/><circle cx="195.5" cy="604.6" r="1.05"/><circle cx="510.8" cy="551.0" r="1.05"/><circle cx="698.7" cy="533.6" r="1.05"/><circle cx="286.9" cy="557.3" r="1.05"/><circle cx="149.7" cy="589.6" r="1.05"/><circle cx="914.4" cy="522.9" r="1.05"/><circle cx="780.7" cy="509.2" r="1.05"/><circle cx="713.9" cy="575.0" r="1.05"/><circle cx="774.7" cy="578.8" r="1.05"/><circle cx="338.4" cy="606.9" r="1.05"/><circle cx="721.8" cy="526.8" r="1.05"/><circle cx="293.6" cy="537.3" r="1.05"/><circle cx="217.5" cy="618.7" r="1.05"/><circle cx="252.1" cy="587.9" r="1.05"/><circle cx="596.4" cy="533.1" r="1.05"/><circle cx="914.9" cy="377.7" r="1.05"/><circle cx="907.2" cy="496.4" r="1.05"/><circle cx="455.5" cy="594.6" r="1.05"/><circle cx="223.3" cy="559.2" r="1.05"/><circle cx="364.3" cy="563.0" r="1.05"/><circle cx="272.5" cy="556.2" r="1.05"/><circle cx="189.5" cy="610.6" r="1.05"/><circle cx="344.6" cy="547.0" r="1.05"/><circle cx="215.2" cy="526.9" r="1.05"/><circle cx="165.9" cy="548.0" r="1.05"/><circle cx="167.8" cy="574.0" r="1.05"/><circle cx="967.5" cy="516.5" r="1.05"/><circle cx="468.4" cy="584.4" r="1.05"/><circle cx="349.4" cy="604.8" r="1.05"/><circle cx="810.4" cy="553.2" r="1.05"/><circle cx="845.5" cy="577.1" r="1.05"/><circle cx="195.6" cy="580.9" r="1.05"/><circle cx="237.7" cy="583.1" r="1.05"/><circle cx="764.4" cy="563.4" r="1.05"/><circle cx="677.4" cy="566.6" r="1.05"/><circle cx="918.3" cy="500.3" r="1.05"/><circle cx="769.8" cy="586.6" r="1.05"/><circle cx="641.2" cy="525.5" r="1.05"/><circle cx="297.1" cy="570.7" r="1.05"/><circle cx="238.4" cy="560.1" r="1.05"/><circle cx="351.7" cy="582.9" r="1.05"/><circle cx="187.0" cy="583.9" r="1.05"/><circle cx="367.7" cy="568.6" r="1.05"/><circle cx="295.7" cy="572.6" r="1.05"/><circle cx="956.3" cy="520.9" r="1.05"/><circle cx="276.4" cy="584.8" r="1.05"/><circle cx="863.3" cy="546.0" r="1.05"/><circle cx="873.7" cy="536.1" r="1.05"/><circle cx="759.2" cy="570.1" r="1.05"/><circle cx="772.5" cy="570.5" r="1.05"/><circle cx="517.7" cy="594.0" r="1.05"/><circle cx="685.6" cy="469.5" r="1.05"/><circle cx="260.9" cy="592.9" r="1.05"/><circle cx="189.2" cy="581.3" r="1.05"/><circle cx="452.7" cy="595.7" r="1.05"/><circle cx="926.6" cy="491.9" r="1.05"/><circle cx="487.8" cy="513.6" r="1.05"/><circle cx="453.9" cy="589.3" r="1.05"/><circle cx="617.8" cy="550.4" r="1.05"/><circle cx="741.4" cy="544.1" r="1.05"/><circle cx="368.2" cy="542.0" r="1.05"/><circle cx="406.8" cy="573.5" r="1.05"/><circle cx="349.2" cy="576.6" r="1.05"/><circle cx="847.5" cy="533.2" r="1.05"/><circle cx="481.3" cy="615.4" r="1.05"/><circle cx="157.0" cy="548.0" r="1.05"/><circle cx="633.9" cy="461.1" r="1.05"/><circle cx="425.8" cy="592.4" r="1.05"/><circle cx="308.4" cy="546.2" r="1.05"/><circle cx="888.9" cy="509.6" r="1.05"/><circle cx="323.7" cy="519.0" r="1.05"/><circle cx="1067.8" cy="503.6" r="1.05"/><circle cx="616.5" cy="536.2" r="1.05"/><circle cx="879.6" cy="397.5" r="1.05"/><circle cx="752.5" cy="505.8" r="1.05"/><circle cx="167.5" cy="571.8" r="1.05"/><circle cx="1044.6" cy="469.1" r="1.05"/><circle cx="475.4" cy="583.7" r="1.05"/><circle cx="207.9" cy="572.6" r="1.05"/><circle cx="314.3" cy="596.5" r="1.05"/><circle cx="319.1" cy="506.9" r="1.05"/><circle cx="419.1" cy="547.5" r="1.05"/><circle cx="742.7" cy="543.4" r="1.05"/><circle cx="944.7" cy="574.1" r="1.05"/><circle cx="442.3" cy="522.7" r="1.05"/><circle cx="385.1" cy="514.5" r="1.05"/><circle cx="316.4" cy="557.5" r="1.05"/><circle cx="681.6" cy="497.3" r="1.05"/><circle cx="347.5" cy="538.8" r="1.05"/><circle cx="683.7" cy="545.4" r="1.05"/><circle cx="625.7" cy="561.3" r="1.05"/><circle cx="531.0" cy="555.0" r="1.05"/><circle cx="419.7" cy="514.2" r="1.05"/><circle cx="339.6" cy="585.6" r="1.05"/><circle cx="472.5" cy="605.0" r="1.05"/><circle cx="437.8" cy="561.2" r="1.05"/><circle cx="511.0" cy="556.7" r="1.05"/><circle cx="868.3" cy="513.6" r="1.05"/><circle cx="488.1" cy="556.0" r="1.05"/><circle cx="178.8" cy="601.4" r="1.05"/><circle cx="450.9" cy="589.4" r="1.05"/><circle cx="507.9" cy="574.4" r="1.05"/><circle cx="929.1" cy="498.4" r="1.05"/><circle cx="592.7" cy="533.0" r="1.05"/><circle cx="493.4" cy="533.3" r="1.05"/><circle cx="486.1" cy="556.1" r="1.05"/><circle cx="220.4" cy="578.9" r="1.05"/><circle cx="215.7" cy="597.5" r="1.05"/><circle cx="848.4" cy="540.5" r="1.05"/><circle cx="461.0" cy="605.7" r="1.05"/><circle cx="331.6" cy="590.2" r="1.05"/><circle cx="701.0" cy="522.7" r="1.05"/><circle cx="440.5" cy="546.4" r="1.05"/><circle cx="336.5" cy="596.9" r="1.05"/><circle cx="617.1" cy="495.5" r="1.05"/><circle cx="304.1" cy="621.4" r="1.05"/><circle cx="642.7" cy="527.5" r="1.05"/><circle cx="295.1" cy="574.1" r="1.05"/><circle cx="548.1" cy="566.4" r="1.05"/><circle cx="666.3" cy="530.7" r="1.05"/><circle cx="453.6" cy="579.4" r="1.05"/><circle cx="984.9" cy="515.3" r="1.05"/><circle cx="449.1" cy="577.6" r="1.05"/><circle cx="536.6" cy="550.2" r="1.05"/><circle cx="955.6" cy="591.5" r="1.05"/><circle cx="206.8" cy="580.5" r="1.05"/><circle cx="376.7" cy="604.9" r="1.05"/><circle cx="255.1" cy="529.7" r="1.05"/><circle cx="620.6" cy="572.7" r="1.05"/><circle cx="293.8" cy="578.4" r="1.05"/><circle cx="530.9" cy="609.9" r="1.05"/><circle cx="825.8" cy="595.3" r="1.05"/><circle cx="532.8" cy="603.4" r="1.05"/><circle cx="546.7" cy="585.3" r="1.05"/><circle cx="336.6" cy="621.0" r="1.05"/><circle cx="406.2" cy="603.6" r="1.05"/><circle cx="314.9" cy="585.8" r="1.05"/><circle cx="450.0" cy="527.4" r="1.05"/><circle cx="496.2" cy="520.2" r="1.05"/><circle cx="364.9" cy="601.3" r="1.05"/><circle cx="462.9" cy="585.1" r="1.05"/><circle cx="156.6" cy="560.4" r="1.05"/><circle cx="232.4" cy="540.2" r="1.05"/><circle cx="537.3" cy="589.4" r="1.05"/><circle cx="428.0" cy="578.6" r="1.05"/><circle cx="482.8" cy="568.3" r="1.05"/><circle cx="580.9" cy="555.9" r="1.05"/><circle cx="503.2" cy="574.7" r="1.05"/><circle cx="458.5" cy="487.3" r="1.05"/><circle cx="155.2" cy="585.2" r="1.05"/><circle cx="791.7" cy="453.7" r="1.05"/><circle cx="525.4" cy="544.2" r="1.05"/><circle cx="323.2" cy="519.7" r="1.05"/><circle cx="974.5" cy="590.6" r="1.05"/><circle cx="672.0" cy="519.9" r="1.05"/><circle cx="723.2" cy="611.0" r="1.05"/><circle cx="475.6" cy="508.8" r="1.05"/><circle cx="379.0" cy="580.9" r="1.05"/><circle cx="554.1" cy="617.3" r="1.05"/><circle cx="232.5" cy="599.9" r="1.05"/><circle cx="923.7" cy="525.1" r="1.05"/><circle cx="745.0" cy="448.0" r="1.05"/><circle cx="453.4" cy="566.0" r="1.05"/><circle cx="538.8" cy="545.4" r="1.05"/><circle cx="366.7" cy="591.0" r="1.05"/><circle cx="1121.8" cy="492.9" r="1.05"/><circle cx="450.3" cy="607.3" r="1.05"/><circle cx="546.1" cy="577.6" r="1.05"/><circle cx="487.4" cy="577.4" r="1.05"/><circle cx="386.3" cy="576.3" r="1.05"/><circle cx="547.0" cy="590.5" r="1.05"/><circle cx="193.4" cy="586.1" r="1.05"/><circle cx="735.0" cy="565.3" r="1.05"/><circle cx="210.9" cy="574.5" r="1.05"/><circle cx="458.3" cy="589.9" r="1.05"/><circle cx="1042.3" cy="524.6" r="1.05"/><circle cx="542.4" cy="593.8" r="1.05"/><circle cx="876.3" cy="558.2" r="1.05"/><circle cx="258.9" cy="587.7" r="1.05"/><circle cx="172.9" cy="604.2" r="1.05"/><circle cx="801.7" cy="457.0" r="1.05"/><circle cx="1000.4" cy="400.3" r="1.05"/><circle cx="592.6" cy="551.2" r="1.05"/><circle cx="690.3" cy="518.9" r="1.05"/><circle cx="690.6" cy="596.2" r="1.05"/><circle cx="674.9" cy="579.9" r="1.05"/><circle cx="509.6" cy="584.9" r="1.05"/><circle cx="396.8" cy="569.4" r="1.05"/><circle cx="448.6" cy="545.4" r="1.05"/><circle cx="775.0" cy="494.3" r="1.05"/><circle cx="689.2" cy="602.4" r="1.05"/><circle cx="142.4" cy="584.8" r="1.05"/><circle cx="407.2" cy="535.1" r="1.05"/><circle cx="433.9" cy="582.1" r="1.05"/><circle cx="407.6" cy="560.9" r="1.05"/><circle cx="241.1" cy="615.1" r="1.05"/><circle cx="342.6" cy="577.5" r="1.05"/><circle cx="543.6" cy="577.1" r="1.05"/><circle cx="302.5" cy="620.1" r="1.05"/><circle cx="251.1" cy="557.9" r="1.05"/><circle cx="223.5" cy="538.0" r="1.05"/><circle cx="857.1" cy="472.9" r="1.05"/><circle cx="555.2" cy="578.8" r="1.05"/><circle cx="455.1" cy="577.7" r="1.05"/><circle cx="428.6" cy="592.2" r="1.05"/><circle cx="674.6" cy="529.1" r="1.05"/><circle cx="290.8" cy="566.5" r="1.05"/><circle cx="468.3" cy="512.8" r="1.05"/><circle cx="467.0" cy="572.9" r="1.05"/><circle cx="341.4" cy="547.4" r="1.05"/><circle cx="314.0" cy="584.9" r="1.05"/><circle cx="697.3" cy="579.8" r="1.05"/><circle cx="787.3" cy="540.7" r="1.05"/><circle cx="813.0" cy="573.5" r="1.05"/><circle cx="244.0" cy="600.0" r="1.05"/><circle cx="459.2" cy="546.3" r="1.05"/><circle cx="187.9" cy="562.7" r="1.05"/><circle cx="209.3" cy="599.1" r="1.05"/><circle cx="302.8" cy="600.2" r="1.05"/><circle cx="547.4" cy="574.8" r="1.05"/><circle cx="154.2" cy="599.4" r="1.05"/><circle cx="956.8" cy="449.7" r="1.05"/><circle cx="201.6" cy="590.1" r="1.05"/><circle cx="980.3" cy="573.3" r="1.05"/><circle cx="557.7" cy="593.1" r="1.05"/><circle cx="198.6" cy="571.6" r="1.05"/><circle cx="412.6" cy="559.5" r="1.05"/><circle cx="769.9" cy="595.7" r="1.05"/><circle cx="577.7" cy="594.1" r="1.05"/><circle cx="521.9" cy="565.3" r="1.05"/><circle cx="539.5" cy="575.2" r="1.05"/><circle cx="964.7" cy="495.1" r="1.05"/><circle cx="581.7" cy="461.0" r="1.05"/><circle cx="521.5" cy="599.4" r="1.05"/><circle cx="1051.4" cy="548.8" r="1.05"/><circle cx="1093.7" cy="477.5" r="1.05"/><circle cx="288.4" cy="580.1" r="1.05"/><circle cx="538.6" cy="562.6" r="1.05"/><circle cx="1123.9" cy="375.1" r="1.05"/><circle cx="696.8" cy="556.1" r="1.05"/><circle cx="251.2" cy="549.3" r="1.05"/><circle cx="550.1" cy="562.5" r="1.05"/><circle cx="720.5" cy="534.3" r="1.05"/><circle cx="788.7" cy="604.3" r="1.05"/><circle cx="168.2" cy="601.8" r="1.05"/><circle cx="161.6" cy="592.2" r="1.05"/><circle cx="308.6" cy="560.6" r="1.05"/><circle cx="417.7" cy="592.6" r="1.05"/><circle cx="399.4" cy="600.3" r="1.05"/><circle cx="711.1" cy="580.8" r="1.05"/><circle cx="436.3" cy="502.3" r="1.05"/><circle cx="536.9" cy="608.7" r="1.05"/><circle cx="746.4" cy="537.0" r="1.05"/><circle cx="567.3" cy="565.7" r="1.05"/><circle cx="873.5" cy="410.9" r="1.05"/><circle cx="490.7" cy="546.5" r="1.05"/><circle cx="505.0" cy="580.9" r="1.05"/><circle cx="939.0" cy="442.2" r="1.05"/><circle cx="314.6" cy="534.9" r="1.05"/><circle cx="325.6" cy="587.6" r="1.05"/><circle cx="322.3" cy="614.2" r="1.05"/><circle cx="402.3" cy="604.6" r="1.05"/><circle cx="390.0" cy="574.9" r="1.05"/><circle cx="1058.4" cy="547.5" r="1.05"/><circle cx="159.6" cy="579.5" r="1.05"/><circle cx="418.0" cy="532.6" r="1.05"/><circle cx="346.6" cy="571.9" r="1.05"/><circle cx="618.1" cy="434.5" r="1.05"/><circle cx="564.4" cy="570.9" r="1.05"/><circle cx="169.7" cy="607.5" r="1.05"/><circle cx="1033.9" cy="468.9" r="1.05"/><circle cx="300.2" cy="547.8" r="1.05"/><circle cx="427.4" cy="607.8" r="1.05"/><circle cx="549.6" cy="550.2" r="1.05"/><circle cx="407.3" cy="507.1" r="1.05"/><circle cx="433.8" cy="567.0" r="1.05"/><circle cx="534.9" cy="608.1" r="1.05"/><circle cx="776.0" cy="510.6" r="1.05"/><circle cx="458.1" cy="612.9" r="1.05"/><circle cx="712.3" cy="607.9" r="1.05"/><circle cx="459.5" cy="609.0" r="1.05"/><circle cx="659.2" cy="506.3" r="1.05"/><circle cx="724.9" cy="535.5" r="1.05"/><circle cx="725.1" cy="467.4" r="1.05"/><circle cx="427.6" cy="596.6" r="1.05"/><circle cx="538.9" cy="612.4" r="1.05"/><circle cx="404.3" cy="545.2" r="1.05"/><circle cx="898.9" cy="555.1" r="1.05"/><circle cx="1110.4" cy="567.4" r="1.05"/><circle cx="354.2" cy="552.6" r="1.05"/><circle cx="257.8" cy="548.3" r="1.05"/><circle cx="281.5" cy="597.7" r="1.05"/><circle cx="514.1" cy="565.0" r="1.05"/><circle cx="455.7" cy="554.2" r="1.05"/><circle cx="276.7" cy="601.2" r="1.05"/><circle cx="491.1" cy="594.1" r="1.05"/><circle cx="166.6" cy="575.4" r="1.05"/><circle cx="463.9" cy="500.7" r="1.05"/><circle cx="776.0" cy="581.5" r="1.05"/><circle cx="945.7" cy="440.8" r="1.05"/><circle cx="606.9" cy="538.4" r="1.05"/><circle cx="910.0" cy="501.4" r="1.05"/><circle cx="197.5" cy="586.3" r="1.05"/><circle cx="163.9" cy="600.3" r="1.05"/><circle cx="417.3" cy="550.9" r="1.05"/><circle cx="593.0" cy="567.6" r="1.05"/><circle cx="420.1" cy="627.7" r="1.05"/><circle cx="865.0" cy="502.8" r="1.05"/><circle cx="371.6" cy="596.1" r="1.05"/><circle cx="535.3" cy="572.3" r="1.05"/><circle cx="263.8" cy="570.1" r="1.05"/><circle cx="466.3" cy="620.7" r="1.05"/><circle cx="712.2" cy="568.0" r="1.05"/><circle cx="1026.3" cy="558.2" r="1.05"/><circle cx="752.0" cy="485.6" r="1.05"/><circle cx="810.9" cy="638.1" r="1.05"/><circle cx="527.1" cy="546.3" r="1.05"/><circle cx="995.4" cy="489.3" r="1.05"/><circle cx="725.5" cy="563.7" r="1.05"/><circle cx="186.1" cy="570.0" r="1.05"/><circle cx="539.0" cy="475.7" r="1.05"/><circle cx="445.7" cy="616.9" r="1.05"/><circle cx="349.0" cy="590.2" r="1.05"/><circle cx="397.8" cy="575.7" r="1.05"/><circle cx="558.6" cy="564.8" r="1.05"/><circle cx="733.3" cy="557.9" r="1.05"/><circle cx="159.4" cy="568.2" r="1.05"/><circle cx="330.4" cy="573.0" r="1.05"/><circle cx="319.4" cy="588.4" r="1.05"/><circle cx="376.9" cy="617.3" r="1.05"/><circle cx="740.3" cy="507.5" r="1.05"/><circle cx="152.5" cy="531.2" r="1.05"/><circle cx="256.4" cy="538.8" r="1.05"/><circle cx="569.8" cy="546.2" r="1.05"/><circle cx="289.6" cy="535.5" r="1.05"/><circle cx="1048.2" cy="569.7" r="1.05"/><circle cx="301.6" cy="550.0" r="1.05"/><circle cx="907.5" cy="484.0" r="1.05"/><circle cx="290.1" cy="578.6" r="1.05"/><circle cx="285.3" cy="536.8" r="1.05"/><circle cx="466.8" cy="574.5" r="1.05"/><circle cx="351.9" cy="584.8" r="1.05"/><circle cx="855.4" cy="571.0" r="1.05"/><circle cx="623.6" cy="612.1" r="1.05"/><circle cx="260.4" cy="589.0" r="1.05"/><circle cx="530.8" cy="473.9" r="1.05"/><circle cx="555.1" cy="461.0" r="1.05"/><circle cx="604.4" cy="580.2" r="1.05"/><circle cx="289.6" cy="571.8" r="1.05"/><circle cx="510.4" cy="491.4" r="1.05"/><circle cx="266.4" cy="601.2" r="1.05"/><circle cx="705.4" cy="566.3" r="1.05"/><circle cx="478.9" cy="606.1" r="1.05"/><circle cx="262.0" cy="516.8" r="1.05"/><circle cx="202.8" cy="594.1" r="1.05"/><circle cx="673.3" cy="566.6" r="1.05"/><circle cx="966.1" cy="496.7" r="1.05"/><circle cx="241.3" cy="598.3" r="1.05"/><circle cx="966.2" cy="377.8" r="1.05"/><circle cx="264.5" cy="620.0" r="1.05"/><circle cx="818.6" cy="475.0" r="1.05"/><circle cx="549.1" cy="569.1" r="1.05"/><circle cx="458.2" cy="599.6" r="1.05"/><circle cx="919.4" cy="497.9" r="1.05"/><circle cx="344.0" cy="506.1" r="1.05"/><circle cx="970.9" cy="369.5" r="1.05"/><circle cx="524.9" cy="581.0" r="1.05"/><circle cx="539.1" cy="507.5" r="1.05"/><circle cx="644.2" cy="582.8" r="1.05"/><circle cx="224.1" cy="597.1" r="1.05"/><circle cx="520.3" cy="584.2" r="1.05"/><circle cx="465.1" cy="569.6" r="1.05"/><circle cx="566.1" cy="578.0" r="1.05"/><circle cx="283.8" cy="591.4" r="1.05"/><circle cx="911.7" cy="416.3" r="1.05"/><circle cx="563.3" cy="581.8" r="1.05"/><circle cx="446.8" cy="562.0" r="1.05"/><circle cx="380.3" cy="588.0" r="1.05"/><circle cx="327.6" cy="579.7" r="1.05"/><circle cx="1088.8" cy="290.3" r="1.05"/><circle cx="918.1" cy="496.1" r="1.05"/><circle cx="856.0" cy="452.4" r="1.05"/><circle cx="436.1" cy="569.0" r="1.05"/><circle cx="847.3" cy="421.5" r="1.05"/><circle cx="473.0" cy="565.4" r="1.05"/><circle cx="815.9" cy="431.6" r="1.05"/><circle cx="837.1" cy="579.8" r="1.05"/><circle cx="948.1" cy="375.0" r="1.05"/><circle cx="317.2" cy="556.5" r="1.05"/><circle cx="201.8" cy="597.8" r="1.05"/><circle cx="664.1" cy="574.5" r="1.05"/><circle cx="308.6" cy="617.4" r="1.05"/><circle cx="941.4" cy="511.8" r="1.05"/><circle cx="689.6" cy="536.1" r="1.05"/><circle cx="316.8" cy="587.5" r="1.05"/><circle cx="762.4" cy="463.1" r="1.05"/><circle cx="489.7" cy="620.2" r="1.05"/><circle cx="532.7" cy="570.2" r="1.05"/><circle cx="547.7" cy="599.6" r="1.05"/><circle cx="1029.5" cy="512.7" r="1.05"/><circle cx="548.6" cy="522.5" r="1.05"/><circle cx="738.8" cy="540.9" r="1.05"/><circle cx="496.2" cy="492.2" r="1.05"/><circle cx="481.9" cy="578.3" r="1.05"/><circle cx="263.7" cy="592.8" r="1.05"/><circle cx="630.1" cy="566.1" r="1.05"/><circle cx="526.4" cy="606.5" r="1.05"/><circle cx="814.1" cy="569.8" r="1.05"/><circle cx="637.3" cy="557.8" r="1.05"/><circle cx="534.3" cy="522.2" r="1.05"/><circle cx="979.2" cy="554.6" r="1.05"/><circle cx="689.5" cy="584.5" r="1.05"/><circle cx="920.6" cy="588.4" r="1.05"/><circle cx="563.5" cy="605.1" r="1.05"/><circle cx="290.9" cy="579.6" r="1.05"/><circle cx="360.2" cy="574.3" r="1.05"/><circle cx="611.4" cy="547.0" r="1.05"/><circle cx="949.8" cy="521.0" r="1.05"/><circle cx="662.7" cy="500.0" r="1.05"/><circle cx="543.7" cy="614.3" r="1.05"/><circle cx="565.4" cy="566.4" r="1.05"/><circle cx="365.2" cy="554.0" r="1.05"/><circle cx="238.2" cy="588.4" r="1.05"/><circle cx="188.5" cy="568.8" r="1.05"/><circle cx="693.0" cy="561.9" r="1.05"/><circle cx="516.4" cy="580.7" r="1.05"/><circle cx="672.0" cy="547.7" r="1.05"/><circle cx="860.7" cy="557.9" r="1.05"/><circle cx="232.4" cy="581.0" r="1.05"/><circle cx="372.0" cy="554.7" r="1.05"/><circle cx="262.4" cy="604.3" r="1.05"/><circle cx="823.5" cy="485.7" r="1.05"/><circle cx="537.7" cy="512.4" r="1.05"/><circle cx="325.4" cy="510.6" r="1.05"/><circle cx="466.2" cy="580.6" r="1.05"/><circle cx="659.6" cy="493.9" r="1.05"/><circle cx="183.5" cy="618.3" r="1.05"/><circle cx="493.6" cy="606.5" r="1.05"/><circle cx="782.4" cy="534.3" r="1.05"/><circle cx="888.4" cy="574.2" r="1.05"/><circle cx="546.1" cy="594.7" r="1.05"/><circle cx="508.2" cy="598.2" r="1.05"/><circle cx="307.1" cy="586.4" r="1.05"/><circle cx="154.5" cy="596.9" r="1.05"/><circle cx="357.8" cy="600.2" r="1.05"/><circle cx="217.4" cy="581.9" r="1.05"/><circle cx="851.0" cy="554.1" r="1.05"/><circle cx="159.1" cy="582.1" r="1.05"/><circle cx="805.1" cy="517.7" r="1.05"/><circle cx="419.7" cy="554.5" r="1.05"/><circle cx="466.9" cy="578.5" r="1.05"/><circle cx="278.7" cy="590.0" r="1.05"/><circle cx="549.0" cy="580.6" r="1.05"/><circle cx="236.5" cy="604.6" r="1.05"/><circle cx="448.8" cy="556.4" r="1.05"/><circle cx="686.9" cy="556.1" r="1.05"/><circle cx="170.9" cy="549.2" r="1.05"/><circle cx="491.8" cy="559.8" r="1.05"/><circle cx="144.6" cy="593.9" r="1.05"/><circle cx="320.2" cy="549.8" r="1.05"/><circle cx="462.6" cy="581.1" r="1.05"/><circle cx="202.1" cy="583.3" r="1.05"/><circle cx="783.8" cy="513.6" r="1.05"/><circle cx="559.6" cy="557.3" r="1.05"/><circle cx="833.7" cy="567.5" r="1.05"/><circle cx="654.9" cy="525.0" r="1.05"/><circle cx="350.6" cy="565.1" r="1.05"/><circle cx="1077.3" cy="473.9" r="1.05"/><circle cx="320.0" cy="583.6" r="1.05"/><circle cx="255.4" cy="573.7" r="1.05"/><circle cx="308.8" cy="611.8" r="1.05"/><circle cx="364.0" cy="527.3" r="1.05"/><circle cx="854.1" cy="621.1" r="1.05"/><circle cx="753.0" cy="585.3" r="1.05"/><circle cx="453.6" cy="599.1" r="1.05"/><circle cx="544.4" cy="553.1" r="1.05"/><circle cx="462.0" cy="571.7" r="1.05"/><circle cx="542.5" cy="555.0" r="1.05"/><circle cx="491.7" cy="604.0" r="1.05"/><circle cx="553.0" cy="514.0" r="1.05"/><circle cx="554.4" cy="529.7" r="1.05"/><circle cx="354.8" cy="622.2" r="1.05"/><circle cx="405.0" cy="569.9" r="1.05"/><circle cx="308.0" cy="619.8" r="1.05"/><circle cx="423.8" cy="590.4" r="1.05"/><circle cx="655.0" cy="534.9" r="1.05"/><circle cx="778.6" cy="541.7" r="1.05"/><circle cx="561.0" cy="604.8" r="1.05"/><circle cx="319.7" cy="594.9" r="1.05"/><circle cx="222.1" cy="548.9" r="1.05"/><circle cx="820.1" cy="526.4" r="1.05"/><circle cx="488.8" cy="545.4" r="1.05"/><circle cx="709.2" cy="608.8" r="1.05"/><circle cx="620.6" cy="541.4" r="1.05"/><circle cx="368.5" cy="572.2" r="1.05"/><circle cx="566.3" cy="595.9" r="1.05"/><circle cx="177.8" cy="537.7" r="1.05"/><circle cx="245.7" cy="582.7" r="1.05"/><circle cx="173.7" cy="557.4" r="1.05"/><circle cx="429.2" cy="589.1" r="1.05"/><circle cx="290.9" cy="568.8" r="1.05"/><circle cx="884.1" cy="486.5" r="1.05"/><circle cx="255.2" cy="584.0" r="1.05"/><circle cx="291.7" cy="577.3" r="1.05"/><circle cx="258.0" cy="572.6" r="1.05"/><circle cx="483.8" cy="575.1" r="1.05"/><circle cx="643.2" cy="599.9" r="1.05"/><circle cx="557.2" cy="554.9" r="1.05"/><circle cx="469.1" cy="576.5" r="1.05"/><circle cx="813.1" cy="521.7" r="1.05"/><circle cx="242.0" cy="599.4" r="1.05"/><circle cx="646.5" cy="477.9" r="1.05"/><circle cx="605.4" cy="523.1" r="1.05"/><circle cx="228.1" cy="535.9" r="1.05"/><circle cx="243.7" cy="512.5" r="1.05"/><circle cx="173.8" cy="552.4" r="1.05"/><circle cx="199.4" cy="588.8" r="1.05"/><circle cx="1003.7" cy="567.6" r="1.05"/><circle cx="464.1" cy="526.8" r="1.05"/><circle cx="309.0" cy="570.9" r="1.05"/><circle cx="217.8" cy="556.3" r="1.05"/><circle cx="375.3" cy="526.2" r="1.05"/><circle cx="308.8" cy="583.1" r="1.05"/><circle cx="429.6" cy="597.9" r="1.05"/><circle cx="278.1" cy="568.0" r="1.05"/><circle cx="310.9" cy="589.6" r="1.05"/><circle cx="175.1" cy="600.2" r="1.05"/><circle cx="495.8" cy="557.0" r="1.05"/><circle cx="468.7" cy="579.5" r="1.05"/><circle cx="510.0" cy="550.9" r="1.05"/><circle cx="866.0" cy="575.8" r="1.05"/><circle cx="633.8" cy="564.4" r="1.05"/><circle cx="191.0" cy="587.8" r="1.05"/><circle cx="164.3" cy="583.0" r="1.05"/><circle cx="436.7" cy="590.1" r="1.05"/><circle cx="448.2" cy="549.6" r="1.05"/><circle cx="987.6" cy="576.7" r="1.05"/><circle cx="450.8" cy="557.8" r="1.05"/><circle cx="861.3" cy="444.9" r="1.05"/><circle cx="893.2" cy="519.0" r="1.05"/><circle cx="814.4" cy="530.2" r="1.05"/><circle cx="499.5" cy="592.2" r="1.05"/><circle cx="492.1" cy="562.0" r="1.05"/><circle cx="782.9" cy="516.4" r="1.05"/><circle cx="1034.6" cy="469.3" r="1.05"/><circle cx="380.3" cy="564.6" r="1.05"/><circle cx="472.8" cy="552.5" r="1.05"/><circle cx="561.0" cy="558.1" r="1.05"/><circle cx="449.3" cy="615.9" r="1.05"/><circle cx="278.4" cy="604.3" r="1.05"/><circle cx="238.2" cy="583.5" r="1.05"/><circle cx="452.6" cy="469.4" r="1.05"/><circle cx="506.4" cy="526.1" r="1.05"/><circle cx="896.2" cy="518.8" r="1.05"/><circle cx="310.0" cy="583.8" r="1.05"/><circle cx="562.5" cy="580.2" r="1.05"/><circle cx="261.1" cy="563.2" r="1.05"/><circle cx="608.0" cy="573.1" r="1.05"/><circle cx="832.4" cy="527.9" r="1.05"/><circle cx="722.3" cy="582.6" r="1.05"/><circle cx="516.7" cy="582.5" r="1.05"/><circle cx="803.0" cy="578.6" r="1.05"/><circle cx="782.0" cy="573.6" r="1.05"/><circle cx="538.8" cy="579.0" r="1.05"/><circle cx="704.8" cy="488.1" r="1.05"/><circle cx="454.4" cy="561.1" r="1.05"/><circle cx="893.2" cy="438.0" r="1.05"/><circle cx="576.8" cy="580.2" r="1.05"/><circle cx="547.3" cy="557.5" r="1.05"/><circle cx="639.3" cy="580.4" r="1.05"/><circle cx="368.4" cy="581.8" r="1.05"/><circle cx="570.3" cy="571.1" r="1.05"/><circle cx="372.4" cy="612.7" r="1.05"/><circle cx="875.5" cy="519.4" r="1.05"/><circle cx="226.4" cy="606.2" r="1.05"/><circle cx="458.3" cy="556.0" r="1.05"/><circle cx="533.0" cy="587.4" r="1.05"/><circle cx="645.3" cy="606.2" r="1.05"/><circle cx="323.2" cy="605.0" r="1.05"/><circle cx="145.1" cy="601.6" r="1.05"/><circle cx="834.4" cy="426.0" r="1.05"/><circle cx="141.7" cy="608.4" r="1.05"/><circle cx="336.5" cy="587.9" r="1.05"/><circle cx="622.6" cy="555.4" r="1.05"/><circle cx="191.4" cy="586.4" r="1.05"/><circle cx="197.0" cy="583.7" r="1.05"/><circle cx="561.1" cy="539.9" r="1.05"/><circle cx="512.0" cy="590.4" r="1.05"/><circle cx="197.1" cy="523.9" r="1.05"/><circle cx="208.7" cy="539.0" r="1.05"/><circle cx="318.2" cy="573.3" r="1.05"/><circle cx="173.2" cy="540.2" r="1.05"/><circle cx="433.2" cy="570.7" r="1.05"/><circle cx="581.9" cy="579.1" r="1.05"/><circle cx="913.8" cy="574.5" r="1.05"/><circle cx="407.9" cy="592.7" r="1.05"/><circle cx="838.9" cy="495.7" r="1.05"/><circle cx="186.2" cy="573.8" r="1.05"/><circle cx="833.4" cy="411.4" r="1.05"/><circle cx="164.1" cy="532.5" r="1.05"/><circle cx="734.7" cy="501.4" r="1.05"/><circle cx="593.8" cy="559.7" r="1.05"/><circle cx="289.9" cy="515.6" r="1.05"/><circle cx="292.6" cy="580.8" r="1.05"/><circle cx="1056.3" cy="606.5" r="1.05"/><circle cx="493.5" cy="579.3" r="1.05"/><circle cx="712.9" cy="530.1" r="1.05"/><circle cx="243.9" cy="565.2" r="1.05"/><circle cx="529.3" cy="547.7" r="1.05"/><circle cx="518.3" cy="540.0" r="1.05"/><circle cx="238.2" cy="628.3" r="1.05"/><circle cx="473.1" cy="458.9" r="1.05"/><circle cx="617.3" cy="539.5" r="1.05"/><circle cx="365.8" cy="574.9" r="1.05"/><circle cx="946.0" cy="598.6" r="1.05"/><circle cx="758.6" cy="499.8" r="1.05"/><circle cx="775.1" cy="583.3" r="1.05"/><circle cx="247.3" cy="619.7" r="1.05"/><circle cx="548.0" cy="545.9" r="1.05"/><circle cx="534.8" cy="549.1" r="1.05"/><circle cx="609.8" cy="568.2" r="1.05"/><circle cx="1095.1" cy="536.2" r="1.05"/><circle cx="427.7" cy="561.5" r="1.05"/><circle cx="347.0" cy="576.9" r="1.05"/><circle cx="357.7" cy="568.1" r="1.05"/><circle cx="143.7" cy="572.8" r="1.05"/><circle cx="534.7" cy="608.9" r="1.05"/><circle cx="148.6" cy="572.2" r="1.05"/><circle cx="530.6" cy="604.0" r="1.05"/><circle cx="303.2" cy="567.2" r="1.05"/><circle cx="979.2" cy="526.6" r="1.05"/><circle cx="833.9" cy="558.1" r="1.05"/><circle cx="865.7" cy="396.6" r="1.05"/><circle cx="176.1" cy="311.8" r="1.05"/><circle cx="262.2" cy="373.6" r="1.05"/><circle cx="256.8" cy="392.0" r="1.05"/><circle cx="361.7" cy="271.7" r="1.05"/><circle cx="386.4" cy="268.8" r="1.05"/><circle cx="492.8" cy="331.1" r="1.05"/><circle cx="448.2" cy="350.9" r="1.05"/><circle cx="440.3" cy="365.7" r="1.05"/><circle cx="524.0" cy="369.7" r="1.05"/><circle cx="593.2" cy="371.2" r="1.05"/><circle cx="637.8" cy="357.8" r="1.05"/><circle cx="666.5" cy="386.5" r="1.05"/><circle cx="516.5" cy="400.4" r="1.05"/><circle cx="524.0" cy="403.8" r="1.05"/><circle cx="486.8" cy="425.1" r="1.05"/><circle cx="489.8" cy="429.6" r="1.05"/><circle cx="579.9" cy="415.7" r="1.05"/><circle cx="524.5" cy="432.0" r="1.05"/><circle cx="162.7" cy="449.4" r="1.05"/><circle cx="171.2" cy="446.0" r="1.05"/><circle cx="167.7" cy="454.3" r="1.05"/><circle cx="219.7" cy="452.8" r="1.05"/><circle cx="216.2" cy="464.2" r="1.05"/><circle cx="232.0" cy="474.1" r="1.05"/><circle cx="155.3" cy="475.6" r="1.05"/><circle cx="285.5" cy="468.2" r="1.05"/><circle cx="332.5" cy="465.7" r="1.05"/><circle cx="389.9" cy="464.7" r="1.05"/><circle cx="418.6" cy="449.4" r="1.05"/><circle cx="469.5" cy="449.4" r="1.05"/><circle cx="551.7" cy="438.5" r="1.05"/><circle cx="609.5" cy="440.0" r="1.05"/><circle cx="643.7" cy="446.9" r="1.05"/><circle cx="647.2" cy="450.8" r="1.05"/><circle cx="843.8" cy="169.8" r="1.05"/><circle cx="793.6" cy="202.8" r="1.05"/><circle cx="831.9" cy="232.6" r="1.05"/><circle cx="969.6" cy="192.9" r="1.05"/><circle cx="949.8" cy="201.8" r="1.05"/><circle cx="931.9" cy="239.2" r="1.05"/><circle cx="961.3" cy="269.6" r="1.05"/><circle cx="967.0" cy="290.4" r="1.05"/><circle cx="961.7" cy="294.3" r="1.05"/><circle cx="976.8" cy="284.7" r="1.05"/><circle cx="777.0" cy="273.8" r="1.05"/><circle cx="812.7" cy="276.5" r="1.05"/><circle cx="811.4" cy="291.3" r="1.05"/><circle cx="872.5" cy="274.2" r="1.05"/><circle cx="760.9" cy="299.6" r="1.05"/><circle cx="722.6" cy="307.5" r="1.05"/><circle cx="720.9" cy="330.0" r="1.05"/><circle cx="909.2" cy="292.7" r="1.05"/><circle cx="889.3" cy="307.2" r="1.05"/><circle cx="879.8" cy="321.1" r="1.05"/><circle cx="892.0" cy="323.7" r="1.05"/><circle cx="904.2" cy="318.1" r="1.05"/><circle cx="866.9" cy="329.3" r="1.05"/><circle cx="843.1" cy="333.3" r="1.05"/><circle cx="826.6" cy="351.5" r="1.05"/><circle cx="848.0" cy="350.8" r="1.05"/><circle cx="766.2" cy="359.0" r="1.05"/><circle cx="786.3" cy="360.7" r="1.05"/><circle cx="666.8" cy="387.1" r="1.05"/><circle cx="740.1" cy="387.8" r="1.05"/><circle cx="714.3" cy="392.7" r="1.05"/><circle cx="1087.0" cy="80.5" r="1.05"/><circle cx="1038.3" cy="160.9" r="1.05"/><circle cx="1012.5" cy="185.9" r="1.05"/><circle cx="1086.4" cy="158.8" r="1.05"/><circle cx="1072.3" cy="171.5" r="1.05"/><circle cx="1042.0" cy="180.1" r="1.05"/><circle cx="1043.8" cy="185.6" r="1.05"/><circle cx="1143.7" cy="194.9" r="1.05"/><circle cx="1106.6" cy="205.8" r="1.05"/><circle cx="1032.4" cy="205.8" r="1.05"/><circle cx="1052.0" cy="214.1" r="1.05"/><circle cx="1035.9" cy="227.8" r="1.05"/><circle cx="1041.4" cy="232.6" r="1.05"/><circle cx="1089.1" cy="227.8" r="1.05"/><circle cx="1096.7" cy="243.6" r="1.05"/><circle cx="1008.4" cy="259.7" r="1.05"/><circle cx="1099.7" cy="269.4" r="1.05"/><circle cx="1133.0" cy="268.0" r="1.05"/><circle cx="976.8" cy="284.5" r="1.05"/><circle cx="966.9" cy="290.0" r="1.05"/><circle cx="1088.4" cy="279.7" r="1.05"/><circle cx="1082.6" cy="285.5" r="1.05"/><circle cx="368.2" cy="652.2" r="1.05"/><circle cx="956.0" cy="647.8" r="1.05"/><circle cx="319.1" cy="645.1" r="1.05"/><circle cx="250.2" cy="637.0" r="1.05"/><circle cx="269.7" cy="638.0" r="1.05"/></g>
<g stroke="#000" stroke-width="4.6" stroke-linecap="round">
<line x1="838.3" y1="444.2" x2="855.1" y2="461.0"/><line x1="838.3" y1="461.0" x2="855.1" y2="444.2"/>
</g>
<g stroke="#000" stroke-width="1.8" fill="none" stroke-linejoin="round">
<path d="M91,15 V689 H1200"/>
</g>
<g stroke="#333" stroke-width="1.9">
<path d="M86.5,130.5H91M86.5,306.6H91M86.5,482.6H91M86.5,658.7H91"/>
<path d="M241.9,689V693.5M443.5,689V693.5M645.2,689V693.5M846.8,689V693.5M1048.5,689V693.5"/>
</g>
<g font-family="'Liberation Sans', sans-serif" font-size="21" fill="#4D4D4D" text-anchor="end">
<text transform="translate(82.5,138.6) scale(1,1.11)">300</text><text transform="translate(82.5,314.7) scale(1,1.11)">200</text><text transform="translate(82.5,490.7) scale(1,1.11)">100</text><text transform="translate(82.5,666.8) scale(1,1.11)">0</text>
</g>
<g font-family="'Liberation Sans', sans-serif" font-size="21" fill="#4D4D4D" text-anchor="middle">
<text transform="translate(241.9,712.6) scale(1,1.11)">30</text><text transform="translate(443.5,712.6) scale(1,1.11)">40</text><text transform="translate(645.2,712.6) scale(1,1.11)">50</text><text transform="translate(846.8,712.6) scale(1,1.11)">60</text><text transform="translate(1048.5,712.6) scale(1,1.11)">70</text>
</g>
<text font-family="'Liberation Sans', sans-serif" font-size="27" transform="translate(645.5,742) scale(1,1.03)" text-anchor="middle">Age [years]</text>
<text font-family="'Liberation Sans', sans-serif" font-size="27" transform="translate(35.8,352.4) rotate(-90) scale(1.008,1.05)" text-anchor="middle">GFAP [pg/ml]</text>
<text font-family="'Liberation Sans', sans-serif" font-size="27" transform="translate(122,46.9) scale(1,1.05)">GFAP Z scores</text>
<g stroke-width="1.6" stroke-linecap="round">
<line x1="124.8" y1="71.6" x2="144.4" y2="71.6" stroke="#FF0000"/>
<line x1="124.8" y1="97.6" x2="144.4" y2="97.6" stroke="#FFA500"/>
<line x1="124.8" y1="123.5" x2="144.4" y2="123.5" stroke="#00FF00"/>
<line x1="124.8" y1="149.3" x2="144.4" y2="149.3" stroke="#EE82EE"/>
</g>
<g font-family="'Liberation Sans', sans-serif" font-size="21.5" fill="#000">
<text transform="translate(156,79.6) scale(1,1.06)">2</text><text transform="translate(156,105.5) scale(1,1.06)">1.5</text><text transform="translate(156,131.3) scale(1,1.06)">1</text><text transform="translate(156,157.1) scale(1,1.06)">0</text>
</g>
<text font-family="'Liberation Sans', sans-serif" font-size="33.7" transform="translate(1199.6,40) scale(1,1.05)" text-anchor="end">Female</text>
</svg></body></html>
